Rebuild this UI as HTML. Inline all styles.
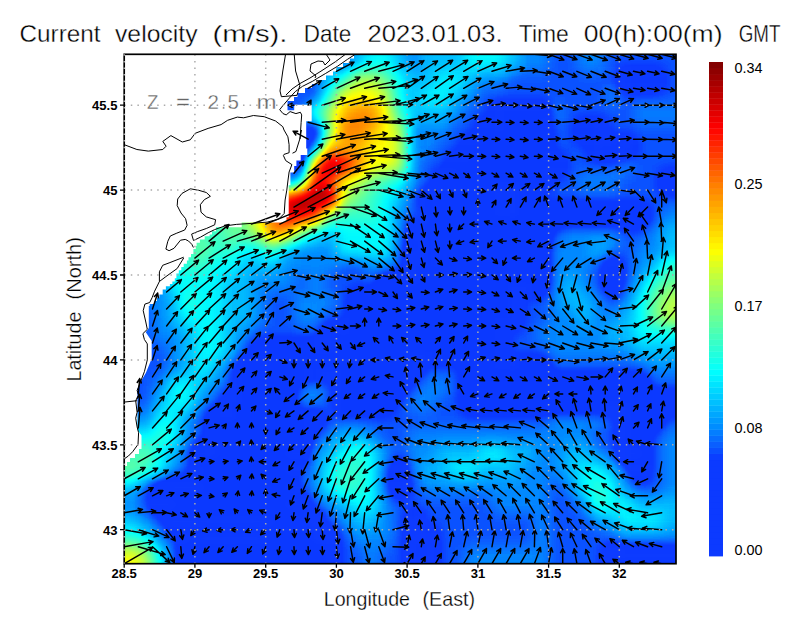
<!DOCTYPE html>
<html><head><meta charset="utf-8"><style>
html,body{margin:0;padding:0;background:#fff;}
body{width:800px;height:618px;overflow:hidden;}
svg{display:block;font-family:"Liberation Sans",sans-serif;}
</style></head><body>
<svg width="800" height="618" viewBox="0 0 800 618">
<defs>
<clipPath id="pc"><rect x="124.2" y="54.3" width="551.8" height="509.4"/></clipPath>
<filter id="fz" x="0" y="0" width="800" height="618" filterUnits="userSpaceOnUse" color-interpolation-filters="sRGB">
<feGaussianBlur stdDeviation="3.5"/>
<feComponentTransfer>
<feFuncR type="table" tableValues="0.047 0.047 0.047 0.047 0.047 0.047 0.047 0.047 0.047 0.047 0.047 0.047 0.047 0.047 0.045 0.041 0.033 0.016 0.000 0.000 0.000 0.000 0.000 0.000 0.000 0.000 0.033 0.087 0.142 0.196 0.251 0.308 0.365 0.422 0.479 0.540 0.602 0.665 0.728 0.794 0.863 0.931 1.000 1.000 1.000 1.000 1.000 1.000 1.000 1.000 1.000 1.000 1.000 1.000 1.000 1.000 1.000 1.000 1.000 1.000 0.945 0.889 0.834 0.778 0.722 0.664 0.606 0.548 0.490"/>
<feFuncG type="table" tableValues="0.227 0.227 0.227 0.227 0.227 0.227 0.227 0.227 0.227 0.227 0.227 0.227 0.227 0.227 0.272 0.347 0.422 0.495 0.569 0.627 0.686 0.745 0.803 0.861 0.919 0.977 1.000 1.000 1.000 1.000 1.000 1.000 1.000 1.000 1.000 1.000 1.000 1.000 1.000 1.000 1.000 1.000 1.000 0.945 0.889 0.834 0.778 0.723 0.668 0.612 0.557 0.502 0.439 0.376 0.314 0.251 0.188 0.125 0.063 0.000 0.000 0.000 0.000 0.000 0.000 0.000 0.000 0.000 0.000"/>
<feFuncB type="table" tableValues="1.000 1.000 1.000 1.000 1.000 1.000 1.000 1.000 1.000 1.000 1.000 1.000 1.000 1.000 1.000 1.000 1.000 1.000 1.000 1.000 1.000 1.000 1.000 1.000 1.000 1.000 0.968 0.914 0.860 0.807 0.753 0.696 0.639 0.582 0.525 0.464 0.402 0.339 0.276 0.209 0.139 0.070 0.000 0.000 0.000 0.000 0.000 0.000 0.000 0.000 0.000 0.000 0.000 0.000 0.000 0.000 0.000 0.000 0.000 0.000 0.000 0.000 0.000 0.000 0.000 0.000 0.000 0.000 0.000"/>
</feComponentTransfer>
</filter>
</defs>
<rect width="800" height="618" fill="#fff"/>
<g fill="#000" stroke="#fff" stroke-width="0.35"><text x="19.50" y="42.00" font-size="24" textLength="81.00" lengthAdjust="spacingAndGlyphs">Current</text><text x="115.00" y="42.00" font-size="24" textLength="82.50" lengthAdjust="spacingAndGlyphs">velocity</text><text x="212.50" y="42.00" font-size="24" textLength="75.00" lengthAdjust="spacingAndGlyphs">(m/s).</text><text x="303.75" y="42.00" font-size="24" textLength="47.50" lengthAdjust="spacingAndGlyphs">Date</text><text x="367.50" y="42.00" font-size="24" textLength="135.00" lengthAdjust="spacingAndGlyphs">2023.01.03.</text><text x="518.75" y="42.00" font-size="24" textLength="50.00" lengthAdjust="spacingAndGlyphs">Time</text><text x="583.75" y="42.00" font-size="24" textLength="138.75" lengthAdjust="spacingAndGlyphs">00(h):00(m)</text><text x="738.75" y="42.00" font-size="24" textLength="41.75" lengthAdjust="spacingAndGlyphs">GMT</text></g>
<g clip-path="url(#pc)">
<g filter="url(#fz)"><path fill="rgb(12,12,12)" d="M216.1 419.4h42.9v9.0h-42.9zM216.1 427.9h42.9v9.0h-42.9zM216.1 436.4h42.9v9.0h-42.9zM216.1 444.8h42.9v9.0h-42.9zM202.0 453.3h57.1v9.0h-57.1zM202.0 461.8h57.1v9.0h-57.1zM202.0 470.3h57.1v9.0h-57.1zM202.0 478.8h57.1v9.0h-57.1zM202.0 487.3h57.1v9.0h-57.1zM202.0 495.8h57.1v9.0h-57.1zM202.0 504.3h57.1v9.0h-57.1zM202.0 512.8h57.1v9.0h-57.1z"/><path fill="rgb(15,15,15)" d="M230.3 410.9h28.8v9.0h-28.8zM258.6 419.4h7.6v9.0h-7.6zM258.6 427.9h7.6v9.0h-7.6zM258.6 436.4h7.6v9.0h-7.6zM209.1 444.8h7.6v9.0h-7.6zM258.6 444.8h7.6v9.0h-7.6zM258.6 453.3h7.6v9.0h-7.6zM258.6 461.8h7.6v9.0h-7.6zM258.6 470.3h7.6v9.0h-7.6zM258.6 478.8h7.6v9.0h-7.6zM194.9 487.3h7.6v9.0h-7.6zM258.6 487.3h7.6v9.0h-7.6zM194.9 495.8h7.6v9.0h-7.6zM258.6 495.8h7.6v9.0h-7.6zM194.9 504.3h7.6v9.0h-7.6zM258.6 504.3h7.6v9.0h-7.6zM194.9 512.8h7.6v9.0h-7.6zM258.6 512.8h7.6v9.0h-7.6zM202.0 521.2h57.1v9.0h-57.1z"/><path fill="rgb(17,17,17)" d="M223.2 410.9h7.6v9.0h-7.6zM258.6 410.9h7.6v9.0h-7.6zM194.9 478.8h7.6v9.0h-7.6zM194.9 521.2h7.6v9.0h-7.6zM258.6 521.2h7.6v9.0h-7.6z"/><path fill="rgb(20,20,20)" d="M230.3 402.4h28.8v9.0h-28.8zM265.7 419.4h7.6v9.0h-7.6zM265.7 427.9h7.6v9.0h-7.6zM209.1 436.4h7.6v9.0h-7.6zM265.7 436.4h7.6v9.0h-7.6zM202.0 444.8h7.6v9.0h-7.6zM265.7 444.8h7.6v9.0h-7.6zM265.7 453.3h7.6v9.0h-7.6zM265.7 461.8h7.6v9.0h-7.6zM265.7 470.3h7.6v9.0h-7.6zM265.7 478.8h7.6v9.0h-7.6zM187.9 487.3h7.6v9.0h-7.6zM265.7 487.3h7.6v9.0h-7.6zM187.9 495.8h7.6v9.0h-7.6zM265.7 495.8h7.6v9.0h-7.6zM187.9 504.3h7.6v9.0h-7.6zM265.7 504.3h7.6v9.0h-7.6zM187.9 512.8h7.6v9.0h-7.6zM265.7 512.8h7.6v9.0h-7.6zM202.0 529.7h57.1v9.0h-57.1z"/><path fill="rgb(21,21,21)" d="M258.6 402.4h7.6v9.0h-7.6zM216.1 410.9h7.6v9.0h-7.6zM265.7 410.9h7.6v9.0h-7.6zM194.9 470.3h7.6v9.0h-7.6zM187.9 521.2h7.6v9.0h-7.6zM265.7 521.2h7.6v9.0h-7.6zM194.9 529.7h7.6v9.0h-7.6zM258.6 529.7h7.6v9.0h-7.6z"/><path fill="rgb(22,22,22)" d="M499.1 113.7h42.9v9.0h-42.9zM499.1 122.2h42.9v9.0h-42.9zM484.9 130.7h57.1v9.0h-57.1zM484.9 139.2h57.1v9.0h-57.1zM470.8 147.7h71.2v9.0h-71.2zM470.8 156.2h71.2v9.0h-71.2zM456.6 164.7h85.4v9.0h-85.4zM456.6 173.2h85.4v9.0h-85.4zM442.5 181.7h57.1v9.0h-57.1zM442.5 190.1h57.1v9.0h-57.1zM442.5 198.6h57.1v9.0h-57.1zM442.5 207.1h57.1v9.0h-57.1zM442.5 215.6h99.5v9.0h-99.5zM442.5 224.1h99.5v9.0h-99.5zM442.5 232.6h99.5v9.0h-99.5zM442.5 241.1h99.5v9.0h-99.5zM442.5 249.6h99.5v9.0h-99.5zM442.5 258.1h99.5v9.0h-99.5zM414.2 266.6h127.8v9.0h-127.8zM414.2 275.0h127.8v9.0h-127.8zM385.9 283.5h127.8v9.0h-127.8zM385.9 292.0h127.8v9.0h-127.8zM357.6 300.5h156.1v9.0h-156.1zM357.6 309.0h156.1v9.0h-156.1zM357.6 317.5h142.0v9.0h-142.0zM357.6 326.0h142.0v9.0h-142.0zM329.3 334.5h170.3v9.0h-170.3zM329.3 343.0h170.3v9.0h-170.3zM258.6 351.5h156.1v9.0h-156.1zM470.8 351.5h28.8v9.0h-28.8zM258.6 359.9h156.1v9.0h-156.1zM470.8 359.9h28.8v9.0h-28.8zM244.4 368.4h42.9v9.0h-42.9zM343.5 368.4h57.1v9.0h-57.1zM470.8 368.4h71.2v9.0h-71.2zM244.4 376.9h42.9v9.0h-42.9zM343.5 376.9h57.1v9.0h-57.1zM470.8 376.9h71.2v9.0h-71.2zM244.4 385.4h42.9v9.0h-42.9zM343.5 385.4h42.9v9.0h-42.9zM470.8 385.4h170.3v9.0h-170.3zM244.4 393.9h42.9v9.0h-42.9zM343.5 393.9h42.9v9.0h-42.9zM470.8 393.9h170.3v9.0h-170.3zM265.7 402.4h21.7v9.0h-21.7zM626.4 402.4h28.8v9.0h-28.8zM272.7 410.9h14.6v9.0h-14.6zM626.4 410.9h28.8v9.0h-28.8zM272.7 419.4h28.8v9.0h-28.8zM626.4 419.4h14.6v9.0h-14.6zM272.7 427.9h28.8v9.0h-28.8zM626.4 427.9h14.6v9.0h-14.6zM272.7 436.4h28.8v9.0h-28.8zM626.4 436.4h14.6v9.0h-14.6zM272.7 444.8h28.8v9.0h-28.8zM626.4 444.8h14.6v9.0h-14.6zM272.7 453.3h14.6v9.0h-14.6zM272.7 461.8h14.6v9.0h-14.6zM272.7 470.3h14.6v9.0h-14.6zM272.7 478.8h14.6v9.0h-14.6zM159.6 487.3h28.8v9.0h-28.8zM272.7 487.3h14.6v9.0h-14.6zM159.6 495.8h28.8v9.0h-28.8zM272.7 495.8h14.6v9.0h-14.6zM173.7 504.3h14.6v9.0h-14.6zM272.7 504.3h28.8v9.0h-28.8zM173.7 512.8h14.6v9.0h-14.6zM272.7 512.8h28.8v9.0h-28.8zM272.7 521.2h42.9v9.0h-42.9zM187.9 529.7h7.6v9.0h-7.6zM265.7 529.7h50.0v9.0h-50.0zM187.9 538.2h142.0v9.0h-142.0zM414.2 538.2h14.6v9.0h-14.6zM187.9 546.7h142.0v9.0h-142.0zM414.2 546.7h14.6v9.0h-14.6zM187.9 555.2h142.0v9.0h-142.0zM414.2 555.2h14.6v9.0h-14.6zM612.2 555.2h106.6v9.0h-106.6zM187.9 563.7h142.0v9.0h-142.0zM414.2 563.7h14.6v9.0h-14.6zM612.2 563.7h106.6v9.0h-106.6zM187.9 572.2h142.0v9.0h-142.0zM414.2 572.2h14.6v9.0h-14.6zM612.2 572.2h106.6v9.0h-106.6zM187.9 580.7h142.0v9.0h-142.0zM414.2 580.7h14.6v9.0h-14.6zM612.2 580.7h106.6v9.0h-106.6zM187.9 589.2h142.0v9.0h-142.0zM414.2 589.2h14.6v9.0h-14.6zM612.2 589.2h106.6v9.0h-106.6zM187.9 597.7h142.0v9.0h-142.0zM414.2 597.7h14.6v9.0h-14.6zM612.2 597.7h106.6v9.0h-106.6zM187.9 606.1h142.0v9.0h-142.0zM414.2 606.1h14.6v9.0h-14.6zM612.2 606.1h106.6v9.0h-106.6z"/><path fill="rgb(23,23,23)" d="M209.1 419.4h7.6v9.0h-7.6zM209.1 427.9h7.6v9.0h-7.6zM194.9 453.3h7.6v9.0h-7.6zM194.9 461.8h7.6v9.0h-7.6z"/><path fill="rgb(25,25,25)" d="M492.0 122.2h7.6v9.0h-7.6zM591.0 130.7h7.6v9.0h-7.6zM477.9 139.2h7.6v9.0h-7.6zM598.1 139.2h7.6v9.0h-7.6zM463.7 156.2h7.6v9.0h-7.6zM541.5 156.2h7.6v9.0h-7.6zM541.5 164.7h7.6v9.0h-7.6zM449.6 173.2h7.6v9.0h-7.6zM499.1 181.7h7.6v9.0h-7.6zM435.4 190.1h7.6v9.0h-7.6zM435.4 198.6h7.6v9.0h-7.6zM499.1 207.1h7.6v9.0h-7.6zM541.5 215.6h7.6v9.0h-7.6zM414.2 258.1h7.6v9.0h-7.6zM435.4 258.1h7.6v9.0h-7.6zM407.1 275.0h7.6v9.0h-7.6zM513.2 283.5h7.6v9.0h-7.6zM378.8 292.0h7.6v9.0h-7.6zM499.1 317.5h7.6v9.0h-7.6zM350.5 326.0h7.6v9.0h-7.6zM322.2 343.0h7.6v9.0h-7.6zM414.2 351.5h7.6v9.0h-7.6zM463.7 351.5h7.6v9.0h-7.6zM251.5 359.9h7.6v9.0h-7.6zM499.1 359.9h7.6v9.0h-7.6zM286.9 368.4h7.6v9.0h-7.6zM336.4 368.4h7.6v9.0h-7.6zM400.0 368.4h7.6v9.0h-7.6zM541.5 376.9h7.6v9.0h-7.6zM385.9 385.4h7.6v9.0h-7.6zM237.4 393.9h7.6v9.0h-7.6zM640.5 393.9h7.6v9.0h-7.6zM619.3 402.4h7.6v9.0h-7.6zM654.7 402.4h7.6v9.0h-7.6zM286.9 410.9h7.6v9.0h-7.6zM301.0 419.4h7.6v9.0h-7.6zM640.5 419.4h7.6v9.0h-7.6zM286.9 453.3h7.6v9.0h-7.6zM633.5 453.3h7.6v9.0h-7.6zM286.9 495.8h7.6v9.0h-7.6zM166.6 504.3h7.6v9.0h-7.6zM301.0 512.8h7.6v9.0h-7.6zM180.8 521.2h7.6v9.0h-7.6zM315.2 529.7h7.6v9.0h-7.6zM414.2 529.7h7.6v9.0h-7.6z"/><path fill="rgb(26,26,26)" d="M223.2 402.4h7.6v9.0h-7.6zM187.9 478.8h7.6v9.0h-7.6z"/><path fill="rgb(28,28,28)" d="M294.0 147.7h7.6v9.0h-7.6z"/><path fill="rgb(29,29,29)" d="M492.0 113.7h7.6v9.0h-7.6zM484.9 122.2h7.6v9.0h-7.6zM477.9 130.7h7.6v9.0h-7.6zM583.9 130.7h7.6v9.0h-7.6zM598.1 130.7h7.6v9.0h-7.6zM470.8 139.2h7.6v9.0h-7.6zM591.0 139.2h7.6v9.0h-7.6zM605.2 139.2h7.6v9.0h-7.6zM463.7 147.7h7.6v9.0h-7.6zM541.5 147.7h7.6v9.0h-7.6zM456.6 156.2h7.6v9.0h-7.6zM548.6 156.2h7.6v9.0h-7.6zM449.6 164.7h7.6v9.0h-7.6zM548.6 164.7h7.6v9.0h-7.6zM442.5 173.2h7.6v9.0h-7.6zM541.5 173.2h7.6v9.0h-7.6zM435.4 181.7h7.6v9.0h-7.6zM506.1 181.7h7.6v9.0h-7.6zM428.3 190.1h7.6v9.0h-7.6zM499.1 190.1h7.6v9.0h-7.6zM428.3 198.6h7.6v9.0h-7.6zM499.1 198.6h7.6v9.0h-7.6zM435.4 207.1h7.6v9.0h-7.6zM506.1 207.1h7.6v9.0h-7.6zM548.6 215.6h7.6v9.0h-7.6zM541.5 224.1h7.6v9.0h-7.6zM414.2 249.6h7.6v9.0h-7.6zM435.4 249.6h7.6v9.0h-7.6zM421.3 258.1h14.6v9.0h-14.6zM407.1 266.6h7.6v9.0h-7.6zM400.0 275.0h7.6v9.0h-7.6zM378.8 283.5h7.6v9.0h-7.6zM520.3 283.5h7.6v9.0h-7.6zM371.8 292.0h7.6v9.0h-7.6zM513.2 292.0h7.6v9.0h-7.6zM350.5 317.5h7.6v9.0h-7.6zM506.1 317.5h7.6v9.0h-7.6zM343.5 326.0h7.6v9.0h-7.6zM499.1 326.0h7.6v9.0h-7.6zM322.2 334.5h7.6v9.0h-7.6zM315.2 343.0h7.6v9.0h-7.6zM251.5 351.5h7.6v9.0h-7.6zM421.3 351.5h7.6v9.0h-7.6zM456.6 351.5h7.6v9.0h-7.6zM499.1 351.5h7.6v9.0h-7.6zM244.4 359.9h7.6v9.0h-7.6zM414.2 359.9h7.6v9.0h-7.6zM463.7 359.9h7.6v9.0h-7.6zM506.1 359.9h7.6v9.0h-7.6zM294.0 368.4h7.6v9.0h-7.6zM329.3 368.4h7.6v9.0h-7.6zM407.1 368.4h7.6v9.0h-7.6zM541.5 368.4h7.6v9.0h-7.6zM286.9 376.9h7.6v9.0h-7.6zM336.4 376.9h7.6v9.0h-7.6zM400.0 376.9h7.6v9.0h-7.6zM548.6 376.9h7.6v9.0h-7.6zM237.4 385.4h7.6v9.0h-7.6zM393.0 385.4h7.6v9.0h-7.6zM640.5 385.4h7.6v9.0h-7.6zM230.3 393.9h7.6v9.0h-7.6zM385.9 393.9h7.6v9.0h-7.6zM647.6 393.9h7.6v9.0h-7.6zM612.2 402.4h7.6v9.0h-7.6zM661.7 402.4h7.6v9.0h-7.6zM619.3 410.9h7.6v9.0h-7.6zM654.7 410.9h7.6v9.0h-7.6zM308.1 419.4h7.6v9.0h-7.6zM647.6 419.4h7.6v9.0h-7.6zM301.0 427.9h7.6v9.0h-7.6zM640.5 427.9h7.6v9.0h-7.6zM294.0 453.3h7.6v9.0h-7.6zM626.4 453.3h7.6v9.0h-7.6zM286.9 461.8h7.6v9.0h-7.6zM633.5 461.8h7.6v9.0h-7.6zM286.9 487.3h7.6v9.0h-7.6zM294.0 495.8h7.6v9.0h-7.6zM159.6 504.3h7.6v9.0h-7.6zM301.0 504.3h7.6v9.0h-7.6zM166.6 512.8h7.6v9.0h-7.6zM308.1 512.8h7.6v9.0h-7.6zM173.7 521.2h7.6v9.0h-7.6zM315.2 521.2h7.6v9.0h-7.6zM414.2 521.2h7.6v9.0h-7.6zM180.8 529.7h7.6v9.0h-7.6zM322.2 529.7h7.6v9.0h-7.6zM421.3 529.7h7.6v9.0h-7.6z"/><path fill="rgb(30,30,30)" d="M294.0 156.2h7.6v9.0h-7.6z"/><path fill="rgb(31,31,31)" d="M626.4 71.3h28.8v9.0h-28.8zM626.4 79.8h28.8v9.0h-28.8zM499.1 105.2h42.9v9.0h-42.9zM541.5 122.2h7.6v9.0h-7.6zM583.9 122.2h14.6v9.0h-14.6zM541.5 130.7h7.6v9.0h-7.6zM541.5 139.2h7.6v9.0h-7.6zM612.2 139.2h14.6v9.0h-14.6zM598.1 147.7h21.7v9.0h-21.7zM668.8 173.2h50.0v9.0h-50.0zM513.2 181.7h28.8v9.0h-28.8zM668.8 181.7h50.0v9.0h-50.0zM513.2 207.1h127.8v9.0h-127.8zM435.4 215.6h7.6v9.0h-7.6zM555.7 215.6h7.6v9.0h-7.6zM619.3 215.6h21.7v9.0h-21.7zM435.4 224.1h7.6v9.0h-7.6zM414.2 232.6h7.6v9.0h-7.6zM435.4 232.6h7.6v9.0h-7.6zM541.5 232.6h7.6v9.0h-7.6zM407.1 241.1h14.6v9.0h-14.6zM435.4 241.1h7.6v9.0h-7.6zM407.1 249.6h7.6v9.0h-7.6zM407.1 258.1h7.6v9.0h-7.6zM605.2 266.6h14.6v9.0h-14.6zM393.0 275.0h7.6v9.0h-7.6zM605.2 275.0h14.6v9.0h-14.6zM527.4 283.5h14.6v9.0h-14.6zM357.6 292.0h14.6v9.0h-14.6zM350.5 300.5h7.6v9.0h-7.6zM513.2 300.5h7.6v9.0h-7.6zM350.5 309.0h7.6v9.0h-7.6zM513.2 309.0h7.6v9.0h-7.6zM329.3 326.0h14.6v9.0h-14.6zM499.1 334.5h7.6v9.0h-7.6zM258.6 343.0h57.1v9.0h-57.1zM499.1 343.0h7.6v9.0h-7.6zM428.3 351.5h28.8v9.0h-28.8zM513.2 359.9h28.8v9.0h-28.8zM237.4 368.4h7.6v9.0h-7.6zM301.0 368.4h7.6v9.0h-7.6zM322.2 368.4h7.6v9.0h-7.6zM463.7 368.4h7.6v9.0h-7.6zM237.4 376.9h7.6v9.0h-7.6zM463.7 376.9h7.6v9.0h-7.6zM555.7 376.9h85.4v9.0h-85.4zM286.9 385.4h7.6v9.0h-7.6zM336.4 385.4h7.6v9.0h-7.6zM463.7 385.4h7.6v9.0h-7.6zM336.4 393.9h7.6v9.0h-7.6zM463.7 393.9h7.6v9.0h-7.6zM654.7 393.9h64.2v9.0h-64.2zM286.9 402.4h7.6v9.0h-7.6zM343.5 402.4h42.9v9.0h-42.9zM470.8 402.4h78.3v9.0h-78.3zM605.2 402.4h7.6v9.0h-7.6zM668.8 402.4h50.0v9.0h-50.0zM209.1 410.9h7.6v9.0h-7.6zM294.0 410.9h7.6v9.0h-7.6zM619.3 419.4h7.6v9.0h-7.6zM619.3 427.9h7.6v9.0h-7.6zM301.0 436.4h7.6v9.0h-7.6zM619.3 436.4h7.6v9.0h-7.6zM640.5 436.4h7.6v9.0h-7.6zM194.9 444.8h7.6v9.0h-7.6zM619.3 444.8h7.6v9.0h-7.6zM640.5 444.8h7.6v9.0h-7.6zM640.5 453.3h7.6v9.0h-7.6zM640.5 461.8h7.6v9.0h-7.6zM286.9 470.3h7.6v9.0h-7.6zM393.0 470.3h7.6v9.0h-7.6zM180.8 478.8h7.6v9.0h-7.6zM286.9 478.8h7.6v9.0h-7.6zM393.0 478.8h14.6v9.0h-14.6zM152.5 487.3h7.6v9.0h-7.6zM152.5 495.8h7.6v9.0h-7.6zM407.1 521.2h7.6v9.0h-7.6zM407.1 529.7h7.6v9.0h-7.6zM180.8 538.2h7.6v9.0h-7.6zM329.3 538.2h7.6v9.0h-7.6zM407.1 538.2h7.6v9.0h-7.6zM428.3 538.2h7.6v9.0h-7.6zM180.8 546.7h7.6v9.0h-7.6zM329.3 546.7h7.6v9.0h-7.6zM407.1 546.7h7.6v9.0h-7.6zM428.3 546.7h7.6v9.0h-7.6zM612.2 546.7h7.6v9.0h-7.6zM180.8 555.2h7.6v9.0h-7.6zM329.3 555.2h7.6v9.0h-7.6zM407.1 555.2h7.6v9.0h-7.6zM428.3 555.2h7.6v9.0h-7.6zM605.2 555.2h7.6v9.0h-7.6zM180.8 563.7h7.6v9.0h-7.6zM329.3 563.7h7.6v9.0h-7.6zM407.1 563.7h7.6v9.0h-7.6zM428.3 563.7h7.6v9.0h-7.6zM605.2 563.7h7.6v9.0h-7.6zM180.8 572.2h7.6v9.0h-7.6zM329.3 572.2h7.6v9.0h-7.6zM407.1 572.2h7.6v9.0h-7.6zM428.3 572.2h7.6v9.0h-7.6zM605.2 572.2h7.6v9.0h-7.6zM180.8 580.7h7.6v9.0h-7.6zM329.3 580.7h7.6v9.0h-7.6zM407.1 580.7h7.6v9.0h-7.6zM428.3 580.7h7.6v9.0h-7.6zM605.2 580.7h7.6v9.0h-7.6zM180.8 589.2h7.6v9.0h-7.6zM329.3 589.2h7.6v9.0h-7.6zM407.1 589.2h7.6v9.0h-7.6zM428.3 589.2h7.6v9.0h-7.6zM605.2 589.2h7.6v9.0h-7.6zM180.8 597.7h7.6v9.0h-7.6zM329.3 597.7h7.6v9.0h-7.6zM407.1 597.7h7.6v9.0h-7.6zM428.3 597.7h7.6v9.0h-7.6zM605.2 597.7h7.6v9.0h-7.6zM180.8 606.1h7.6v9.0h-7.6zM329.3 606.1h7.6v9.0h-7.6zM407.1 606.1h7.6v9.0h-7.6zM428.3 606.1h7.6v9.0h-7.6zM605.2 606.1h7.6v9.0h-7.6z"/><path fill="rgb(33,33,33)" d="M541.5 113.7h7.6v9.0h-7.6zM294.0 139.2h7.6v9.0h-7.6zM619.3 147.7h7.6v9.0h-7.6zM562.7 215.6h57.1v9.0h-57.1zM407.1 232.6h7.6v9.0h-7.6zM541.5 241.1h7.6v9.0h-7.6zM541.5 249.6h7.6v9.0h-7.6zM541.5 258.1h7.6v9.0h-7.6zM541.5 266.6h7.6v9.0h-7.6zM385.9 275.0h7.6v9.0h-7.6zM541.5 275.0h7.6v9.0h-7.6zM308.1 368.4h14.6v9.0h-14.6zM286.9 393.9h7.6v9.0h-7.6zM548.6 402.4h57.1v9.0h-57.1zM301.0 410.9h14.6v9.0h-14.6zM301.0 444.8h7.6v9.0h-7.6zM400.0 470.3h7.6v9.0h-7.6zM173.7 478.8h7.6v9.0h-7.6zM619.3 546.7h99.5v9.0h-99.5z"/><path fill="rgb(35,35,35)" d="M166.6 478.8h7.6v9.0h-7.6z"/><path fill="rgb(36,36,36)" d="M202.0 436.4h7.6v9.0h-7.6z"/><path fill="rgb(37,37,37)" d="M619.3 71.3h7.6v9.0h-7.6zM654.7 71.3h7.6v9.0h-7.6zM619.3 79.8h7.6v9.0h-7.6zM654.7 79.8h7.6v9.0h-7.6zM492.0 105.2h7.6v9.0h-7.6zM477.9 122.2h7.6v9.0h-7.6zM576.9 122.2h7.6v9.0h-7.6zM598.1 122.2h7.6v9.0h-7.6zM308.1 130.7h7.6v9.0h-7.6zM576.9 130.7h7.6v9.0h-7.6zM286.9 139.2h7.6v9.0h-7.6zM301.0 139.2h7.6v9.0h-7.6zM463.7 139.2h7.6v9.0h-7.6zM626.4 139.2h7.6v9.0h-7.6zM591.0 147.7h7.6v9.0h-7.6zM449.6 156.2h7.6v9.0h-7.6zM555.7 156.2h7.6v9.0h-7.6zM555.7 164.7h7.6v9.0h-7.6zM435.4 173.2h7.6v9.0h-7.6zM661.7 173.2h7.6v9.0h-7.6zM541.5 181.7h7.6v9.0h-7.6zM661.7 181.7h7.6v9.0h-7.6zM421.3 190.1h7.6v9.0h-7.6zM421.3 198.6h7.6v9.0h-7.6zM640.5 207.1h7.6v9.0h-7.6zM640.5 215.6h7.6v9.0h-7.6zM414.2 224.1h7.6v9.0h-7.6zM605.2 283.5h14.6v9.0h-14.6zM350.5 292.0h7.6v9.0h-7.6zM513.2 317.5h7.6v9.0h-7.6zM322.2 326.0h7.6v9.0h-7.6zM251.5 343.0h7.6v9.0h-7.6zM541.5 359.9h7.6v9.0h-7.6zM414.2 368.4h7.6v9.0h-7.6zM640.5 376.9h7.6v9.0h-7.6zM400.0 385.4h7.6v9.0h-7.6zM223.2 393.9h7.6v9.0h-7.6zM336.4 402.4h7.6v9.0h-7.6zM385.9 402.4h7.6v9.0h-7.6zM463.7 402.4h7.6v9.0h-7.6zM315.2 419.4h7.6v9.0h-7.6zM654.7 419.4h7.6v9.0h-7.6zM393.0 461.8h7.6v9.0h-7.6zM633.5 470.3h14.6v9.0h-14.6zM393.0 487.3h14.6v9.0h-14.6zM301.0 495.8h7.6v9.0h-7.6zM152.5 504.3h7.6v9.0h-7.6zM315.2 512.8h7.6v9.0h-7.6zM407.1 512.8h14.6v9.0h-14.6zM166.6 521.2h7.6v9.0h-7.6zM329.3 529.7h7.6v9.0h-7.6zM428.3 529.7h7.6v9.0h-7.6zM605.2 546.7h7.6v9.0h-7.6z"/><path fill="rgb(38,38,38)" d="M286.9 147.7h7.6v9.0h-7.6zM237.4 359.9h7.6v9.0h-7.6zM216.1 402.4h7.6v9.0h-7.6zM619.3 453.3h7.6v9.0h-7.6zM187.9 470.3h7.6v9.0h-7.6z"/><path fill="rgb(39,39,39)" d="M541.5 105.2h7.6v9.0h-7.6zM626.4 147.7h7.6v9.0h-7.6zM407.1 224.1h7.6v9.0h-7.6zM612.2 258.1h7.6v9.0h-7.6zM378.8 275.0h7.6v9.0h-7.6zM541.5 283.5h7.6v9.0h-7.6zM315.2 410.9h7.6v9.0h-7.6zM301.0 453.3h7.6v9.0h-7.6zM400.0 461.8h7.6v9.0h-7.6zM159.6 478.8h7.6v9.0h-7.6z"/><path fill="rgb(40,40,40)" d="M605.2 258.1h7.6v9.0h-7.6z"/><path fill="rgb(41,41,41)" d="M484.9 113.7h7.6v9.0h-7.6zM279.8 130.7h14.6v9.0h-14.6zM470.8 130.7h7.6v9.0h-7.6zM605.2 130.7h7.6v9.0h-7.6zM583.9 139.2h7.6v9.0h-7.6zM301.0 147.7h7.6v9.0h-7.6zM456.6 147.7h7.6v9.0h-7.6zM548.6 147.7h7.6v9.0h-7.6zM442.5 164.7h7.6v9.0h-7.6zM548.6 173.2h7.6v9.0h-7.6zM428.3 181.7h7.6v9.0h-7.6zM506.1 190.1h7.6v9.0h-7.6zM506.1 198.6h7.6v9.0h-7.6zM428.3 207.1h7.6v9.0h-7.6zM548.6 224.1h7.6v9.0h-7.6zM421.3 249.6h14.6v9.0h-14.6zM400.0 266.6h7.6v9.0h-7.6zM371.8 283.5h7.6v9.0h-7.6zM520.3 292.0h7.6v9.0h-7.6zM343.5 317.5h7.6v9.0h-7.6zM506.1 326.0h7.6v9.0h-7.6zM315.2 334.5h7.6v9.0h-7.6zM244.4 351.5h7.6v9.0h-7.6zM506.1 351.5h7.6v9.0h-7.6zM421.3 359.9h7.6v9.0h-7.6zM456.6 359.9h7.6v9.0h-7.6zM548.6 368.4h7.6v9.0h-7.6zM294.0 376.9h7.6v9.0h-7.6zM329.3 376.9h7.6v9.0h-7.6zM407.1 376.9h7.6v9.0h-7.6zM230.3 385.4h7.6v9.0h-7.6zM647.6 385.4h7.6v9.0h-7.6zM393.0 393.9h7.6v9.0h-7.6zM612.2 410.9h7.6v9.0h-7.6zM661.7 410.9h7.6v9.0h-7.6zM308.1 427.9h7.6v9.0h-7.6zM647.6 427.9h7.6v9.0h-7.6zM294.0 461.8h7.6v9.0h-7.6zM626.4 461.8h7.6v9.0h-7.6zM294.0 487.3h7.6v9.0h-7.6zM308.1 504.3h7.6v9.0h-7.6zM159.6 512.8h7.6v9.0h-7.6zM322.2 521.2h7.6v9.0h-7.6zM421.3 521.2h7.6v9.0h-7.6zM173.7 529.7h7.6v9.0h-7.6z"/><path fill="rgb(42,42,42)" d="M279.8 139.2h7.6v9.0h-7.6z"/><path fill="rgb(43,43,43)" d="M301.0 130.7h7.6v9.0h-7.6z"/><path fill="rgb(44,44,44)" d="M279.8 122.2h7.6v9.0h-7.6zM286.9 156.2h7.6v9.0h-7.6zM294.0 164.7h7.6v9.0h-7.6zM202.0 419.4h7.6v9.0h-7.6zM202.0 427.9h7.6v9.0h-7.6zM187.9 453.3h7.6v9.0h-7.6zM187.9 461.8h7.6v9.0h-7.6z"/><path fill="rgb(45,45,45)" d="M294.0 130.7h7.6v9.0h-7.6z"/><path fill="rgb(46,46,46)" d="M286.9 122.2h7.6v9.0h-7.6zM279.8 147.7h7.6v9.0h-7.6z"/><path fill="rgb(47,47,47)" d="M626.4 62.8h28.8v9.0h-28.8zM626.4 88.3h28.8v9.0h-28.8zM499.1 96.8h42.9v9.0h-42.9zM583.9 113.7h14.6v9.0h-14.6zM308.1 122.2h7.6v9.0h-7.6zM272.7 130.7h7.6v9.0h-7.6zM548.6 130.7h7.6v9.0h-7.6zM612.2 130.7h14.6v9.0h-14.6zM548.6 139.2h7.6v9.0h-7.6zM598.1 156.2h14.6v9.0h-14.6zM668.8 164.7h50.0v9.0h-50.0zM513.2 190.1h28.8v9.0h-28.8zM668.8 190.1h50.0v9.0h-50.0zM513.2 198.6h127.8v9.0h-127.8zM428.3 215.6h7.6v9.0h-7.6zM428.3 224.1h7.6v9.0h-7.6zM626.4 224.1h14.6v9.0h-14.6zM421.3 232.6h14.6v9.0h-14.6zM421.3 241.1h14.6v9.0h-14.6zM400.0 249.6h7.6v9.0h-7.6zM400.0 258.1h7.6v9.0h-7.6zM598.1 266.6h7.6v9.0h-7.6zM619.3 266.6h7.6v9.0h-7.6zM598.1 275.0h7.6v9.0h-7.6zM619.3 275.0h7.6v9.0h-7.6zM357.6 283.5h14.6v9.0h-14.6zM527.4 292.0h14.6v9.0h-14.6zM343.5 300.5h7.6v9.0h-7.6zM520.3 300.5h7.6v9.0h-7.6zM343.5 309.0h7.6v9.0h-7.6zM520.3 309.0h7.6v9.0h-7.6zM329.3 317.5h14.6v9.0h-14.6zM258.6 334.5h57.1v9.0h-57.1zM506.1 334.5h7.6v9.0h-7.6zM506.1 343.0h7.6v9.0h-7.6zM513.2 351.5h28.8v9.0h-28.8zM428.3 359.9h28.8v9.0h-28.8zM230.3 368.4h7.6v9.0h-7.6zM456.6 368.4h7.6v9.0h-7.6zM555.7 368.4h85.4v9.0h-85.4zM230.3 376.9h7.6v9.0h-7.6zM456.6 376.9h7.6v9.0h-7.6zM329.3 385.4h7.6v9.0h-7.6zM456.6 385.4h7.6v9.0h-7.6zM654.7 385.4h64.2v9.0h-64.2zM329.3 393.9h7.6v9.0h-7.6zM456.6 393.9h7.6v9.0h-7.6zM294.0 402.4h7.6v9.0h-7.6zM343.5 410.9h42.9v9.0h-42.9zM470.8 410.9h71.2v9.0h-71.2zM668.8 410.9h50.0v9.0h-50.0zM612.2 419.4h7.6v9.0h-7.6zM612.2 427.9h7.6v9.0h-7.6zM612.2 436.4h7.6v9.0h-7.6zM647.6 436.4h7.6v9.0h-7.6zM612.2 444.8h7.6v9.0h-7.6zM647.6 444.8h7.6v9.0h-7.6zM647.6 453.3h7.6v9.0h-7.6zM647.6 461.8h7.6v9.0h-7.6zM294.0 470.3h7.6v9.0h-7.6zM385.9 470.3h7.6v9.0h-7.6zM152.5 478.8h7.6v9.0h-7.6zM294.0 478.8h7.6v9.0h-7.6zM385.9 478.8h7.6v9.0h-7.6zM145.4 487.3h7.6v9.0h-7.6zM145.4 495.8h7.6v9.0h-7.6zM400.0 521.2h7.6v9.0h-7.6zM400.0 529.7h7.6v9.0h-7.6zM173.7 538.2h7.6v9.0h-7.6zM336.4 538.2h7.6v9.0h-7.6zM400.0 538.2h7.6v9.0h-7.6zM435.4 538.2h7.6v9.0h-7.6zM173.7 546.7h7.6v9.0h-7.6zM336.4 546.7h7.6v9.0h-7.6zM400.0 546.7h7.6v9.0h-7.6zM435.4 546.7h7.6v9.0h-7.6zM173.7 555.2h7.6v9.0h-7.6zM336.4 555.2h7.6v9.0h-7.6zM400.0 555.2h7.6v9.0h-7.6zM435.4 555.2h7.6v9.0h-7.6zM598.1 555.2h7.6v9.0h-7.6zM173.7 563.7h7.6v9.0h-7.6zM336.4 563.7h7.6v9.0h-7.6zM400.0 563.7h7.6v9.0h-7.6zM435.4 563.7h7.6v9.0h-7.6zM598.1 563.7h7.6v9.0h-7.6zM173.7 572.2h7.6v9.0h-7.6zM336.4 572.2h7.6v9.0h-7.6zM400.0 572.2h7.6v9.0h-7.6zM435.4 572.2h7.6v9.0h-7.6zM598.1 572.2h7.6v9.0h-7.6zM173.7 580.7h7.6v9.0h-7.6zM336.4 580.7h7.6v9.0h-7.6zM400.0 580.7h7.6v9.0h-7.6zM435.4 580.7h7.6v9.0h-7.6zM598.1 580.7h7.6v9.0h-7.6zM173.7 589.2h7.6v9.0h-7.6zM336.4 589.2h7.6v9.0h-7.6zM400.0 589.2h7.6v9.0h-7.6zM435.4 589.2h7.6v9.0h-7.6zM598.1 589.2h7.6v9.0h-7.6zM173.7 597.7h7.6v9.0h-7.6zM336.4 597.7h7.6v9.0h-7.6zM400.0 597.7h7.6v9.0h-7.6zM435.4 597.7h7.6v9.0h-7.6zM598.1 597.7h7.6v9.0h-7.6zM173.7 606.1h7.6v9.0h-7.6zM336.4 606.1h7.6v9.0h-7.6zM400.0 606.1h7.6v9.0h-7.6zM435.4 606.1h7.6v9.0h-7.6zM598.1 606.1h7.6v9.0h-7.6z"/><path fill="rgb(48,48,48)" d="M272.7 122.2h7.6v9.0h-7.6z"/><path fill="rgb(49,49,49)" d="M619.3 62.8h7.6v9.0h-7.6zM654.7 62.8h7.6v9.0h-7.6zM612.2 71.3h7.6v9.0h-7.6zM661.7 71.3h7.6v9.0h-7.6zM661.7 79.8h7.6v9.0h-7.6zM654.7 88.3h7.6v9.0h-7.6zM492.0 96.8h7.6v9.0h-7.6zM541.5 96.8h7.6v9.0h-7.6zM484.9 105.2h7.6v9.0h-7.6zM477.9 113.7h7.6v9.0h-7.6zM576.9 113.7h7.6v9.0h-7.6zM598.1 113.7h7.6v9.0h-7.6zM470.8 122.2h7.6v9.0h-7.6zM548.6 122.2h7.6v9.0h-7.6zM569.8 122.2h7.6v9.0h-7.6zM605.2 122.2h7.6v9.0h-7.6zM463.7 130.7h7.6v9.0h-7.6zM569.8 130.7h7.6v9.0h-7.6zM626.4 130.7h7.6v9.0h-7.6zM308.1 139.2h7.6v9.0h-7.6zM456.6 139.2h7.6v9.0h-7.6zM576.9 139.2h7.6v9.0h-7.6zM633.5 139.2h7.6v9.0h-7.6zM449.6 147.7h7.6v9.0h-7.6zM555.7 147.7h7.6v9.0h-7.6zM583.9 147.7h7.6v9.0h-7.6zM633.5 147.7h7.6v9.0h-7.6zM442.5 156.2h7.6v9.0h-7.6zM562.7 156.2h7.6v9.0h-7.6zM591.0 156.2h7.6v9.0h-7.6zM612.2 156.2h7.6v9.0h-7.6zM435.4 164.7h7.6v9.0h-7.6zM562.7 164.7h7.6v9.0h-7.6zM661.7 164.7h7.6v9.0h-7.6zM428.3 173.2h7.6v9.0h-7.6zM555.7 173.2h7.6v9.0h-7.6zM654.7 173.2h7.6v9.0h-7.6zM548.6 181.7h7.6v9.0h-7.6zM654.7 181.7h7.6v9.0h-7.6zM541.5 190.1h7.6v9.0h-7.6zM661.7 190.1h7.6v9.0h-7.6zM414.2 198.6h7.6v9.0h-7.6zM640.5 198.6h7.6v9.0h-7.6zM421.3 207.1h7.6v9.0h-7.6zM647.6 207.1h7.6v9.0h-7.6zM414.2 215.6h7.6v9.0h-7.6zM421.3 224.1h7.6v9.0h-7.6zM555.7 224.1h7.6v9.0h-7.6zM619.3 224.1h7.6v9.0h-7.6zM548.6 232.6h7.6v9.0h-7.6zM400.0 241.1h7.6v9.0h-7.6zM619.3 258.1h7.6v9.0h-7.6zM393.0 266.6h7.6v9.0h-7.6zM350.5 283.5h7.6v9.0h-7.6zM343.5 292.0h7.6v9.0h-7.6zM520.3 317.5h7.6v9.0h-7.6zM513.2 326.0h7.6v9.0h-7.6zM301.0 376.9h7.6v9.0h-7.6zM322.2 376.9h7.6v9.0h-7.6zM294.0 385.4h7.6v9.0h-7.6zM209.1 402.4h7.6v9.0h-7.6zM329.3 402.4h7.6v9.0h-7.6zM393.0 402.4h7.6v9.0h-7.6zM456.6 402.4h7.6v9.0h-7.6zM202.0 410.9h7.6v9.0h-7.6zM322.2 410.9h7.6v9.0h-7.6zM336.4 410.9h7.6v9.0h-7.6zM385.9 410.9h7.6v9.0h-7.6zM463.7 410.9h7.6v9.0h-7.6zM541.5 410.9h7.6v9.0h-7.6zM605.2 410.9h7.6v9.0h-7.6zM194.9 436.4h7.6v9.0h-7.6zM308.1 436.4h7.6v9.0h-7.6zM187.9 444.8h7.6v9.0h-7.6zM180.8 470.3h7.6v9.0h-7.6zM647.6 470.3h7.6v9.0h-7.6zM407.1 478.8h7.6v9.0h-7.6zM640.5 478.8h7.6v9.0h-7.6zM407.1 487.3h7.6v9.0h-7.6zM400.0 495.8h7.6v9.0h-7.6zM407.1 504.3h14.6v9.0h-14.6zM400.0 512.8h7.6v9.0h-7.6zM421.3 512.8h7.6v9.0h-7.6zM428.3 521.2h7.6v9.0h-7.6zM435.4 529.7h7.6v9.0h-7.6zM605.2 538.2h14.6v9.0h-14.6zM598.1 546.7h7.6v9.0h-7.6z"/><path fill="rgb(50,50,50)" d="M272.7 139.2h7.6v9.0h-7.6z"/><path fill="rgb(51,51,51)" d="M612.2 79.8h7.6v9.0h-7.6zM619.3 88.3h7.6v9.0h-7.6zM279.8 113.7h7.6v9.0h-7.6zM265.7 122.2h7.6v9.0h-7.6zM265.7 130.7h7.6v9.0h-7.6zM286.9 164.7h7.6v9.0h-7.6zM421.3 181.7h7.6v9.0h-7.6zM414.2 190.1h7.6v9.0h-7.6zM647.6 215.6h7.6v9.0h-7.6zM640.5 224.1h7.6v9.0h-7.6zM598.1 283.5h7.6v9.0h-7.6zM619.3 283.5h7.6v9.0h-7.6zM605.2 292.0h14.6v9.0h-14.6zM322.2 317.5h7.6v9.0h-7.6zM315.2 326.0h7.6v9.0h-7.6zM251.5 334.5h7.6v9.0h-7.6zM244.4 343.0h7.6v9.0h-7.6zM541.5 351.5h7.6v9.0h-7.6zM548.6 359.9h7.6v9.0h-7.6zM421.3 368.4h7.6v9.0h-7.6zM640.5 368.4h7.6v9.0h-7.6zM414.2 376.9h7.6v9.0h-7.6zM647.6 376.9h7.6v9.0h-7.6zM223.2 385.4h7.6v9.0h-7.6zM407.1 385.4h7.6v9.0h-7.6zM216.1 393.9h7.6v9.0h-7.6zM400.0 393.9h7.6v9.0h-7.6zM322.2 419.4h7.6v9.0h-7.6zM661.7 419.4h7.6v9.0h-7.6zM315.2 427.9h7.6v9.0h-7.6zM654.7 427.9h7.6v9.0h-7.6zM393.0 453.3h7.6v9.0h-7.6zM385.9 461.8h7.6v9.0h-7.6zM626.4 470.3h7.6v9.0h-7.6zM633.5 478.8h7.6v9.0h-7.6zM301.0 487.3h7.6v9.0h-7.6zM385.9 487.3h7.6v9.0h-7.6zM308.1 495.8h7.6v9.0h-7.6zM393.0 495.8h7.6v9.0h-7.6zM145.4 504.3h7.6v9.0h-7.6zM315.2 504.3h7.6v9.0h-7.6zM152.5 512.8h7.6v9.0h-7.6zM322.2 512.8h7.6v9.0h-7.6zM159.6 521.2h7.6v9.0h-7.6zM329.3 521.2h7.6v9.0h-7.6zM166.6 529.7h7.6v9.0h-7.6zM336.4 529.7h7.6v9.0h-7.6z"/><path fill="rgb(52,52,52)" d="M286.9 113.7h7.6v9.0h-7.6zM294.0 122.2h7.6v9.0h-7.6zM272.7 147.7h7.6v9.0h-7.6zM279.8 156.2h7.6v9.0h-7.6zM407.1 215.6h7.6v9.0h-7.6zM371.8 275.0h7.6v9.0h-7.6zM541.5 292.0h7.6v9.0h-7.6zM400.0 453.3h7.6v9.0h-7.6zM301.0 461.8h7.6v9.0h-7.6z"/><path fill="rgb(53,53,53)" d="M612.2 62.8h7.6v9.0h-7.6zM661.7 62.8h7.6v9.0h-7.6zM661.7 88.3h7.6v9.0h-7.6zM484.9 96.8h7.6v9.0h-7.6zM272.7 113.7h7.6v9.0h-7.6zM470.8 113.7h7.6v9.0h-7.6zM548.6 113.7h7.6v9.0h-7.6zM569.8 113.7h7.6v9.0h-7.6zM605.2 113.7h7.6v9.0h-7.6zM301.0 122.2h7.6v9.0h-7.6zM456.6 130.7h7.6v9.0h-7.6zM633.5 130.7h7.6v9.0h-7.6zM569.8 139.2h7.6v9.0h-7.6zM442.5 147.7h7.6v9.0h-7.6zM562.7 147.7h7.6v9.0h-7.6zM583.9 156.2h7.6v9.0h-7.6zM619.3 156.2h7.6v9.0h-7.6zM428.3 164.7h7.6v9.0h-7.6zM654.7 164.7h7.6v9.0h-7.6zM562.7 173.2h7.6v9.0h-7.6zM548.6 190.1h7.6v9.0h-7.6zM654.7 190.1h7.6v9.0h-7.6zM647.6 198.6h7.6v9.0h-7.6zM414.2 207.1h7.6v9.0h-7.6zM421.3 215.6h7.6v9.0h-7.6zM562.7 224.1h7.6v9.0h-7.6zM612.2 224.1h7.6v9.0h-7.6zM400.0 232.6h7.6v9.0h-7.6zM548.6 241.1h7.6v9.0h-7.6zM385.9 266.6h7.6v9.0h-7.6zM343.5 283.5h7.6v9.0h-7.6zM520.3 326.0h7.6v9.0h-7.6zM237.4 351.5h7.6v9.0h-7.6zM230.3 359.9h7.6v9.0h-7.6zM308.1 376.9h14.6v9.0h-14.6zM294.0 393.9h7.6v9.0h-7.6zM329.3 410.9h7.6v9.0h-7.6zM393.0 410.9h7.6v9.0h-7.6zM456.6 410.9h7.6v9.0h-7.6zM548.6 410.9h7.6v9.0h-7.6zM598.1 410.9h7.6v9.0h-7.6zM308.1 444.8h7.6v9.0h-7.6zM612.2 453.3h7.6v9.0h-7.6zM619.3 461.8h7.6v9.0h-7.6zM173.7 470.3h7.6v9.0h-7.6zM407.1 470.3h7.6v9.0h-7.6zM647.6 478.8h7.6v9.0h-7.6zM407.1 495.8h7.6v9.0h-7.6zM400.0 504.3h7.6v9.0h-7.6zM421.3 504.3h7.6v9.0h-7.6zM435.4 521.2h7.6v9.0h-7.6zM598.1 538.2h7.6v9.0h-7.6zM619.3 538.2h7.6v9.0h-7.6z"/><path fill="rgb(54,54,54)" d="M258.6 113.7h14.6v9.0h-14.6zM258.6 122.2h7.6v9.0h-7.6zM258.6 130.7h7.6v9.0h-7.6zM258.6 139.2h14.6v9.0h-14.6zM272.7 156.2h7.6v9.0h-7.6zM598.1 258.1h7.6v9.0h-7.6z"/><path fill="rgb(55,55,55)" d="M173.7 3.4h127.8v9.0h-127.8zM555.7 3.4h14.6v9.0h-14.6zM612.2 3.4h106.6v9.0h-106.6zM173.7 11.8h127.8v9.0h-127.8zM555.7 11.8h14.6v9.0h-14.6zM612.2 11.8h106.6v9.0h-106.6zM173.7 20.3h127.8v9.0h-127.8zM555.7 20.3h14.6v9.0h-14.6zM612.2 20.3h106.6v9.0h-106.6zM173.7 28.8h127.8v9.0h-127.8zM555.7 28.8h14.6v9.0h-14.6zM612.2 28.8h106.6v9.0h-106.6zM173.7 37.3h127.8v9.0h-127.8zM555.7 37.3h14.6v9.0h-14.6zM612.2 37.3h106.6v9.0h-106.6zM173.7 45.8h127.8v9.0h-127.8zM555.7 45.8h14.6v9.0h-14.6zM612.2 45.8h106.6v9.0h-106.6zM173.7 54.3h127.8v9.0h-127.8zM555.7 54.3h14.6v9.0h-14.6zM612.2 54.3h106.6v9.0h-106.6zM187.9 62.8h113.7v9.0h-113.7zM555.7 62.8h14.6v9.0h-14.6zM668.8 62.8h50.0v9.0h-50.0zM187.9 71.3h120.7v9.0h-120.7zM548.6 71.3h28.8v9.0h-28.8zM605.2 71.3h7.6v9.0h-7.6zM668.8 71.3h50.0v9.0h-50.0zM202.0 79.8h113.7v9.0h-113.7zM513.2 79.8h92.4v9.0h-92.4zM668.8 79.8h50.0v9.0h-50.0zM202.0 88.3h113.7v9.0h-113.7zM506.1 88.3h92.4v9.0h-92.4zM668.8 88.3h50.0v9.0h-50.0zM216.1 96.8h85.4v9.0h-85.4zM548.6 96.8h7.6v9.0h-7.6zM562.7 96.8h35.9v9.0h-35.9zM626.4 96.8h7.6v9.0h-7.6zM216.1 105.2h78.3v9.0h-78.3zM477.9 105.2h7.6v9.0h-7.6zM548.6 105.2h7.6v9.0h-7.6zM569.8 105.2h35.9v9.0h-35.9zM619.3 105.2h7.6v9.0h-7.6zM230.3 113.7h28.8v9.0h-28.8zM612.2 113.7h14.6v9.0h-14.6zM237.4 122.2h21.7v9.0h-21.7zM463.7 122.2h7.6v9.0h-7.6zM562.7 122.2h7.6v9.0h-7.6zM612.2 122.2h21.7v9.0h-21.7zM251.5 130.7h7.6v9.0h-7.6zM555.7 130.7h14.6v9.0h-14.6zM640.5 130.7h78.3v9.0h-78.3zM449.6 139.2h7.6v9.0h-7.6zM555.7 139.2h14.6v9.0h-14.6zM640.5 139.2h78.3v9.0h-78.3zM569.8 147.7h14.6v9.0h-14.6zM640.5 147.7h78.3v9.0h-78.3zM435.4 156.2h7.6v9.0h-7.6zM569.8 156.2h14.6v9.0h-14.6zM626.4 156.2h92.4v9.0h-92.4zM569.8 164.7h7.6v9.0h-7.6zM640.5 164.7h14.6v9.0h-14.6zM633.5 173.2h21.7v9.0h-21.7zM555.7 181.7h14.6v9.0h-14.6zM626.4 181.7h28.8v9.0h-28.8zM555.7 190.1h21.7v9.0h-21.7zM619.3 190.1h35.9v9.0h-35.9zM654.7 198.6h7.6v9.0h-7.6zM569.8 224.1h42.9v9.0h-42.9zM626.4 232.6h7.6v9.0h-7.6zM548.6 249.6h7.6v9.0h-7.6zM612.2 249.6h14.6v9.0h-14.6zM548.6 258.1h7.6v9.0h-7.6zM343.5 266.6h14.6v9.0h-14.6zM548.6 266.6h7.6v9.0h-7.6zM336.4 275.0h28.8v9.0h-28.8zM548.6 275.0h7.6v9.0h-7.6zM336.4 283.5h7.6v9.0h-7.6zM81.8 300.5h50.0v9.0h-50.0zM272.7 300.5h14.6v9.0h-14.6zM527.4 300.5h14.6v9.0h-14.6zM81.8 309.0h57.1v9.0h-57.1zM272.7 309.0h14.6v9.0h-14.6zM336.4 309.0h7.6v9.0h-7.6zM527.4 309.0h14.6v9.0h-14.6zM81.8 317.5h64.2v9.0h-64.2zM272.7 317.5h14.6v9.0h-14.6zM527.4 317.5h7.6v9.0h-7.6zM81.8 326.0h64.2v9.0h-64.2zM265.7 326.0h28.8v9.0h-28.8zM81.8 334.5h64.2v9.0h-64.2zM513.2 334.5h14.6v9.0h-14.6zM81.8 343.0h71.2v9.0h-71.2zM513.2 343.0h21.7v9.0h-21.7zM81.8 351.5h78.3v9.0h-78.3zM81.8 359.9h78.3v9.0h-78.3zM81.8 368.4h71.2v9.0h-71.2zM449.6 368.4h7.6v9.0h-7.6zM81.8 376.9h64.2v9.0h-64.2zM131.3 385.4h14.6v9.0h-14.6zM138.3 393.9h7.6v9.0h-7.6zM449.6 393.9h7.6v9.0h-7.6zM301.0 402.4h28.8v9.0h-28.8zM442.5 402.4h14.6v9.0h-14.6zM400.0 410.9h7.6v9.0h-7.6zM435.4 410.9h21.7v9.0h-21.7zM555.7 410.9h42.9v9.0h-42.9zM378.8 419.4h28.8v9.0h-28.8zM385.9 427.9h14.6v9.0h-14.6zM605.2 427.9h7.6v9.0h-7.6zM393.0 436.4h7.6v9.0h-7.6zM605.2 436.4h7.6v9.0h-7.6zM414.2 495.8h7.6v9.0h-7.6zM555.7 495.8h7.6v9.0h-7.6zM428.3 504.3h57.1v9.0h-57.1zM555.7 504.3h14.6v9.0h-14.6zM428.3 512.8h64.2v9.0h-64.2zM555.7 512.8h21.7v9.0h-21.7zM442.5 521.2h85.4v9.0h-85.4zM555.7 521.2h28.8v9.0h-28.8zM442.5 529.7h85.4v9.0h-85.4zM555.7 529.7h35.9v9.0h-35.9zM442.5 538.2h21.7v9.0h-21.7zM555.7 538.2h42.9v9.0h-42.9zM626.4 538.2h92.4v9.0h-92.4zM343.5 546.7h7.6v9.0h-7.6zM393.0 546.7h7.6v9.0h-7.6zM442.5 546.7h14.6v9.0h-14.6zM555.7 546.7h42.9v9.0h-42.9zM343.5 555.2h14.6v9.0h-14.6zM385.9 555.2h14.6v9.0h-14.6zM442.5 555.2h14.6v9.0h-14.6zM555.7 555.2h42.9v9.0h-42.9zM343.5 563.7h14.6v9.0h-14.6zM385.9 563.7h14.6v9.0h-14.6zM442.5 563.7h14.6v9.0h-14.6zM555.7 563.7h42.9v9.0h-42.9zM343.5 572.2h14.6v9.0h-14.6zM385.9 572.2h14.6v9.0h-14.6zM442.5 572.2h14.6v9.0h-14.6zM555.7 572.2h42.9v9.0h-42.9zM343.5 580.7h14.6v9.0h-14.6zM385.9 580.7h14.6v9.0h-14.6zM442.5 580.7h14.6v9.0h-14.6zM555.7 580.7h42.9v9.0h-42.9zM343.5 589.2h14.6v9.0h-14.6zM385.9 589.2h14.6v9.0h-14.6zM442.5 589.2h14.6v9.0h-14.6zM555.7 589.2h42.9v9.0h-42.9zM343.5 597.7h14.6v9.0h-14.6zM385.9 597.7h14.6v9.0h-14.6zM442.5 597.7h14.6v9.0h-14.6zM555.7 597.7h42.9v9.0h-42.9zM343.5 606.1h14.6v9.0h-14.6zM385.9 606.1h14.6v9.0h-14.6zM442.5 606.1h14.6v9.0h-14.6zM555.7 606.1h42.9v9.0h-42.9z"/><path fill="rgb(56,56,56)" d="M294.0 113.7h7.6v9.0h-7.6zM230.3 122.2h7.6v9.0h-7.6zM244.4 130.7h7.6v9.0h-7.6zM251.5 139.2h7.6v9.0h-7.6zM265.7 147.7h7.6v9.0h-7.6zM131.3 300.5h7.6v9.0h-7.6zM138.3 309.0h7.6v9.0h-7.6zM81.8 385.4h50.0v9.0h-50.0z"/><path fill="rgb(57,57,57)" d="M301.0 62.8h7.6v9.0h-7.6zM548.6 62.8h7.6v9.0h-7.6zM569.8 62.8h7.6v9.0h-7.6zM605.2 62.8h7.6v9.0h-7.6zM308.1 71.3h7.6v9.0h-7.6zM541.5 71.3h7.6v9.0h-7.6zM576.9 71.3h7.6v9.0h-7.6zM598.1 71.3h7.6v9.0h-7.6zM506.1 79.8h7.6v9.0h-7.6zM605.2 79.8h7.6v9.0h-7.6zM499.1 88.3h7.6v9.0h-7.6zM598.1 88.3h7.6v9.0h-7.6zM477.9 96.8h7.6v9.0h-7.6zM555.7 96.8h7.6v9.0h-7.6zM598.1 96.8h7.6v9.0h-7.6zM619.3 96.8h7.6v9.0h-7.6zM633.5 96.8h7.6v9.0h-7.6zM294.0 105.2h7.6v9.0h-7.6zM470.8 105.2h7.6v9.0h-7.6zM562.7 105.2h7.6v9.0h-7.6zM605.2 105.2h14.6v9.0h-14.6zM626.4 105.2h7.6v9.0h-7.6zM463.7 113.7h7.6v9.0h-7.6zM562.7 113.7h7.6v9.0h-7.6zM626.4 113.7h7.6v9.0h-7.6zM456.6 122.2h7.6v9.0h-7.6zM555.7 122.2h7.6v9.0h-7.6zM633.5 122.2h7.6v9.0h-7.6zM449.6 130.7h7.6v9.0h-7.6zM442.5 139.2h7.6v9.0h-7.6zM435.4 147.7h7.6v9.0h-7.6zM301.0 156.2h7.6v9.0h-7.6zM428.3 156.2h7.6v9.0h-7.6zM576.9 164.7h7.6v9.0h-7.6zM633.5 164.7h7.6v9.0h-7.6zM569.8 173.2h7.6v9.0h-7.6zM626.4 173.2h7.6v9.0h-7.6zM569.8 181.7h7.6v9.0h-7.6zM619.3 181.7h7.6v9.0h-7.6zM576.9 190.1h7.6v9.0h-7.6zM612.2 190.1h7.6v9.0h-7.6zM661.7 198.6h7.6v9.0h-7.6zM654.7 207.1h7.6v9.0h-7.6zM400.0 224.1h7.6v9.0h-7.6zM633.5 232.6h7.6v9.0h-7.6zM626.4 241.1h7.6v9.0h-7.6zM336.4 266.6h7.6v9.0h-7.6zM357.6 266.6h7.6v9.0h-7.6zM378.8 266.6h7.6v9.0h-7.6zM329.3 275.0h7.6v9.0h-7.6zM364.7 275.0h7.6v9.0h-7.6zM329.3 283.5h7.6v9.0h-7.6zM548.6 283.5h7.6v9.0h-7.6zM81.8 292.0h50.0v9.0h-50.0zM336.4 292.0h7.6v9.0h-7.6zM336.4 300.5h7.6v9.0h-7.6zM329.3 309.0h7.6v9.0h-7.6zM265.7 317.5h7.6v9.0h-7.6zM286.9 317.5h7.6v9.0h-7.6zM534.4 317.5h7.6v9.0h-7.6zM258.6 326.0h7.6v9.0h-7.6zM294.0 326.0h7.6v9.0h-7.6zM527.4 326.0h7.6v9.0h-7.6zM145.4 334.5h7.6v9.0h-7.6zM527.4 334.5h7.6v9.0h-7.6zM152.5 343.0h7.6v9.0h-7.6zM534.4 343.0h7.6v9.0h-7.6zM152.5 368.4h7.6v9.0h-7.6zM442.5 368.4h7.6v9.0h-7.6zM145.4 376.9h7.6v9.0h-7.6zM449.6 376.9h7.6v9.0h-7.6zM449.6 385.4h7.6v9.0h-7.6zM131.3 393.9h7.6v9.0h-7.6zM442.5 393.9h7.6v9.0h-7.6zM400.0 402.4h7.6v9.0h-7.6zM435.4 402.4h7.6v9.0h-7.6zM407.1 410.9h7.6v9.0h-7.6zM428.3 410.9h7.6v9.0h-7.6zM371.8 419.4h7.6v9.0h-7.6zM407.1 419.4h7.6v9.0h-7.6zM605.2 419.4h7.6v9.0h-7.6zM378.8 427.9h7.6v9.0h-7.6zM400.0 427.9h7.6v9.0h-7.6zM598.1 427.9h7.6v9.0h-7.6zM385.9 436.4h7.6v9.0h-7.6zM598.1 436.4h7.6v9.0h-7.6zM393.0 444.8h7.6v9.0h-7.6zM605.2 444.8h7.6v9.0h-7.6zM308.1 453.3h7.6v9.0h-7.6zM407.1 461.8h7.6v9.0h-7.6zM414.2 487.3h7.6v9.0h-7.6zM555.7 487.3h7.6v9.0h-7.6zM421.3 495.8h7.6v9.0h-7.6zM562.7 495.8h7.6v9.0h-7.6zM484.9 504.3h7.6v9.0h-7.6zM569.8 504.3h7.6v9.0h-7.6zM492.0 512.8h7.6v9.0h-7.6zM576.9 512.8h7.6v9.0h-7.6zM583.9 521.2h7.6v9.0h-7.6zM591.0 529.7h7.6v9.0h-7.6zM343.5 538.2h7.6v9.0h-7.6zM393.0 538.2h7.6v9.0h-7.6zM463.7 538.2h7.6v9.0h-7.6zM350.5 546.7h7.6v9.0h-7.6zM385.9 546.7h7.6v9.0h-7.6zM456.6 546.7h7.6v9.0h-7.6z"/><path fill="rgb(58,58,58)" d="M301.0 3.4h7.6v9.0h-7.6zM548.6 3.4h7.6v9.0h-7.6zM569.8 3.4h7.6v9.0h-7.6zM605.2 3.4h7.6v9.0h-7.6zM301.0 11.8h7.6v9.0h-7.6zM548.6 11.8h7.6v9.0h-7.6zM569.8 11.8h7.6v9.0h-7.6zM605.2 11.8h7.6v9.0h-7.6zM301.0 20.3h7.6v9.0h-7.6zM548.6 20.3h7.6v9.0h-7.6zM569.8 20.3h7.6v9.0h-7.6zM605.2 20.3h7.6v9.0h-7.6zM301.0 28.8h7.6v9.0h-7.6zM548.6 28.8h7.6v9.0h-7.6zM569.8 28.8h7.6v9.0h-7.6zM605.2 28.8h7.6v9.0h-7.6zM301.0 37.3h7.6v9.0h-7.6zM548.6 37.3h7.6v9.0h-7.6zM569.8 37.3h7.6v9.0h-7.6zM605.2 37.3h7.6v9.0h-7.6zM301.0 45.8h7.6v9.0h-7.6zM548.6 45.8h7.6v9.0h-7.6zM569.8 45.8h7.6v9.0h-7.6zM605.2 45.8h7.6v9.0h-7.6zM301.0 54.3h7.6v9.0h-7.6zM548.6 54.3h7.6v9.0h-7.6zM569.8 54.3h7.6v9.0h-7.6zM605.2 54.3h7.6v9.0h-7.6zM180.8 62.8h7.6v9.0h-7.6zM520.3 71.3h21.7v9.0h-21.7zM583.9 71.3h14.6v9.0h-14.6zM194.9 79.8h7.6v9.0h-7.6zM484.9 88.3h14.6v9.0h-14.6zM209.1 96.8h7.6v9.0h-7.6zM640.5 96.8h78.3v9.0h-78.3zM223.2 113.7h7.6v9.0h-7.6zM640.5 122.2h78.3v9.0h-78.3zM244.4 139.2h7.6v9.0h-7.6zM258.6 147.7h7.6v9.0h-7.6zM265.7 156.2h7.6v9.0h-7.6zM279.8 164.7h7.6v9.0h-7.6zM421.3 164.7h7.6v9.0h-7.6zM583.9 164.7h28.8v9.0h-28.8zM421.3 173.2h7.6v9.0h-7.6zM583.9 190.1h28.8v9.0h-28.8zM668.8 198.6h50.0v9.0h-50.0zM407.1 207.1h7.6v9.0h-7.6zM619.3 232.6h7.6v9.0h-7.6zM619.3 241.1h7.6v9.0h-7.6zM626.4 249.6h7.6v9.0h-7.6zM626.4 258.1h7.6v9.0h-7.6zM591.0 266.6h7.6v9.0h-7.6zM626.4 266.6h7.6v9.0h-7.6zM591.0 275.0h7.6v9.0h-7.6zM131.3 292.0h7.6v9.0h-7.6zM272.7 292.0h14.6v9.0h-14.6zM265.7 300.5h7.6v9.0h-7.6zM286.9 300.5h7.6v9.0h-7.6zM541.5 300.5h7.6v9.0h-7.6zM265.7 309.0h7.6v9.0h-7.6zM286.9 309.0h7.6v9.0h-7.6zM541.5 309.0h7.6v9.0h-7.6zM145.4 317.5h7.6v9.0h-7.6zM145.4 326.0h7.6v9.0h-7.6zM301.0 326.0h14.6v9.0h-14.6zM159.6 351.5h7.6v9.0h-7.6zM159.6 359.9h7.6v9.0h-7.6zM555.7 359.9h78.3v9.0h-78.3zM428.3 368.4h14.6v9.0h-14.6zM223.2 376.9h7.6v9.0h-7.6zM654.7 376.9h64.2v9.0h-64.2zM145.4 385.4h7.6v9.0h-7.6zM322.2 385.4h7.6v9.0h-7.6zM81.8 393.9h50.0v9.0h-50.0zM322.2 393.9h7.6v9.0h-7.6zM202.0 402.4h7.6v9.0h-7.6zM414.2 410.9h14.6v9.0h-14.6zM194.9 419.4h7.6v9.0h-7.6zM329.3 419.4h7.6v9.0h-7.6zM364.7 419.4h7.6v9.0h-7.6zM414.2 419.4h127.8v9.0h-127.8zM668.8 419.4h50.0v9.0h-50.0zM194.9 427.9h7.6v9.0h-7.6zM187.9 436.4h7.6v9.0h-7.6zM400.0 436.4h7.6v9.0h-7.6zM654.7 436.4h7.6v9.0h-7.6zM400.0 444.8h7.6v9.0h-7.6zM654.7 444.8h7.6v9.0h-7.6zM654.7 453.3h7.6v9.0h-7.6zM180.8 461.8h7.6v9.0h-7.6zM654.7 461.8h7.6v9.0h-7.6zM301.0 470.3h7.6v9.0h-7.6zM654.7 470.3h7.6v9.0h-7.6zM301.0 478.8h7.6v9.0h-7.6zM654.7 478.8h7.6v9.0h-7.6zM548.6 487.3h7.6v9.0h-7.6zM138.3 495.8h7.6v9.0h-7.6zM428.3 495.8h57.1v9.0h-57.1zM548.6 495.8h7.6v9.0h-7.6zM393.0 504.3h7.6v9.0h-7.6zM548.6 504.3h7.6v9.0h-7.6zM393.0 512.8h7.6v9.0h-7.6zM499.1 512.8h28.8v9.0h-28.8zM548.6 512.8h7.6v9.0h-7.6zM393.0 521.2h7.6v9.0h-7.6zM527.4 521.2h7.6v9.0h-7.6zM548.6 521.2h7.6v9.0h-7.6zM393.0 529.7h7.6v9.0h-7.6zM527.4 529.7h7.6v9.0h-7.6zM548.6 529.7h7.6v9.0h-7.6zM598.1 529.7h7.6v9.0h-7.6zM470.8 538.2h57.1v9.0h-57.1zM548.6 538.2h7.6v9.0h-7.6zM548.6 546.7h7.6v9.0h-7.6zM357.6 555.2h7.6v9.0h-7.6zM378.8 555.2h7.6v9.0h-7.6zM456.6 555.2h7.6v9.0h-7.6zM548.6 555.2h7.6v9.0h-7.6zM357.6 563.7h7.6v9.0h-7.6zM378.8 563.7h7.6v9.0h-7.6zM456.6 563.7h7.6v9.0h-7.6zM548.6 563.7h7.6v9.0h-7.6zM357.6 572.2h7.6v9.0h-7.6zM378.8 572.2h7.6v9.0h-7.6zM456.6 572.2h7.6v9.0h-7.6zM548.6 572.2h7.6v9.0h-7.6zM357.6 580.7h7.6v9.0h-7.6zM378.8 580.7h7.6v9.0h-7.6zM456.6 580.7h7.6v9.0h-7.6zM548.6 580.7h7.6v9.0h-7.6zM357.6 589.2h7.6v9.0h-7.6zM378.8 589.2h7.6v9.0h-7.6zM456.6 589.2h7.6v9.0h-7.6zM548.6 589.2h7.6v9.0h-7.6zM357.6 597.7h7.6v9.0h-7.6zM378.8 597.7h7.6v9.0h-7.6zM456.6 597.7h7.6v9.0h-7.6zM548.6 597.7h7.6v9.0h-7.6zM357.6 606.1h7.6v9.0h-7.6zM378.8 606.1h7.6v9.0h-7.6zM456.6 606.1h7.6v9.0h-7.6zM548.6 606.1h7.6v9.0h-7.6z"/><path fill="rgb(59,59,59)" d="M612.2 88.3h7.6v9.0h-7.6zM301.0 96.8h7.6v9.0h-7.6zM237.4 130.7h7.6v9.0h-7.6zM315.2 130.7h7.6v9.0h-7.6zM612.2 164.7h7.6v9.0h-7.6zM619.3 173.2h7.6v9.0h-7.6zM414.2 181.7h7.6v9.0h-7.6zM647.6 224.1h7.6v9.0h-7.6zM393.0 258.1h7.6v9.0h-7.6zM294.0 283.5h7.6v9.0h-7.6zM286.9 292.0h7.6v9.0h-7.6zM598.1 292.0h7.6v9.0h-7.6zM619.3 292.0h7.6v9.0h-7.6zM138.3 300.5h7.6v9.0h-7.6zM145.4 309.0h7.6v9.0h-7.6zM315.2 317.5h7.6v9.0h-7.6zM244.4 334.5h7.6v9.0h-7.6zM548.6 351.5h7.6v9.0h-7.6zM647.6 368.4h7.6v9.0h-7.6zM421.3 376.9h7.6v9.0h-7.6zM216.1 385.4h7.6v9.0h-7.6zM407.1 393.9h7.6v9.0h-7.6zM138.3 402.4h7.6v9.0h-7.6zM322.2 427.9h7.6v9.0h-7.6zM661.7 427.9h7.6v9.0h-7.6zM385.9 453.3h7.6v9.0h-7.6zM626.4 478.8h7.6v9.0h-7.6zM308.1 487.3h7.6v9.0h-7.6zM385.9 495.8h7.6v9.0h-7.6zM322.2 504.3h7.6v9.0h-7.6zM145.4 512.8h7.6v9.0h-7.6zM336.4 521.2h7.6v9.0h-7.6zM159.6 529.7h7.6v9.0h-7.6zM166.6 538.2h7.6v9.0h-7.6z"/><path fill="rgb(60,60,60)" d="M336.4 3.4h7.6v9.0h-7.6zM336.4 11.8h7.6v9.0h-7.6zM336.4 20.3h7.6v9.0h-7.6zM336.4 28.8h7.6v9.0h-7.6zM336.4 37.3h7.6v9.0h-7.6zM336.4 45.8h7.6v9.0h-7.6zM336.4 54.3h7.6v9.0h-7.6zM513.2 71.3h7.6v9.0h-7.6zM477.9 88.3h7.6v9.0h-7.6zM463.7 105.2h7.6v9.0h-7.6zM449.6 122.2h7.6v9.0h-7.6zM435.4 139.2h7.6v9.0h-7.6zM421.3 156.2h7.6v9.0h-7.6zM286.9 173.2h7.6v9.0h-7.6zM407.1 198.6h7.6v9.0h-7.6zM654.7 215.6h7.6v9.0h-7.6zM555.7 232.6h7.6v9.0h-7.6zM640.5 232.6h7.6v9.0h-7.6zM605.2 249.6h7.6v9.0h-7.6zM294.0 275.0h14.6v9.0h-14.6zM322.2 275.0h7.6v9.0h-7.6zM626.4 275.0h7.6v9.0h-7.6zM301.0 283.5h7.6v9.0h-7.6zM322.2 283.5h7.6v9.0h-7.6zM591.0 283.5h7.6v9.0h-7.6zM265.7 292.0h7.6v9.0h-7.6zM605.2 300.5h14.6v9.0h-14.6zM322.2 309.0h7.6v9.0h-7.6zM541.5 317.5h7.6v9.0h-7.6zM251.5 326.0h7.6v9.0h-7.6zM159.6 343.0h7.6v9.0h-7.6zM541.5 343.0h7.6v9.0h-7.6zM633.5 359.9h7.6v9.0h-7.6zM223.2 368.4h7.6v9.0h-7.6zM301.0 385.4h7.6v9.0h-7.6zM414.2 385.4h7.6v9.0h-7.6zM145.4 393.9h7.6v9.0h-7.6zM209.1 393.9h7.6v9.0h-7.6zM435.4 393.9h7.6v9.0h-7.6zM336.4 419.4h7.6v9.0h-7.6zM357.6 419.4h7.6v9.0h-7.6zM541.5 419.4h7.6v9.0h-7.6zM591.0 427.9h7.6v9.0h-7.6zM315.2 436.4h7.6v9.0h-7.6zM591.0 436.4h7.6v9.0h-7.6zM180.8 453.3h7.6v9.0h-7.6zM166.6 470.3h7.6v9.0h-7.6zM414.2 478.8h7.6v9.0h-7.6zM548.6 478.8h14.6v9.0h-14.6zM138.3 487.3h7.6v9.0h-7.6zM484.9 495.8h7.6v9.0h-7.6zM138.3 504.3h7.6v9.0h-7.6zM329.3 512.8h7.6v9.0h-7.6zM527.4 512.8h7.6v9.0h-7.6zM343.5 529.7h7.6v9.0h-7.6zM605.2 529.7h7.6v9.0h-7.6zM527.4 538.2h7.6v9.0h-7.6zM357.6 546.7h7.6v9.0h-7.6zM378.8 546.7h7.6v9.0h-7.6z"/><path fill="rgb(61,61,61)" d="M343.5 3.4h7.6v9.0h-7.6zM343.5 11.8h7.6v9.0h-7.6zM343.5 20.3h7.6v9.0h-7.6zM343.5 28.8h7.6v9.0h-7.6zM343.5 37.3h7.6v9.0h-7.6zM343.5 45.8h7.6v9.0h-7.6zM343.5 54.3h7.6v9.0h-7.6zM308.1 62.8h7.6v9.0h-7.6zM541.5 62.8h7.6v9.0h-7.6zM576.9 62.8h7.6v9.0h-7.6zM598.1 62.8h7.6v9.0h-7.6zM499.1 79.8h7.6v9.0h-7.6zM605.2 88.3h7.6v9.0h-7.6zM470.8 96.8h7.6v9.0h-7.6zM605.2 96.8h14.6v9.0h-14.6zM555.7 105.2h7.6v9.0h-7.6zM633.5 105.2h7.6v9.0h-7.6zM456.6 113.7h7.6v9.0h-7.6zM555.7 113.7h7.6v9.0h-7.6zM633.5 113.7h7.6v9.0h-7.6zM442.5 130.7h7.6v9.0h-7.6zM428.3 147.7h7.6v9.0h-7.6zM626.4 164.7h7.6v9.0h-7.6zM576.9 173.2h7.6v9.0h-7.6zM576.9 181.7h7.6v9.0h-7.6zM612.2 181.7h7.6v9.0h-7.6zM661.7 207.1h7.6v9.0h-7.6zM400.0 215.6h7.6v9.0h-7.6zM633.5 241.1h7.6v9.0h-7.6zM329.3 266.6h7.6v9.0h-7.6zM364.7 266.6h14.6v9.0h-14.6zM81.8 283.5h50.0v9.0h-50.0zM329.3 292.0h7.6v9.0h-7.6zM548.6 292.0h7.6v9.0h-7.6zM329.3 300.5h7.6v9.0h-7.6zM258.6 317.5h7.6v9.0h-7.6zM294.0 317.5h7.6v9.0h-7.6zM534.4 326.0h7.6v9.0h-7.6zM152.5 334.5h7.6v9.0h-7.6zM534.4 334.5h7.6v9.0h-7.6zM159.6 368.4h7.6v9.0h-7.6zM152.5 376.9h7.6v9.0h-7.6zM442.5 376.9h7.6v9.0h-7.6zM442.5 385.4h7.6v9.0h-7.6zM131.3 402.4h7.6v9.0h-7.6zM407.1 402.4h7.6v9.0h-7.6zM428.3 402.4h7.6v9.0h-7.6zM194.9 410.9h7.6v9.0h-7.6zM343.5 419.4h14.6v9.0h-14.6zM598.1 419.4h7.6v9.0h-7.6zM371.8 427.9h7.6v9.0h-7.6zM407.1 427.9h7.6v9.0h-7.6zM378.8 436.4h7.6v9.0h-7.6zM385.9 444.8h7.6v9.0h-7.6zM598.1 444.8h7.6v9.0h-7.6zM407.1 453.3h7.6v9.0h-7.6zM308.1 461.8h7.6v9.0h-7.6zM145.4 478.8h7.6v9.0h-7.6zM421.3 487.3h7.6v9.0h-7.6zM562.7 487.3h7.6v9.0h-7.6zM640.5 487.3h14.6v9.0h-14.6zM315.2 495.8h7.6v9.0h-7.6zM569.8 495.8h7.6v9.0h-7.6zM492.0 504.3h7.6v9.0h-7.6zM576.9 504.3h7.6v9.0h-7.6zM152.5 521.2h7.6v9.0h-7.6zM591.0 521.2h7.6v9.0h-7.6zM350.5 538.2h7.6v9.0h-7.6zM385.9 538.2h7.6v9.0h-7.6zM463.7 546.7h7.6v9.0h-7.6z"/><path fill="rgb(62,62,62)" d="M619.3 164.7h7.6v9.0h-7.6zM612.2 173.2h7.6v9.0h-7.6zM591.0 258.1h7.6v9.0h-7.6zM131.3 283.5h7.6v9.0h-7.6zM286.9 283.5h7.6v9.0h-7.6zM138.3 292.0h7.6v9.0h-7.6zM294.0 292.0h7.6v9.0h-7.6zM145.4 300.5h7.6v9.0h-7.6zM81.8 402.4h50.0v9.0h-50.0zM583.9 512.8h7.6v9.0h-7.6z"/><path fill="rgb(63,63,63)" d="M541.5 3.4h7.6v9.0h-7.6zM576.9 3.4h7.6v9.0h-7.6zM598.1 3.4h7.6v9.0h-7.6zM541.5 11.8h7.6v9.0h-7.6zM576.9 11.8h7.6v9.0h-7.6zM598.1 11.8h7.6v9.0h-7.6zM541.5 20.3h7.6v9.0h-7.6zM576.9 20.3h7.6v9.0h-7.6zM598.1 20.3h7.6v9.0h-7.6zM541.5 28.8h7.6v9.0h-7.6zM576.9 28.8h7.6v9.0h-7.6zM598.1 28.8h7.6v9.0h-7.6zM541.5 37.3h7.6v9.0h-7.6zM576.9 37.3h7.6v9.0h-7.6zM598.1 37.3h7.6v9.0h-7.6zM541.5 45.8h7.6v9.0h-7.6zM576.9 45.8h7.6v9.0h-7.6zM598.1 45.8h7.6v9.0h-7.6zM541.5 54.3h7.6v9.0h-7.6zM576.9 54.3h7.6v9.0h-7.6zM598.1 54.3h7.6v9.0h-7.6zM173.7 62.8h7.6v9.0h-7.6zM527.4 62.8h14.6v9.0h-14.6zM583.9 62.8h14.6v9.0h-14.6zM180.8 71.3h7.6v9.0h-7.6zM315.2 71.3h7.6v9.0h-7.6zM187.9 79.8h7.6v9.0h-7.6zM315.2 79.8h7.6v9.0h-7.6zM484.9 79.8h14.6v9.0h-14.6zM194.9 88.3h7.6v9.0h-7.6zM640.5 105.2h78.3v9.0h-78.3zM640.5 113.7h78.3v9.0h-78.3zM251.5 147.7h7.6v9.0h-7.6zM414.2 164.7h7.6v9.0h-7.6zM414.2 173.2h7.6v9.0h-7.6zM583.9 173.2h28.8v9.0h-28.8zM583.9 181.7h28.8v9.0h-28.8zM668.8 207.1h50.0v9.0h-50.0zM612.2 232.6h7.6v9.0h-7.6zM612.2 241.1h7.6v9.0h-7.6zM393.0 249.6h7.6v9.0h-7.6zM633.5 249.6h7.6v9.0h-7.6zM633.5 258.1h7.6v9.0h-7.6zM583.9 266.6h7.6v9.0h-7.6zM81.8 275.0h50.0v9.0h-50.0zM583.9 275.0h7.6v9.0h-7.6zM272.7 283.5h14.6v9.0h-14.6zM258.6 300.5h7.6v9.0h-7.6zM294.0 300.5h7.6v9.0h-7.6zM548.6 300.5h7.6v9.0h-7.6zM258.6 309.0h7.6v9.0h-7.6zM294.0 309.0h7.6v9.0h-7.6zM548.6 309.0h7.6v9.0h-7.6zM152.5 317.5h7.6v9.0h-7.6zM301.0 317.5h14.6v9.0h-14.6zM152.5 326.0h7.6v9.0h-7.6zM237.4 343.0h7.6v9.0h-7.6zM166.6 351.5h7.6v9.0h-7.6zM555.7 351.5h71.2v9.0h-71.2zM166.6 359.9h7.6v9.0h-7.6zM640.5 359.9h7.6v9.0h-7.6zM654.7 368.4h64.2v9.0h-64.2zM428.3 376.9h14.6v9.0h-14.6zM315.2 385.4h7.6v9.0h-7.6zM315.2 393.9h7.6v9.0h-7.6zM414.2 402.4h14.6v9.0h-14.6zM187.9 419.4h7.6v9.0h-7.6zM187.9 427.9h7.6v9.0h-7.6zM414.2 427.9h127.8v9.0h-127.8zM668.8 427.9h50.0v9.0h-50.0zM407.1 436.4h7.6v9.0h-7.6zM661.7 436.4h7.6v9.0h-7.6zM407.1 444.8h7.6v9.0h-7.6zM661.7 444.8h7.6v9.0h-7.6zM661.7 453.3h7.6v9.0h-7.6zM661.7 461.8h7.6v9.0h-7.6zM308.1 470.3h7.6v9.0h-7.6zM661.7 470.3h7.6v9.0h-7.6zM308.1 478.8h7.6v9.0h-7.6zM661.7 478.8h7.6v9.0h-7.6zM428.3 487.3h57.1v9.0h-57.1zM541.5 487.3h7.6v9.0h-7.6zM654.7 487.3h7.6v9.0h-7.6zM541.5 495.8h7.6v9.0h-7.6zM385.9 504.3h7.6v9.0h-7.6zM499.1 504.3h28.8v9.0h-28.8zM541.5 504.3h7.6v9.0h-7.6zM385.9 512.8h7.6v9.0h-7.6zM541.5 512.8h7.6v9.0h-7.6zM385.9 521.2h7.6v9.0h-7.6zM534.4 521.2h14.6v9.0h-14.6zM385.9 529.7h7.6v9.0h-7.6zM534.4 529.7h14.6v9.0h-14.6zM541.5 538.2h7.6v9.0h-7.6zM166.6 546.7h7.6v9.0h-7.6zM470.8 546.7h57.1v9.0h-57.1zM541.5 546.7h7.6v9.0h-7.6zM364.7 555.2h14.6v9.0h-14.6zM463.7 555.2h7.6v9.0h-7.6zM541.5 555.2h7.6v9.0h-7.6zM364.7 563.7h14.6v9.0h-14.6zM463.7 563.7h7.6v9.0h-7.6zM541.5 563.7h7.6v9.0h-7.6zM364.7 572.2h14.6v9.0h-14.6zM463.7 572.2h7.6v9.0h-7.6zM541.5 572.2h7.6v9.0h-7.6zM364.7 580.7h14.6v9.0h-14.6zM463.7 580.7h7.6v9.0h-7.6zM541.5 580.7h7.6v9.0h-7.6zM364.7 589.2h14.6v9.0h-14.6zM463.7 589.2h7.6v9.0h-7.6zM541.5 589.2h7.6v9.0h-7.6zM364.7 597.7h14.6v9.0h-14.6zM463.7 597.7h7.6v9.0h-7.6zM541.5 597.7h7.6v9.0h-7.6zM364.7 606.1h14.6v9.0h-14.6zM463.7 606.1h7.6v9.0h-7.6zM541.5 606.1h7.6v9.0h-7.6z"/><path fill="rgb(64,64,64)" d="M308.1 3.4h7.6v9.0h-7.6zM308.1 11.8h7.6v9.0h-7.6zM308.1 20.3h7.6v9.0h-7.6zM308.1 28.8h7.6v9.0h-7.6zM308.1 37.3h7.6v9.0h-7.6zM308.1 45.8h7.6v9.0h-7.6zM308.1 54.3h7.6v9.0h-7.6zM506.1 71.3h7.6v9.0h-7.6zM202.0 96.8h7.6v9.0h-7.6zM209.1 105.2h7.6v9.0h-7.6zM216.1 113.7h7.6v9.0h-7.6zM435.4 130.7h7.6v9.0h-7.6zM428.3 139.2h7.6v9.0h-7.6zM421.3 147.7h7.6v9.0h-7.6zM414.2 156.2h7.6v9.0h-7.6zM407.1 190.1h7.6v9.0h-7.6zM562.7 232.6h7.6v9.0h-7.6zM647.6 232.6h7.6v9.0h-7.6zM555.7 241.1h7.6v9.0h-7.6zM640.5 241.1h7.6v9.0h-7.6zM343.5 258.1h14.6v9.0h-14.6zM294.0 266.6h14.6v9.0h-14.6zM322.2 266.6h7.6v9.0h-7.6zM131.3 275.0h7.6v9.0h-7.6zM286.9 275.0h7.6v9.0h-7.6zM308.1 275.0h14.6v9.0h-14.6zM138.3 283.5h7.6v9.0h-7.6zM265.7 283.5h7.6v9.0h-7.6zM308.1 283.5h14.6v9.0h-14.6zM626.4 283.5h7.6v9.0h-7.6zM145.4 292.0h7.6v9.0h-7.6zM258.6 292.0h7.6v9.0h-7.6zM301.0 292.0h7.6v9.0h-7.6zM322.2 292.0h7.6v9.0h-7.6zM322.2 300.5h7.6v9.0h-7.6zM598.1 300.5h7.6v9.0h-7.6zM152.5 309.0h7.6v9.0h-7.6zM315.2 309.0h7.6v9.0h-7.6zM605.2 309.0h7.6v9.0h-7.6zM548.6 317.5h7.6v9.0h-7.6zM541.5 326.0h7.6v9.0h-7.6zM159.6 334.5h7.6v9.0h-7.6zM541.5 334.5h7.6v9.0h-7.6zM166.6 343.0h7.6v9.0h-7.6zM548.6 343.0h7.6v9.0h-7.6zM308.1 385.4h7.6v9.0h-7.6zM421.3 385.4h7.6v9.0h-7.6zM435.4 385.4h7.6v9.0h-7.6zM301.0 393.9h7.6v9.0h-7.6zM414.2 393.9h7.6v9.0h-7.6zM428.3 393.9h7.6v9.0h-7.6zM145.4 402.4h7.6v9.0h-7.6zM138.3 410.9h7.6v9.0h-7.6zM548.6 419.4h7.6v9.0h-7.6zM591.0 419.4h7.6v9.0h-7.6zM541.5 427.9h7.6v9.0h-7.6zM583.9 427.9h7.6v9.0h-7.6zM180.8 444.8h7.6v9.0h-7.6zM605.2 453.3h7.6v9.0h-7.6zM378.8 470.3h7.6v9.0h-7.6zM548.6 470.3h7.6v9.0h-7.6zM619.3 470.3h7.6v9.0h-7.6zM378.8 478.8h7.6v9.0h-7.6zM541.5 478.8h7.6v9.0h-7.6zM484.9 487.3h7.6v9.0h-7.6zM633.5 487.3h7.6v9.0h-7.6zM492.0 495.8h7.6v9.0h-7.6zM527.4 504.3h7.6v9.0h-7.6zM534.4 512.8h7.6v9.0h-7.6zM612.2 529.7h7.6v9.0h-7.6zM357.6 538.2h7.6v9.0h-7.6zM378.8 538.2h7.6v9.0h-7.6zM534.4 538.2h7.6v9.0h-7.6zM364.7 546.7h14.6v9.0h-14.6zM527.4 546.7h7.6v9.0h-7.6zM166.6 555.2h7.6v9.0h-7.6zM166.6 563.7h7.6v9.0h-7.6zM166.6 572.2h7.6v9.0h-7.6zM166.6 580.7h7.6v9.0h-7.6zM166.6 589.2h7.6v9.0h-7.6zM166.6 597.7h7.6v9.0h-7.6zM166.6 606.1h7.6v9.0h-7.6z"/><path fill="rgb(65,65,65)" d="M308.1 96.8h7.6v9.0h-7.6zM301.0 113.7h7.6v9.0h-7.6zM223.2 122.2h7.6v9.0h-7.6zM315.2 122.2h7.6v9.0h-7.6zM428.3 130.7h7.6v9.0h-7.6zM414.2 147.7h7.6v9.0h-7.6zM258.6 156.2h7.6v9.0h-7.6zM272.7 164.7h7.6v9.0h-7.6zM279.8 173.2h7.6v9.0h-7.6zM562.7 241.1h7.6v9.0h-7.6zM647.6 241.1h7.6v9.0h-7.6zM336.4 258.1h7.6v9.0h-7.6zM583.9 258.1h7.6v9.0h-7.6zM81.8 266.6h57.1v9.0h-57.1zM286.9 266.6h7.6v9.0h-7.6zM308.1 266.6h14.6v9.0h-14.6zM138.3 275.0h7.6v9.0h-7.6zM145.4 283.5h7.6v9.0h-7.6zM258.6 283.5h7.6v9.0h-7.6zM152.5 292.0h7.6v9.0h-7.6zM308.1 292.0h14.6v9.0h-14.6zM152.5 300.5h7.6v9.0h-7.6zM315.2 300.5h7.6v9.0h-7.6zM598.1 309.0h7.6v9.0h-7.6zM548.6 326.0h7.6v9.0h-7.6zM166.6 334.5h7.6v9.0h-7.6zM548.6 334.5h7.6v9.0h-7.6zM428.3 385.4h7.6v9.0h-7.6zM308.1 393.9h7.6v9.0h-7.6zM421.3 393.9h7.6v9.0h-7.6zM583.9 419.4h7.6v9.0h-7.6zM548.6 427.9h7.6v9.0h-7.6zM541.5 470.3h7.6v9.0h-7.6zM492.0 487.3h7.6v9.0h-7.6zM534.4 504.3h7.6v9.0h-7.6zM364.7 538.2h14.6v9.0h-14.6zM534.4 546.7h7.6v9.0h-7.6z"/><path fill="rgb(66,66,66)" d="M527.4 3.4h14.6v9.0h-14.6zM583.9 3.4h14.6v9.0h-14.6zM527.4 11.8h14.6v9.0h-14.6zM583.9 11.8h14.6v9.0h-14.6zM527.4 20.3h14.6v9.0h-14.6zM583.9 20.3h14.6v9.0h-14.6zM527.4 28.8h14.6v9.0h-14.6zM583.9 28.8h14.6v9.0h-14.6zM527.4 37.3h14.6v9.0h-14.6zM583.9 37.3h14.6v9.0h-14.6zM527.4 45.8h14.6v9.0h-14.6zM583.9 45.8h14.6v9.0h-14.6zM527.4 54.3h14.6v9.0h-14.6zM583.9 54.3h14.6v9.0h-14.6zM520.3 62.8h7.6v9.0h-7.6zM477.9 79.8h7.6v9.0h-7.6zM315.2 88.3h7.6v9.0h-7.6zM470.8 88.3h7.6v9.0h-7.6zM463.7 96.8h7.6v9.0h-7.6zM456.6 105.2h7.6v9.0h-7.6zM449.6 113.7h7.6v9.0h-7.6zM442.5 122.2h7.6v9.0h-7.6zM230.3 130.7h7.6v9.0h-7.6zM414.2 130.7h14.6v9.0h-14.6zM414.2 139.2h14.6v9.0h-14.6zM400.0 207.1h7.6v9.0h-7.6zM661.7 215.6h7.6v9.0h-7.6zM654.7 224.1h7.6v9.0h-7.6zM569.8 232.6h14.6v9.0h-14.6zM569.8 241.1h14.6v9.0h-14.6zM81.8 249.6h50.0v9.0h-50.0zM301.0 249.6h28.8v9.0h-28.8zM555.7 249.6h28.8v9.0h-28.8zM81.8 258.1h50.0v9.0h-50.0zM301.0 258.1h35.9v9.0h-35.9zM555.7 258.1h28.8v9.0h-28.8zM138.3 266.6h7.6v9.0h-7.6zM633.5 266.6h7.6v9.0h-7.6zM152.5 283.5h7.6v9.0h-7.6zM583.9 283.5h7.6v9.0h-7.6zM591.0 292.0h7.6v9.0h-7.6zM301.0 300.5h14.6v9.0h-14.6zM619.3 300.5h7.6v9.0h-7.6zM301.0 309.0h14.6v9.0h-14.6zM612.2 309.0h7.6v9.0h-7.6zM251.5 317.5h7.6v9.0h-7.6zM555.7 317.5h14.6v9.0h-14.6zM244.4 326.0h7.6v9.0h-7.6zM555.7 326.0h14.6v9.0h-14.6zM555.7 334.5h42.9v9.0h-42.9zM555.7 343.0h42.9v9.0h-42.9zM230.3 351.5h7.6v9.0h-7.6zM626.4 351.5h7.6v9.0h-7.6zM223.2 359.9h7.6v9.0h-7.6zM216.1 376.9h7.6v9.0h-7.6zM152.5 385.4h7.6v9.0h-7.6zM209.1 385.4h7.6v9.0h-7.6zM202.0 393.9h7.6v9.0h-7.6zM555.7 419.4h28.8v9.0h-28.8zM329.3 427.9h7.6v9.0h-7.6zM364.7 427.9h7.6v9.0h-7.6zM555.7 427.9h28.8v9.0h-28.8zM322.2 436.4h7.6v9.0h-7.6zM414.2 436.4h14.6v9.0h-14.6zM541.5 436.4h14.6v9.0h-14.6zM583.9 436.4h7.6v9.0h-7.6zM668.8 436.4h50.0v9.0h-50.0zM315.2 444.8h7.6v9.0h-7.6zM414.2 444.8h14.6v9.0h-14.6zM541.5 444.8h14.6v9.0h-14.6zM591.0 444.8h7.6v9.0h-7.6zM668.8 444.8h50.0v9.0h-50.0zM541.5 453.3h14.6v9.0h-14.6zM668.8 453.3h50.0v9.0h-50.0zM173.7 461.8h7.6v9.0h-7.6zM541.5 461.8h14.6v9.0h-14.6zM612.2 461.8h7.6v9.0h-7.6zM668.8 461.8h50.0v9.0h-50.0zM414.2 470.3h7.6v9.0h-7.6zM527.4 470.3h14.6v9.0h-14.6zM555.7 470.3h7.6v9.0h-7.6zM668.8 470.3h50.0v9.0h-50.0zM421.3 478.8h7.6v9.0h-7.6zM527.4 478.8h14.6v9.0h-14.6zM562.7 478.8h7.6v9.0h-7.6zM668.8 478.8h50.0v9.0h-50.0zM499.1 487.3h42.9v9.0h-42.9zM131.3 495.8h7.6v9.0h-7.6zM499.1 495.8h42.9v9.0h-42.9zM131.3 504.3h7.6v9.0h-7.6zM329.3 504.3h7.6v9.0h-7.6zM138.3 512.8h7.6v9.0h-7.6zM336.4 512.8h7.6v9.0h-7.6zM343.5 521.2h7.6v9.0h-7.6zM598.1 521.2h7.6v9.0h-7.6zM350.5 529.7h7.6v9.0h-7.6zM470.8 555.2h71.2v9.0h-71.2zM470.8 563.7h71.2v9.0h-71.2zM470.8 572.2h71.2v9.0h-71.2zM470.8 580.7h71.2v9.0h-71.2zM470.8 589.2h71.2v9.0h-71.2zM470.8 597.7h71.2v9.0h-71.2zM470.8 606.1h71.2v9.0h-71.2z"/><path fill="rgb(67,67,67)" d="M315.2 62.8h7.6v9.0h-7.6zM301.0 105.2h7.6v9.0h-7.6zM583.9 232.6h7.6v9.0h-7.6zM605.2 232.6h7.6v9.0h-7.6zM393.0 241.1h7.6v9.0h-7.6zM640.5 249.6h7.6v9.0h-7.6zM131.3 258.1h7.6v9.0h-7.6zM294.0 258.1h7.6v9.0h-7.6zM357.6 258.1h7.6v9.0h-7.6zM555.7 266.6h7.6v9.0h-7.6zM576.9 266.6h7.6v9.0h-7.6zM145.4 275.0h7.6v9.0h-7.6zM279.8 275.0h7.6v9.0h-7.6zM555.7 309.0h7.6v9.0h-7.6zM598.1 317.5h7.6v9.0h-7.6zM159.6 326.0h7.6v9.0h-7.6zM569.8 326.0h7.6v9.0h-7.6zM591.0 326.0h7.6v9.0h-7.6zM237.4 334.5h7.6v9.0h-7.6zM598.1 343.0h7.6v9.0h-7.6zM647.6 359.9h7.6v9.0h-7.6zM131.3 410.9h7.6v9.0h-7.6zM428.3 436.4h7.6v9.0h-7.6zM534.4 436.4h7.6v9.0h-7.6zM555.7 436.4h7.6v9.0h-7.6zM414.2 453.3h7.6v9.0h-7.6zM378.8 461.8h7.6v9.0h-7.6zM534.4 461.8h7.6v9.0h-7.6zM520.3 478.8h7.6v9.0h-7.6zM378.8 487.3h7.6v9.0h-7.6zM661.7 487.3h7.6v9.0h-7.6zM378.8 529.7h7.6v9.0h-7.6z"/><path fill="rgb(68,68,68)" d="M237.4 139.2h7.6v9.0h-7.6zM591.0 232.6h14.6v9.0h-14.6zM583.9 241.1h7.6v9.0h-7.6zM605.2 241.1h7.6v9.0h-7.6zM294.0 249.6h7.6v9.0h-7.6zM583.9 249.6h7.6v9.0h-7.6zM598.1 249.6h7.6v9.0h-7.6zM647.6 249.6h7.6v9.0h-7.6zM286.9 258.1h7.6v9.0h-7.6zM385.9 258.1h7.6v9.0h-7.6zM640.5 258.1h7.6v9.0h-7.6zM279.8 266.6h7.6v9.0h-7.6zM562.7 266.6h14.6v9.0h-14.6zM272.7 275.0h7.6v9.0h-7.6zM555.7 275.0h7.6v9.0h-7.6zM576.9 275.0h7.6v9.0h-7.6zM555.7 300.5h7.6v9.0h-7.6zM562.7 309.0h7.6v9.0h-7.6zM159.6 317.5h7.6v9.0h-7.6zM569.8 317.5h7.6v9.0h-7.6zM591.0 317.5h7.6v9.0h-7.6zM605.2 317.5h7.6v9.0h-7.6zM166.6 326.0h7.6v9.0h-7.6zM576.9 326.0h14.6v9.0h-14.6zM598.1 326.0h7.6v9.0h-7.6zM598.1 334.5h7.6v9.0h-7.6zM605.2 343.0h7.6v9.0h-7.6zM81.8 410.9h50.0v9.0h-50.0zM435.4 436.4h7.6v9.0h-7.6zM527.4 436.4h7.6v9.0h-7.6zM562.7 436.4h7.6v9.0h-7.6zM428.3 444.8h7.6v9.0h-7.6zM534.4 444.8h7.6v9.0h-7.6zM555.7 444.8h7.6v9.0h-7.6zM421.3 453.3h7.6v9.0h-7.6zM534.4 453.3h7.6v9.0h-7.6zM414.2 461.8h7.6v9.0h-7.6zM527.4 461.8h7.6v9.0h-7.6zM520.3 470.3h7.6v9.0h-7.6zM513.2 478.8h7.6v9.0h-7.6zM378.8 521.2h7.6v9.0h-7.6zM371.8 529.7h7.6v9.0h-7.6zM159.6 538.2h7.6v9.0h-7.6z"/><path fill="rgb(69,69,69)" d="M315.2 3.4h7.6v9.0h-7.6zM329.3 3.4h7.6v9.0h-7.6zM407.1 3.4h14.6v9.0h-14.6zM520.3 3.4h7.6v9.0h-7.6zM315.2 11.8h7.6v9.0h-7.6zM329.3 11.8h7.6v9.0h-7.6zM407.1 11.8h14.6v9.0h-14.6zM520.3 11.8h7.6v9.0h-7.6zM315.2 20.3h7.6v9.0h-7.6zM329.3 20.3h7.6v9.0h-7.6zM407.1 20.3h14.6v9.0h-14.6zM520.3 20.3h7.6v9.0h-7.6zM315.2 28.8h7.6v9.0h-7.6zM329.3 28.8h7.6v9.0h-7.6zM407.1 28.8h14.6v9.0h-14.6zM520.3 28.8h7.6v9.0h-7.6zM315.2 37.3h7.6v9.0h-7.6zM329.3 37.3h7.6v9.0h-7.6zM407.1 37.3h14.6v9.0h-14.6zM520.3 37.3h7.6v9.0h-7.6zM315.2 45.8h7.6v9.0h-7.6zM329.3 45.8h7.6v9.0h-7.6zM407.1 45.8h14.6v9.0h-14.6zM520.3 45.8h7.6v9.0h-7.6zM315.2 54.3h7.6v9.0h-7.6zM329.3 54.3h7.6v9.0h-7.6zM407.1 54.3h14.6v9.0h-14.6zM520.3 54.3h7.6v9.0h-7.6zM414.2 122.2h28.8v9.0h-28.8zM668.8 215.6h50.0v9.0h-50.0zM654.7 232.6h7.6v9.0h-7.6zM654.7 241.1h7.6v9.0h-7.6zM131.3 249.6h7.6v9.0h-7.6zM138.3 258.1h7.6v9.0h-7.6zM145.4 266.6h7.6v9.0h-7.6zM152.5 275.0h7.6v9.0h-7.6zM258.6 275.0h14.6v9.0h-14.6zM251.5 283.5h7.6v9.0h-7.6zM555.7 283.5h7.6v9.0h-7.6zM251.5 292.0h7.6v9.0h-7.6zM555.7 292.0h7.6v9.0h-7.6zM159.6 300.5h7.6v9.0h-7.6zM251.5 300.5h7.6v9.0h-7.6zM591.0 300.5h7.6v9.0h-7.6zM159.6 309.0h7.6v9.0h-7.6zM251.5 309.0h7.6v9.0h-7.6zM591.0 309.0h7.6v9.0h-7.6zM173.7 334.5h7.6v9.0h-7.6zM173.7 343.0h7.6v9.0h-7.6zM612.2 343.0h14.6v9.0h-14.6zM173.7 351.5h7.6v9.0h-7.6zM173.7 359.9h7.6v9.0h-7.6zM654.7 359.9h64.2v9.0h-64.2zM166.6 368.4h7.6v9.0h-7.6zM159.6 376.9h7.6v9.0h-7.6zM194.9 402.4h7.6v9.0h-7.6zM187.9 410.9h7.6v9.0h-7.6zM371.8 436.4h7.6v9.0h-7.6zM442.5 436.4h28.8v9.0h-28.8zM513.2 436.4h14.6v9.0h-14.6zM569.8 436.4h14.6v9.0h-14.6zM378.8 444.8h7.6v9.0h-7.6zM555.7 453.3h7.6v9.0h-7.6zM555.7 461.8h7.6v9.0h-7.6zM428.3 478.8h14.6v9.0h-14.6zM484.9 478.8h28.8v9.0h-28.8zM315.2 487.3h7.6v9.0h-7.6zM569.8 487.3h7.6v9.0h-7.6zM668.8 487.3h50.0v9.0h-50.0zM81.8 495.8h50.0v9.0h-50.0zM322.2 495.8h7.6v9.0h-7.6zM576.9 495.8h7.6v9.0h-7.6zM81.8 504.3h50.0v9.0h-50.0zM145.4 521.2h7.6v9.0h-7.6zM152.5 529.7h7.6v9.0h-7.6zM357.6 529.7h14.6v9.0h-14.6zM668.8 529.7h50.0v9.0h-50.0z"/><path fill="rgb(70,70,70)" d="M166.6 3.4h7.6v9.0h-7.6zM166.6 11.8h7.6v9.0h-7.6zM166.6 20.3h7.6v9.0h-7.6zM166.6 28.8h7.6v9.0h-7.6zM166.6 37.3h7.6v9.0h-7.6zM166.6 45.8h7.6v9.0h-7.6zM166.6 54.3h7.6v9.0h-7.6zM336.4 62.8h7.6v9.0h-7.6zM513.2 62.8h7.6v9.0h-7.6zM499.1 71.3h7.6v9.0h-7.6zM244.4 147.7h7.6v9.0h-7.6zM407.1 181.7h7.6v9.0h-7.6zM400.0 198.6h7.6v9.0h-7.6zM81.8 241.1h50.0v9.0h-50.0zM322.2 241.1h7.6v9.0h-7.6zM329.3 249.6h7.6v9.0h-7.6zM633.5 275.0h7.6v9.0h-7.6zM159.6 292.0h7.6v9.0h-7.6zM626.4 292.0h7.6v9.0h-7.6zM633.5 351.5h7.6v9.0h-7.6zM216.1 368.4h7.6v9.0h-7.6zM152.5 393.9h7.6v9.0h-7.6zM145.4 410.9h7.6v9.0h-7.6zM336.4 427.9h7.6v9.0h-7.6zM357.6 427.9h7.6v9.0h-7.6zM180.8 436.4h7.6v9.0h-7.6zM470.8 436.4h7.6v9.0h-7.6zM506.1 436.4h7.6v9.0h-7.6zM173.7 453.3h7.6v9.0h-7.6zM315.2 453.3h7.6v9.0h-7.6zM598.1 453.3h7.6v9.0h-7.6zM442.5 478.8h7.6v9.0h-7.6zM477.9 478.8h7.6v9.0h-7.6zM619.3 478.8h7.6v9.0h-7.6zM131.3 487.3h7.6v9.0h-7.6zM626.4 487.3h7.6v9.0h-7.6zM378.8 512.8h7.6v9.0h-7.6zM605.2 521.2h7.6v9.0h-7.6zM619.3 529.7h7.6v9.0h-7.6zM661.7 529.7h7.6v9.0h-7.6z"/><path fill="rgb(71,71,71)" d="M294.0 173.2h7.6v9.0h-7.6zM393.0 232.6h7.6v9.0h-7.6zM591.0 249.6h7.6v9.0h-7.6zM364.7 258.1h7.6v9.0h-7.6zM378.8 453.3h7.6v9.0h-7.6zM159.6 470.3h7.6v9.0h-7.6zM378.8 495.8h7.6v9.0h-7.6z"/><path fill="rgb(72,72,72)" d="M322.2 3.4h7.6v9.0h-7.6zM322.2 11.8h7.6v9.0h-7.6zM322.2 20.3h7.6v9.0h-7.6zM322.2 28.8h7.6v9.0h-7.6zM322.2 37.3h7.6v9.0h-7.6zM322.2 45.8h7.6v9.0h-7.6zM322.2 54.3h7.6v9.0h-7.6zM322.2 62.8h7.6v9.0h-7.6zM414.2 62.8h7.6v9.0h-7.6zM470.8 79.8h7.6v9.0h-7.6zM456.6 96.8h7.6v9.0h-7.6zM442.5 113.7h7.6v9.0h-7.6zM661.7 224.1h7.6v9.0h-7.6zM315.2 241.1h7.6v9.0h-7.6zM251.5 275.0h7.6v9.0h-7.6zM159.6 283.5h7.6v9.0h-7.6zM576.9 283.5h7.6v9.0h-7.6zM583.9 292.0h7.6v9.0h-7.6zM569.8 309.0h7.6v9.0h-7.6zM619.3 309.0h7.6v9.0h-7.6zM244.4 317.5h7.6v9.0h-7.6zM612.2 317.5h7.6v9.0h-7.6zM237.4 326.0h7.6v9.0h-7.6zM202.0 385.4h7.6v9.0h-7.6zM477.9 436.4h7.6v9.0h-7.6zM499.1 436.4h7.6v9.0h-7.6zM322.2 444.8h7.6v9.0h-7.6zM583.9 444.8h7.6v9.0h-7.6zM428.3 453.3h7.6v9.0h-7.6zM315.2 461.8h7.6v9.0h-7.6zM520.3 461.8h7.6v9.0h-7.6zM421.3 470.3h7.6v9.0h-7.6zM562.7 470.3h7.6v9.0h-7.6zM449.6 478.8h7.6v9.0h-7.6zM470.8 478.8h7.6v9.0h-7.6zM336.4 504.3h7.6v9.0h-7.6zM378.8 504.3h7.6v9.0h-7.6zM583.9 504.3h7.6v9.0h-7.6zM131.3 512.8h7.6v9.0h-7.6zM591.0 512.8h7.6v9.0h-7.6zM350.5 521.2h7.6v9.0h-7.6zM654.7 529.7h7.6v9.0h-7.6z"/><path fill="rgb(73,73,73)" d="M350.5 3.4h7.6v9.0h-7.6zM350.5 11.8h7.6v9.0h-7.6zM350.5 20.3h7.6v9.0h-7.6zM350.5 28.8h7.6v9.0h-7.6zM350.5 37.3h7.6v9.0h-7.6zM350.5 45.8h7.6v9.0h-7.6zM350.5 54.3h7.6v9.0h-7.6zM407.1 62.8h7.6v9.0h-7.6zM322.2 71.3h7.6v9.0h-7.6zM484.9 71.3h14.6v9.0h-14.6zM463.7 88.3h7.6v9.0h-7.6zM449.6 105.2h7.6v9.0h-7.6zM393.0 215.6h7.6v9.0h-7.6zM393.0 224.1h7.6v9.0h-7.6zM131.3 241.1h7.6v9.0h-7.6zM591.0 241.1h14.6v9.0h-14.6zM286.9 249.6h7.6v9.0h-7.6zM654.7 249.6h7.6v9.0h-7.6zM279.8 258.1h7.6v9.0h-7.6zM371.8 258.1h14.6v9.0h-14.6zM647.6 258.1h7.6v9.0h-7.6zM272.7 266.6h7.6v9.0h-7.6zM640.5 266.6h7.6v9.0h-7.6zM562.7 275.0h14.6v9.0h-14.6zM562.7 300.5h7.6v9.0h-7.6zM166.6 317.5h7.6v9.0h-7.6zM576.9 317.5h14.6v9.0h-14.6zM173.7 326.0h7.6v9.0h-7.6zM605.2 326.0h7.6v9.0h-7.6zM605.2 334.5h7.6v9.0h-7.6zM230.3 343.0h7.6v9.0h-7.6zM626.4 343.0h7.6v9.0h-7.6zM640.5 351.5h7.6v9.0h-7.6zM209.1 376.9h7.6v9.0h-7.6zM180.8 419.4h7.6v9.0h-7.6zM180.8 427.9h7.6v9.0h-7.6zM343.5 427.9h14.6v9.0h-14.6zM329.3 436.4h7.6v9.0h-7.6zM484.9 436.4h14.6v9.0h-14.6zM435.4 444.8h7.6v9.0h-7.6zM527.4 444.8h7.6v9.0h-7.6zM562.7 444.8h7.6v9.0h-7.6zM527.4 453.3h7.6v9.0h-7.6zM421.3 461.8h7.6v9.0h-7.6zM315.2 470.3h7.6v9.0h-7.6zM513.2 470.3h7.6v9.0h-7.6zM315.2 478.8h7.6v9.0h-7.6zM456.6 478.8h14.6v9.0h-14.6zM640.5 495.8h21.7v9.0h-21.7zM343.5 512.8h7.6v9.0h-7.6zM371.8 521.2h7.6v9.0h-7.6zM626.4 529.7h28.8v9.0h-28.8z"/><path fill="rgb(74,74,74)" d="M329.3 62.8h7.6v9.0h-7.6zM265.7 164.7h7.6v9.0h-7.6zM145.4 258.1h7.6v9.0h-7.6zM138.3 419.4h7.6v9.0h-7.6zM138.3 478.8h7.6v9.0h-7.6z"/><path fill="rgb(75,75,75)" d="M343.5 62.8h7.6v9.0h-7.6zM477.9 71.3h7.6v9.0h-7.6zM393.0 207.1h7.6v9.0h-7.6zM308.1 241.1h7.6v9.0h-7.6zM329.3 241.1h7.6v9.0h-7.6zM138.3 249.6h7.6v9.0h-7.6zM626.4 300.5h7.6v9.0h-7.6zM230.3 334.5h7.6v9.0h-7.6zM647.6 351.5h7.6v9.0h-7.6zM173.7 368.4h7.6v9.0h-7.6zM159.6 385.4h7.6v9.0h-7.6zM194.9 393.9h7.6v9.0h-7.6zM591.0 453.3h7.6v9.0h-7.6zM166.6 461.8h7.6v9.0h-7.6zM569.8 478.8h7.6v9.0h-7.6zM661.7 495.8h7.6v9.0h-7.6z"/><path fill="rgb(76,76,76)" d="M400.0 3.4h7.6v9.0h-7.6zM421.3 3.4h7.6v9.0h-7.6zM513.2 3.4h7.6v9.0h-7.6zM400.0 11.8h7.6v9.0h-7.6zM421.3 11.8h7.6v9.0h-7.6zM513.2 11.8h7.6v9.0h-7.6zM400.0 20.3h7.6v9.0h-7.6zM421.3 20.3h7.6v9.0h-7.6zM513.2 20.3h7.6v9.0h-7.6zM400.0 28.8h7.6v9.0h-7.6zM421.3 28.8h7.6v9.0h-7.6zM513.2 28.8h7.6v9.0h-7.6zM400.0 37.3h7.6v9.0h-7.6zM421.3 37.3h7.6v9.0h-7.6zM513.2 37.3h7.6v9.0h-7.6zM400.0 45.8h7.6v9.0h-7.6zM421.3 45.8h7.6v9.0h-7.6zM513.2 45.8h7.6v9.0h-7.6zM400.0 54.3h7.6v9.0h-7.6zM421.3 54.3h7.6v9.0h-7.6zM513.2 54.3h7.6v9.0h-7.6zM421.3 62.8h7.6v9.0h-7.6zM506.1 62.8h7.6v9.0h-7.6zM414.2 71.3h7.6v9.0h-7.6zM414.2 113.7h28.8v9.0h-28.8zM407.1 173.2h7.6v9.0h-7.6zM400.0 190.1h7.6v9.0h-7.6zM668.8 224.1h50.0v9.0h-50.0zM661.7 232.6h7.6v9.0h-7.6zM661.7 241.1h7.6v9.0h-7.6zM152.5 266.6h7.6v9.0h-7.6zM251.5 266.6h21.7v9.0h-21.7zM159.6 275.0h7.6v9.0h-7.6zM244.4 275.0h7.6v9.0h-7.6zM244.4 283.5h7.6v9.0h-7.6zM562.7 283.5h14.6v9.0h-14.6zM633.5 283.5h7.6v9.0h-7.6zM244.4 292.0h7.6v9.0h-7.6zM562.7 292.0h7.6v9.0h-7.6zM576.9 292.0h7.6v9.0h-7.6zM166.6 300.5h7.6v9.0h-7.6zM244.4 300.5h7.6v9.0h-7.6zM569.8 300.5h7.6v9.0h-7.6zM583.9 300.5h7.6v9.0h-7.6zM166.6 309.0h7.6v9.0h-7.6zM244.4 309.0h7.6v9.0h-7.6zM576.9 309.0h14.6v9.0h-14.6zM237.4 317.5h7.6v9.0h-7.6zM619.3 317.5h7.6v9.0h-7.6zM230.3 326.0h7.6v9.0h-7.6zM612.2 326.0h7.6v9.0h-7.6zM180.8 334.5h7.6v9.0h-7.6zM612.2 334.5h14.6v9.0h-14.6zM180.8 343.0h7.6v9.0h-7.6zM180.8 351.5h7.6v9.0h-7.6zM654.7 351.5h64.2v9.0h-64.2zM180.8 359.9h7.6v9.0h-7.6zM152.5 402.4h7.6v9.0h-7.6zM364.7 436.4h7.6v9.0h-7.6zM173.7 444.8h7.6v9.0h-7.6zM442.5 444.8h28.8v9.0h-28.8zM513.2 444.8h14.6v9.0h-14.6zM569.8 444.8h14.6v9.0h-14.6zM435.4 453.3h7.6v9.0h-7.6zM520.3 453.3h7.6v9.0h-7.6zM562.7 453.3h7.6v9.0h-7.6zM428.3 461.8h7.6v9.0h-7.6zM513.2 461.8h7.6v9.0h-7.6zM562.7 461.8h7.6v9.0h-7.6zM605.2 461.8h7.6v9.0h-7.6zM428.3 470.3h14.6v9.0h-14.6zM484.9 470.3h28.8v9.0h-28.8zM612.2 470.3h7.6v9.0h-7.6zM81.8 487.3h50.0v9.0h-50.0zM329.3 495.8h7.6v9.0h-7.6zM633.5 495.8h7.6v9.0h-7.6zM668.8 495.8h50.0v9.0h-50.0zM81.8 512.8h50.0v9.0h-50.0zM138.3 521.2h7.6v9.0h-7.6zM357.6 521.2h14.6v9.0h-14.6zM612.2 521.2h7.6v9.0h-7.6zM668.8 521.2h50.0v9.0h-50.0z"/><path fill="rgb(77,77,77)" d="M251.5 156.2h7.6v9.0h-7.6zM81.8 232.6h50.0v9.0h-50.0zM223.2 351.5h7.6v9.0h-7.6zM216.1 359.9h7.6v9.0h-7.6zM131.3 419.4h7.6v9.0h-7.6z"/><path fill="rgb(78,78,78)" d="M421.3 71.3h7.6v9.0h-7.6zM322.2 79.8h7.6v9.0h-7.6zM322.2 232.6h7.6v9.0h-7.6zM244.4 266.6h7.6v9.0h-7.6zM166.6 292.0h7.6v9.0h-7.6zM569.8 292.0h7.6v9.0h-7.6zM576.9 300.5h7.6v9.0h-7.6zM230.3 317.5h7.6v9.0h-7.6zM619.3 326.0h7.6v9.0h-7.6zM180.8 410.9h7.6v9.0h-7.6zM81.8 419.4h50.0v9.0h-50.0zM470.8 444.8h7.6v9.0h-7.6zM506.1 444.8h7.6v9.0h-7.6zM322.2 453.3h7.6v9.0h-7.6zM513.2 453.3h7.6v9.0h-7.6zM435.4 461.8h7.6v9.0h-7.6zM442.5 470.3h7.6v9.0h-7.6zM477.9 470.3h7.6v9.0h-7.6zM619.3 487.3h7.6v9.0h-7.6zM371.8 512.8h7.6v9.0h-7.6zM598.1 512.8h7.6v9.0h-7.6zM661.7 521.2h7.6v9.0h-7.6z"/><path fill="rgb(79,79,79)" d="M428.3 3.4h28.8v9.0h-28.8zM428.3 11.8h28.8v9.0h-28.8zM428.3 20.3h28.8v9.0h-28.8zM428.3 28.8h28.8v9.0h-28.8zM428.3 37.3h28.8v9.0h-28.8zM428.3 45.8h28.8v9.0h-28.8zM428.3 54.3h28.8v9.0h-28.8zM400.0 62.8h7.6v9.0h-7.6zM407.1 71.3h7.6v9.0h-7.6zM463.7 79.8h7.6v9.0h-7.6zM456.6 88.3h7.6v9.0h-7.6zM449.6 96.8h7.6v9.0h-7.6zM442.5 105.2h7.6v9.0h-7.6zM308.1 147.7h7.6v9.0h-7.6zM668.8 232.6h50.0v9.0h-50.0zM301.0 241.1h7.6v9.0h-7.6zM668.8 241.1h50.0v9.0h-50.0zM385.9 249.6h7.6v9.0h-7.6zM230.3 283.5h14.6v9.0h-14.6zM230.3 292.0h14.6v9.0h-14.6zM230.3 300.5h14.6v9.0h-14.6zM230.3 309.0h14.6v9.0h-14.6zM173.7 317.5h7.6v9.0h-7.6zM180.8 326.0h7.6v9.0h-7.6zM626.4 334.5h7.6v9.0h-7.6zM633.5 343.0h7.6v9.0h-7.6zM209.1 368.4h7.6v9.0h-7.6zM202.0 376.9h7.6v9.0h-7.6zM145.4 419.4h7.6v9.0h-7.6zM336.4 436.4h7.6v9.0h-7.6zM329.3 444.8h7.6v9.0h-7.6zM343.5 504.3h7.6v9.0h-7.6zM668.8 504.3h50.0v9.0h-50.0zM350.5 512.8h7.6v9.0h-7.6zM668.8 512.8h50.0v9.0h-50.0zM159.6 546.7h7.6v9.0h-7.6z"/><path fill="rgb(80,80,80)" d="M428.3 62.8h7.6v9.0h-7.6zM173.7 71.3h7.6v9.0h-7.6zM470.8 71.3h7.6v9.0h-7.6zM180.8 79.8h7.6v9.0h-7.6zM414.2 79.8h7.6v9.0h-7.6zM315.2 96.8h7.6v9.0h-7.6zM414.2 105.2h7.6v9.0h-7.6zM308.1 113.7h7.6v9.0h-7.6zM301.0 164.7h7.6v9.0h-7.6zM393.0 198.6h7.6v9.0h-7.6zM131.3 232.6h7.6v9.0h-7.6zM329.3 232.6h7.6v9.0h-7.6zM336.4 249.6h7.6v9.0h-7.6zM237.4 275.0h7.6v9.0h-7.6zM626.4 309.0h7.6v9.0h-7.6zM180.8 368.4h7.6v9.0h-7.6zM194.9 385.4h7.6v9.0h-7.6zM159.6 393.9h7.6v9.0h-7.6zM166.6 453.3h7.6v9.0h-7.6zM442.5 453.3h7.6v9.0h-7.6zM569.8 453.3h7.6v9.0h-7.6zM583.9 453.3h7.6v9.0h-7.6zM506.1 461.8h7.6v9.0h-7.6zM569.8 470.3h7.6v9.0h-7.6zM661.7 504.3h7.6v9.0h-7.6z"/><path fill="rgb(81,81,81)" d="M187.9 88.3h7.6v9.0h-7.6zM194.9 96.8h7.6v9.0h-7.6zM202.0 105.2h7.6v9.0h-7.6zM209.1 113.7h7.6v9.0h-7.6zM138.3 241.1h7.6v9.0h-7.6zM145.4 249.6h7.6v9.0h-7.6zM166.6 376.9h7.6v9.0h-7.6zM187.9 402.4h7.6v9.0h-7.6zM371.8 444.8h7.6v9.0h-7.6zM152.5 470.3h7.6v9.0h-7.6zM322.2 487.3h7.6v9.0h-7.6zM576.9 487.3h7.6v9.0h-7.6zM605.2 512.8h7.6v9.0h-7.6zM145.4 529.7h7.6v9.0h-7.6zM152.5 538.2h7.6v9.0h-7.6z"/><path fill="rgb(82,82,82)" d="M357.6 3.4h7.6v9.0h-7.6zM393.0 3.4h7.6v9.0h-7.6zM456.6 3.4h7.6v9.0h-7.6zM506.1 3.4h7.6v9.0h-7.6zM357.6 11.8h7.6v9.0h-7.6zM393.0 11.8h7.6v9.0h-7.6zM456.6 11.8h7.6v9.0h-7.6zM506.1 11.8h7.6v9.0h-7.6zM357.6 20.3h7.6v9.0h-7.6zM393.0 20.3h7.6v9.0h-7.6zM456.6 20.3h7.6v9.0h-7.6zM506.1 20.3h7.6v9.0h-7.6zM357.6 28.8h7.6v9.0h-7.6zM393.0 28.8h7.6v9.0h-7.6zM456.6 28.8h7.6v9.0h-7.6zM506.1 28.8h7.6v9.0h-7.6zM357.6 37.3h7.6v9.0h-7.6zM393.0 37.3h7.6v9.0h-7.6zM456.6 37.3h7.6v9.0h-7.6zM506.1 37.3h7.6v9.0h-7.6zM357.6 45.8h7.6v9.0h-7.6zM393.0 45.8h7.6v9.0h-7.6zM456.6 45.8h7.6v9.0h-7.6zM506.1 45.8h7.6v9.0h-7.6zM357.6 54.3h7.6v9.0h-7.6zM393.0 54.3h7.6v9.0h-7.6zM456.6 54.3h7.6v9.0h-7.6zM506.1 54.3h7.6v9.0h-7.6zM435.4 62.8h21.7v9.0h-21.7zM329.3 71.3h7.6v9.0h-7.6zM428.3 71.3h7.6v9.0h-7.6zM407.1 79.8h7.6v9.0h-7.6zM421.3 79.8h7.6v9.0h-7.6zM407.1 88.3h14.6v9.0h-14.6zM414.2 96.8h7.6v9.0h-7.6zM421.3 105.2h21.7v9.0h-21.7zM216.1 122.2h7.6v9.0h-7.6zM315.2 139.2h7.6v9.0h-7.6zM407.1 164.7h7.6v9.0h-7.6zM279.8 249.6h7.6v9.0h-7.6zM661.7 249.6h7.6v9.0h-7.6zM244.4 258.1h14.6v9.0h-14.6zM272.7 258.1h7.6v9.0h-7.6zM654.7 258.1h7.6v9.0h-7.6zM237.4 266.6h7.6v9.0h-7.6zM647.6 266.6h7.6v9.0h-7.6zM230.3 275.0h7.6v9.0h-7.6zM640.5 275.0h7.6v9.0h-7.6zM223.2 283.5h7.6v9.0h-7.6zM223.2 292.0h7.6v9.0h-7.6zM223.2 300.5h7.6v9.0h-7.6zM223.2 309.0h7.6v9.0h-7.6zM223.2 317.5h7.6v9.0h-7.6zM626.4 317.5h7.6v9.0h-7.6zM223.2 326.0h7.6v9.0h-7.6zM626.4 326.0h7.6v9.0h-7.6zM187.9 334.5h7.6v9.0h-7.6zM223.2 334.5h7.6v9.0h-7.6zM187.9 343.0h7.6v9.0h-7.6zM223.2 343.0h7.6v9.0h-7.6zM640.5 343.0h78.3v9.0h-78.3zM187.9 351.5h7.6v9.0h-7.6zM187.9 359.9h7.6v9.0h-7.6zM449.6 453.3h21.7v9.0h-21.7zM506.1 453.3h7.6v9.0h-7.6zM576.9 453.3h7.6v9.0h-7.6zM442.5 461.8h7.6v9.0h-7.6zM484.9 461.8h21.7v9.0h-21.7zM569.8 461.8h7.6v9.0h-7.6zM583.9 495.8h7.6v9.0h-7.6zM640.5 504.3h21.7v9.0h-21.7zM357.6 512.8h14.6v9.0h-14.6zM661.7 512.8h7.6v9.0h-7.6z"/><path fill="rgb(83,83,83)" d="M166.6 62.8h7.6v9.0h-7.6zM499.1 62.8h7.6v9.0h-7.6zM407.1 96.8h7.6v9.0h-7.6zM223.2 130.7h7.6v9.0h-7.6zM400.0 181.7h7.6v9.0h-7.6zM152.5 258.1h7.6v9.0h-7.6zM258.6 258.1h7.6v9.0h-7.6zM159.6 266.6h7.6v9.0h-7.6zM633.5 292.0h7.6v9.0h-7.6zM173.7 309.0h7.6v9.0h-7.6zM152.5 410.9h7.6v9.0h-7.6zM173.7 436.4h7.6v9.0h-7.6zM343.5 436.4h7.6v9.0h-7.6zM357.6 436.4h7.6v9.0h-7.6zM598.1 461.8h7.6v9.0h-7.6zM612.2 478.8h7.6v9.0h-7.6zM336.4 495.8h7.6v9.0h-7.6zM626.4 495.8h7.6v9.0h-7.6zM131.3 521.2h7.6v9.0h-7.6zM619.3 521.2h7.6v9.0h-7.6z"/><path fill="rgb(84,84,84)" d="M456.6 62.8h7.6v9.0h-7.6zM463.7 71.3h7.6v9.0h-7.6zM258.6 164.7h7.6v9.0h-7.6zM81.8 224.1h50.0v9.0h-50.0zM315.2 232.6h7.6v9.0h-7.6zM343.5 249.6h14.6v9.0h-14.6zM166.6 283.5h7.6v9.0h-7.6zM187.9 368.4h7.6v9.0h-7.6zM194.9 376.9h7.6v9.0h-7.6zM477.9 444.8h7.6v9.0h-7.6zM499.1 444.8h7.6v9.0h-7.6zM470.8 453.3h7.6v9.0h-7.6zM322.2 461.8h7.6v9.0h-7.6zM477.9 461.8h7.6v9.0h-7.6zM371.8 470.3h7.6v9.0h-7.6zM449.6 470.3h7.6v9.0h-7.6zM470.8 470.3h7.6v9.0h-7.6zM371.8 478.8h7.6v9.0h-7.6zM371.8 504.3h7.6v9.0h-7.6zM654.7 521.2h7.6v9.0h-7.6zM159.6 555.2h7.6v9.0h-7.6zM159.6 563.7h7.6v9.0h-7.6zM159.6 572.2h7.6v9.0h-7.6zM159.6 580.7h7.6v9.0h-7.6zM159.6 589.2h7.6v9.0h-7.6zM159.6 597.7h7.6v9.0h-7.6zM159.6 606.1h7.6v9.0h-7.6z"/><path fill="rgb(85,85,85)" d="M428.3 79.8h7.6v9.0h-7.6zM449.6 88.3h7.6v9.0h-7.6zM407.1 105.2h7.6v9.0h-7.6zM407.1 122.2h7.6v9.0h-7.6zM407.1 130.7h7.6v9.0h-7.6zM230.3 139.2h7.6v9.0h-7.6zM407.1 139.2h7.6v9.0h-7.6zM407.1 147.7h7.6v9.0h-7.6zM407.1 156.2h7.6v9.0h-7.6zM385.9 241.1h7.6v9.0h-7.6zM357.6 249.6h7.6v9.0h-7.6zM265.7 258.1h7.6v9.0h-7.6zM223.2 275.0h7.6v9.0h-7.6zM173.7 300.5h7.6v9.0h-7.6zM187.9 326.0h7.6v9.0h-7.6zM209.1 359.9h7.6v9.0h-7.6zM159.6 402.4h7.6v9.0h-7.6zM350.5 436.4h7.6v9.0h-7.6zM371.8 461.8h7.6v9.0h-7.6zM131.3 478.8h7.6v9.0h-7.6zM371.8 487.3h7.6v9.0h-7.6zM633.5 504.3h7.6v9.0h-7.6zM612.2 512.8h7.6v9.0h-7.6z"/><path fill="rgb(86,86,86)" d="M400.0 71.3h7.6v9.0h-7.6zM456.6 79.8h7.6v9.0h-7.6zM442.5 96.8h7.6v9.0h-7.6zM308.1 105.2h7.6v9.0h-7.6zM407.1 113.7h7.6v9.0h-7.6zM393.0 190.1h7.6v9.0h-7.6zM385.9 232.6h7.6v9.0h-7.6zM294.0 241.1h7.6v9.0h-7.6zM364.7 249.6h7.6v9.0h-7.6zM668.8 249.6h50.0v9.0h-50.0zM237.4 258.1h7.6v9.0h-7.6zM180.8 317.5h7.6v9.0h-7.6zM633.5 334.5h7.6v9.0h-7.6zM216.1 351.5h7.6v9.0h-7.6zM202.0 368.4h7.6v9.0h-7.6zM166.6 444.8h7.6v9.0h-7.6zM336.4 444.8h7.6v9.0h-7.6zM329.3 453.3h7.6v9.0h-7.6zM371.8 453.3h7.6v9.0h-7.6zM605.2 470.3h7.6v9.0h-7.6zM371.8 495.8h7.6v9.0h-7.6zM350.5 504.3h7.6v9.0h-7.6zM81.8 521.2h50.0v9.0h-50.0z"/><path fill="rgb(87,87,87)" d="M393.0 62.8h7.6v9.0h-7.6zM484.9 62.8h14.6v9.0h-14.6zM435.4 71.3h7.6v9.0h-7.6zM421.3 88.3h7.6v9.0h-7.6zM421.3 96.8h7.6v9.0h-7.6zM237.4 147.7h7.6v9.0h-7.6zM272.7 173.2h7.6v9.0h-7.6zM385.9 215.6h7.6v9.0h-7.6zM131.3 224.1h7.6v9.0h-7.6zM385.9 224.1h7.6v9.0h-7.6zM138.3 232.6h7.6v9.0h-7.6zM145.4 241.1h7.6v9.0h-7.6zM371.8 249.6h14.6v9.0h-14.6zM230.3 266.6h7.6v9.0h-7.6zM173.7 419.4h7.6v9.0h-7.6zM173.7 427.9h7.6v9.0h-7.6zM484.9 444.8h14.6v9.0h-14.6zM499.1 453.3h7.6v9.0h-7.6zM449.6 461.8h7.6v9.0h-7.6zM576.9 461.8h7.6v9.0h-7.6zM322.2 470.3h7.6v9.0h-7.6zM456.6 470.3h14.6v9.0h-14.6zM322.2 478.8h7.6v9.0h-7.6zM654.7 512.8h7.6v9.0h-7.6zM626.4 521.2h28.8v9.0h-28.8z"/><path fill="rgb(88,88,88)" d="M350.5 62.8h7.6v9.0h-7.6zM463.7 62.8h7.6v9.0h-7.6zM477.9 62.8h7.6v9.0h-7.6zM456.6 71.3h7.6v9.0h-7.6zM385.9 207.1h7.6v9.0h-7.6zM336.4 241.1h7.6v9.0h-7.6zM152.5 249.6h7.6v9.0h-7.6zM166.6 275.0h7.6v9.0h-7.6zM173.7 292.0h7.6v9.0h-7.6zM633.5 300.5h7.6v9.0h-7.6zM194.9 368.4h7.6v9.0h-7.6zM173.7 376.9h7.6v9.0h-7.6zM187.9 376.9h7.6v9.0h-7.6zM166.6 385.4h7.6v9.0h-7.6zM187.9 393.9h7.6v9.0h-7.6zM138.3 427.9h7.6v9.0h-7.6zM477.9 453.3h7.6v9.0h-7.6zM159.6 461.8h7.6v9.0h-7.6zM470.8 461.8h7.6v9.0h-7.6zM591.0 461.8h7.6v9.0h-7.6zM576.9 478.8h7.6v9.0h-7.6z"/><path fill="rgb(89,89,89)" d="M470.8 62.8h7.6v9.0h-7.6zM385.9 198.6h7.6v9.0h-7.6zM336.4 232.6h7.6v9.0h-7.6zM159.6 258.1h7.6v9.0h-7.6zM633.5 309.0h7.6v9.0h-7.6zM180.8 376.9h7.6v9.0h-7.6zM187.9 385.4h7.6v9.0h-7.6zM166.6 393.9h7.6v9.0h-7.6zM180.8 402.4h7.6v9.0h-7.6zM173.7 410.9h7.6v9.0h-7.6zM159.6 453.3h7.6v9.0h-7.6zM583.9 461.8h7.6v9.0h-7.6zM576.9 470.3h7.6v9.0h-7.6zM612.2 487.3h7.6v9.0h-7.6zM343.5 495.8h7.6v9.0h-7.6zM619.3 495.8h7.6v9.0h-7.6zM591.0 504.3h7.6v9.0h-7.6z"/><path fill="rgb(90,90,90)" d="M364.7 3.4h7.6v9.0h-7.6zM385.9 3.4h7.6v9.0h-7.6zM463.7 3.4h7.6v9.0h-7.6zM499.1 3.4h7.6v9.0h-7.6zM364.7 11.8h7.6v9.0h-7.6zM385.9 11.8h7.6v9.0h-7.6zM463.7 11.8h7.6v9.0h-7.6zM499.1 11.8h7.6v9.0h-7.6zM364.7 20.3h7.6v9.0h-7.6zM385.9 20.3h7.6v9.0h-7.6zM463.7 20.3h7.6v9.0h-7.6zM499.1 20.3h7.6v9.0h-7.6zM364.7 28.8h7.6v9.0h-7.6zM385.9 28.8h7.6v9.0h-7.6zM463.7 28.8h7.6v9.0h-7.6zM499.1 28.8h7.6v9.0h-7.6zM364.7 37.3h7.6v9.0h-7.6zM385.9 37.3h7.6v9.0h-7.6zM463.7 37.3h7.6v9.0h-7.6zM499.1 37.3h7.6v9.0h-7.6zM364.7 45.8h7.6v9.0h-7.6zM385.9 45.8h7.6v9.0h-7.6zM463.7 45.8h7.6v9.0h-7.6zM499.1 45.8h7.6v9.0h-7.6zM364.7 54.3h7.6v9.0h-7.6zM385.9 54.3h7.6v9.0h-7.6zM463.7 54.3h7.6v9.0h-7.6zM499.1 54.3h7.6v9.0h-7.6zM442.5 71.3h14.6v9.0h-14.6zM400.0 79.8h7.6v9.0h-7.6zM322.2 88.3h7.6v9.0h-7.6zM400.0 88.3h7.6v9.0h-7.6zM428.3 96.8h14.6v9.0h-14.6zM81.8 215.6h50.0v9.0h-50.0zM244.4 249.6h14.6v9.0h-14.6zM166.6 266.6h7.6v9.0h-7.6zM216.1 283.5h7.6v9.0h-7.6zM640.5 283.5h7.6v9.0h-7.6zM216.1 292.0h7.6v9.0h-7.6zM216.1 300.5h7.6v9.0h-7.6zM216.1 309.0h7.6v9.0h-7.6zM216.1 317.5h7.6v9.0h-7.6zM633.5 317.5h7.6v9.0h-7.6zM216.1 326.0h7.6v9.0h-7.6zM633.5 326.0h7.6v9.0h-7.6zM194.9 334.5h7.6v9.0h-7.6zM216.1 334.5h7.6v9.0h-7.6zM640.5 334.5h78.3v9.0h-78.3zM194.9 343.0h7.6v9.0h-7.6zM216.1 343.0h7.6v9.0h-7.6zM194.9 351.5h7.6v9.0h-7.6zM194.9 359.9h7.6v9.0h-7.6zM131.3 427.9h7.6v9.0h-7.6zM364.7 444.8h7.6v9.0h-7.6zM484.9 453.3h14.6v9.0h-14.6zM456.6 461.8h14.6v9.0h-14.6zM145.4 470.3h7.6v9.0h-7.6zM81.8 478.8h50.0v9.0h-50.0zM329.3 487.3h7.6v9.0h-7.6zM357.6 504.3h14.6v9.0h-14.6zM640.5 512.8h14.6v9.0h-14.6zM138.3 529.7h7.6v9.0h-7.6z"/><path fill="rgb(91,91,91)" d="M336.4 71.3h7.6v9.0h-7.6zM435.4 79.8h7.6v9.0h-7.6zM449.6 79.8h7.6v9.0h-7.6zM428.3 88.3h7.6v9.0h-7.6zM442.5 88.3h7.6v9.0h-7.6zM223.2 266.6h7.6v9.0h-7.6zM216.1 275.0h7.6v9.0h-7.6zM187.9 317.5h7.6v9.0h-7.6zM194.9 326.0h7.6v9.0h-7.6zM209.1 351.5h7.6v9.0h-7.6zM202.0 359.9h7.6v9.0h-7.6zM166.6 402.4h7.6v9.0h-7.6zM159.6 410.9h7.6v9.0h-7.6zM152.5 419.4h7.6v9.0h-7.6zM81.8 427.9h50.0v9.0h-50.0zM145.4 427.9h7.6v9.0h-7.6zM612.2 504.3h7.6v9.0h-7.6zM626.4 504.3h7.6v9.0h-7.6zM619.3 512.8h7.6v9.0h-7.6zM633.5 512.8h7.6v9.0h-7.6z"/><path fill="rgb(92,92,92)" d="M244.4 156.2h7.6v9.0h-7.6zM329.3 224.1h7.6v9.0h-7.6zM308.1 232.6h7.6v9.0h-7.6zM173.7 283.5h7.6v9.0h-7.6zM173.7 402.4h7.6v9.0h-7.6zM583.9 487.3h7.6v9.0h-7.6zM612.2 495.8h7.6v9.0h-7.6zM605.2 504.3h7.6v9.0h-7.6z"/><path fill="rgb(93,93,93)" d="M442.5 79.8h7.6v9.0h-7.6zM435.4 88.3h7.6v9.0h-7.6zM400.0 96.8h7.6v9.0h-7.6zM131.3 215.6h7.6v9.0h-7.6zM138.3 224.1h7.6v9.0h-7.6zM145.4 232.6h7.6v9.0h-7.6zM152.5 241.1h7.6v9.0h-7.6zM258.6 249.6h7.6v9.0h-7.6zM216.1 266.6h7.6v9.0h-7.6zM654.7 266.6h7.6v9.0h-7.6zM180.8 309.0h7.6v9.0h-7.6zM194.9 317.5h7.6v9.0h-7.6zM202.0 351.5h7.6v9.0h-7.6zM166.6 410.9h7.6v9.0h-7.6zM343.5 444.8h7.6v9.0h-7.6zM619.3 504.3h7.6v9.0h-7.6zM626.4 512.8h7.6v9.0h-7.6z"/><path fill="rgb(94,94,94)" d="M371.8 3.4h14.6v9.0h-14.6zM470.8 3.4h28.8v9.0h-28.8zM371.8 11.8h14.6v9.0h-14.6zM470.8 11.8h28.8v9.0h-28.8zM371.8 20.3h14.6v9.0h-14.6zM470.8 20.3h28.8v9.0h-28.8zM371.8 28.8h14.6v9.0h-14.6zM470.8 28.8h28.8v9.0h-28.8zM371.8 37.3h14.6v9.0h-14.6zM470.8 37.3h28.8v9.0h-28.8zM371.8 45.8h14.6v9.0h-14.6zM470.8 45.8h28.8v9.0h-28.8zM371.8 54.3h14.6v9.0h-14.6zM470.8 54.3h28.8v9.0h-28.8zM393.0 181.7h7.6v9.0h-7.6zM385.9 190.1h7.6v9.0h-7.6zM343.5 232.6h42.9v9.0h-42.9zM343.5 241.1h42.9v9.0h-42.9zM159.6 249.6h7.6v9.0h-7.6zM237.4 249.6h7.6v9.0h-7.6zM166.6 258.1h7.6v9.0h-7.6zM230.3 258.1h7.6v9.0h-7.6zM202.0 283.5h14.6v9.0h-14.6zM202.0 292.0h14.6v9.0h-14.6zM202.0 300.5h14.6v9.0h-14.6zM202.0 309.0h14.6v9.0h-14.6zM202.0 317.5h14.6v9.0h-14.6zM202.0 326.0h14.6v9.0h-14.6zM202.0 334.5h14.6v9.0h-14.6zM202.0 343.0h14.6v9.0h-14.6zM173.7 385.4h14.6v9.0h-14.6zM173.7 393.9h14.6v9.0h-14.6zM166.6 436.4h7.6v9.0h-7.6zM159.6 444.8h7.6v9.0h-7.6zM336.4 453.3h7.6v9.0h-7.6zM329.3 461.8h7.6v9.0h-7.6zM598.1 470.3h7.6v9.0h-7.6zM605.2 478.8h7.6v9.0h-7.6z"/><path fill="rgb(95,95,95)" d="M329.3 79.8h7.6v9.0h-7.6zM378.8 224.1h7.6v9.0h-7.6zM272.7 249.6h7.6v9.0h-7.6zM661.7 258.1h7.6v9.0h-7.6zM173.7 275.0h7.6v9.0h-7.6zM209.1 275.0h7.6v9.0h-7.6zM647.6 275.0h7.6v9.0h-7.6zM194.9 283.5h7.6v9.0h-7.6zM194.9 309.0h7.6v9.0h-7.6zM166.6 419.4h7.6v9.0h-7.6zM583.9 470.3h7.6v9.0h-7.6zM350.5 495.8h7.6v9.0h-7.6zM364.7 495.8h7.6v9.0h-7.6z"/><path fill="rgb(96,96,96)" d="M400.0 173.2h7.6v9.0h-7.6zM81.8 207.1h50.0v9.0h-50.0zM336.4 224.1h7.6v9.0h-7.6zM180.8 283.5h7.6v9.0h-7.6zM640.5 326.0h7.6v9.0h-7.6zM598.1 504.3h7.6v9.0h-7.6z"/><path fill="rgb(97,97,97)" d="M357.6 62.8h7.6v9.0h-7.6zM385.9 62.8h7.6v9.0h-7.6zM393.0 71.3h7.6v9.0h-7.6zM378.8 198.6h7.6v9.0h-7.6zM378.8 207.1h7.6v9.0h-7.6zM138.3 215.6h7.6v9.0h-7.6zM378.8 215.6h7.6v9.0h-7.6zM343.5 224.1h35.9v9.0h-35.9zM286.9 241.1h7.6v9.0h-7.6zM216.1 258.1h14.6v9.0h-14.6zM173.7 266.6h7.6v9.0h-7.6zM209.1 266.6h7.6v9.0h-7.6zM180.8 275.0h28.8v9.0h-28.8zM187.9 283.5h7.6v9.0h-7.6zM194.9 292.0h7.6v9.0h-7.6zM640.5 292.0h7.6v9.0h-7.6zM194.9 300.5h7.6v9.0h-7.6zM187.9 309.0h7.6v9.0h-7.6zM159.6 419.4h7.6v9.0h-7.6zM166.6 427.9h7.6v9.0h-7.6zM364.7 453.3h7.6v9.0h-7.6zM364.7 461.8h7.6v9.0h-7.6zM329.3 470.3h7.6v9.0h-7.6zM364.7 470.3h7.6v9.0h-7.6zM591.0 470.3h7.6v9.0h-7.6zM329.3 478.8h7.6v9.0h-7.6zM364.7 478.8h7.6v9.0h-7.6zM583.9 478.8h7.6v9.0h-7.6zM364.7 487.3h7.6v9.0h-7.6zM605.2 487.3h7.6v9.0h-7.6zM357.6 495.8h7.6v9.0h-7.6zM605.2 495.8h7.6v9.0h-7.6z"/><path fill="rgb(98,98,98)" d="M400.0 105.2h7.6v9.0h-7.6zM131.3 207.1h7.6v9.0h-7.6zM145.4 224.1h7.6v9.0h-7.6zM322.2 224.1h7.6v9.0h-7.6zM152.5 232.6h7.6v9.0h-7.6zM159.6 241.1h7.6v9.0h-7.6zM265.7 249.6h7.6v9.0h-7.6zM180.8 300.5h7.6v9.0h-7.6zM350.5 444.8h14.6v9.0h-14.6zM152.5 461.8h7.6v9.0h-7.6zM336.4 487.3h7.6v9.0h-7.6zM131.3 529.7h7.6v9.0h-7.6zM145.4 538.2h7.6v9.0h-7.6zM152.5 546.7h7.6v9.0h-7.6z"/><path fill="rgb(99,99,99)" d="M81.8 198.6h50.0v9.0h-50.0zM166.6 249.6h7.6v9.0h-7.6zM173.7 258.1h7.6v9.0h-7.6zM180.8 292.0h7.6v9.0h-7.6zM640.5 317.5h7.6v9.0h-7.6zM647.6 326.0h7.6v9.0h-7.6z"/><path fill="rgb(100,100,100)" d="M159.6 3.4h7.6v9.0h-7.6zM159.6 11.8h7.6v9.0h-7.6zM159.6 20.3h7.6v9.0h-7.6zM159.6 28.8h7.6v9.0h-7.6zM159.6 37.3h7.6v9.0h-7.6zM159.6 45.8h7.6v9.0h-7.6zM159.6 54.3h7.6v9.0h-7.6zM315.2 113.7h7.6v9.0h-7.6zM251.5 164.7h7.6v9.0h-7.6zM152.5 427.9h7.6v9.0h-7.6zM152.5 453.3h7.6v9.0h-7.6zM343.5 453.3h7.6v9.0h-7.6zM138.3 470.3h7.6v9.0h-7.6zM591.0 495.8h7.6v9.0h-7.6z"/><path fill="rgb(101,101,101)" d="M385.9 181.7h7.6v9.0h-7.6zM378.8 190.1h7.6v9.0h-7.6zM131.3 198.6h7.6v9.0h-7.6zM138.3 207.1h7.6v9.0h-7.6zM145.4 215.6h7.6v9.0h-7.6zM230.3 249.6h7.6v9.0h-7.6zM209.1 258.1h7.6v9.0h-7.6zM668.8 258.1h50.0v9.0h-50.0zM640.5 300.5h7.6v9.0h-7.6zM640.5 309.0h7.6v9.0h-7.6zM81.8 436.4h64.2v9.0h-64.2zM159.6 436.4h7.6v9.0h-7.6zM336.4 461.8h7.6v9.0h-7.6zM598.1 478.8h7.6v9.0h-7.6zM81.8 529.7h50.0v9.0h-50.0z"/><path fill="rgb(102,102,102)" d="M378.8 62.8h7.6v9.0h-7.6zM393.0 79.8h7.6v9.0h-7.6zM371.8 215.6h7.6v9.0h-7.6zM152.5 224.1h7.6v9.0h-7.6zM159.6 232.6h7.6v9.0h-7.6zM244.4 241.1h7.6v9.0h-7.6zM180.8 266.6h7.6v9.0h-7.6zM202.0 266.6h7.6v9.0h-7.6zM187.9 292.0h7.6v9.0h-7.6zM187.9 300.5h7.6v9.0h-7.6zM654.7 326.0h7.6v9.0h-7.6zM159.6 427.9h7.6v9.0h-7.6zM145.4 436.4h7.6v9.0h-7.6zM152.5 444.8h7.6v9.0h-7.6zM591.0 478.8h7.6v9.0h-7.6zM343.5 487.3h7.6v9.0h-7.6zM357.6 487.3h7.6v9.0h-7.6z"/><path fill="rgb(103,103,103)" d="M364.7 62.8h7.6v9.0h-7.6zM343.5 71.3h7.6v9.0h-7.6zM265.7 173.2h7.6v9.0h-7.6zM81.8 190.1h50.0v9.0h-50.0zM166.6 241.1h7.6v9.0h-7.6zM173.7 249.6h7.6v9.0h-7.6zM591.0 487.3h7.6v9.0h-7.6z"/><path fill="rgb(104,104,104)" d="M301.0 232.6h7.6v9.0h-7.6zM237.4 241.1h7.6v9.0h-7.6zM152.5 436.4h7.6v9.0h-7.6zM350.5 487.3h7.6v9.0h-7.6z"/><path fill="rgb(105,105,105)" d="M371.8 62.8h7.6v9.0h-7.6zM393.0 88.3h7.6v9.0h-7.6zM322.2 96.8h7.6v9.0h-7.6zM315.2 105.2h7.6v9.0h-7.6zM279.8 181.7h7.6v9.0h-7.6zM131.3 190.1h7.6v9.0h-7.6zM138.3 198.6h7.6v9.0h-7.6zM371.8 198.6h7.6v9.0h-7.6zM145.4 207.1h7.6v9.0h-7.6zM371.8 207.1h7.6v9.0h-7.6zM152.5 215.6h7.6v9.0h-7.6zM343.5 215.6h28.8v9.0h-28.8zM159.6 224.1h7.6v9.0h-7.6zM251.5 241.1h7.6v9.0h-7.6zM216.1 249.6h14.6v9.0h-14.6zM187.9 266.6h14.6v9.0h-14.6zM647.6 283.5h7.6v9.0h-7.6zM661.7 326.0h7.6v9.0h-7.6zM357.6 453.3h7.6v9.0h-7.6zM357.6 461.8h7.6v9.0h-7.6zM336.4 470.3h7.6v9.0h-7.6zM357.6 470.3h7.6v9.0h-7.6zM336.4 478.8h7.6v9.0h-7.6zM357.6 478.8h7.6v9.0h-7.6zM598.1 487.3h7.6v9.0h-7.6zM598.1 495.8h7.6v9.0h-7.6z"/><path fill="rgb(106,106,106)" d="M286.9 181.7h7.6v9.0h-7.6zM166.6 232.6h7.6v9.0h-7.6zM173.7 241.1h7.6v9.0h-7.6zM180.8 258.1h7.6v9.0h-7.6zM661.7 266.6h7.6v9.0h-7.6zM654.7 275.0h7.6v9.0h-7.6zM668.8 326.0h50.0v9.0h-50.0zM81.8 444.8h50.0v9.0h-50.0zM350.5 453.3h7.6v9.0h-7.6zM343.5 461.8h7.6v9.0h-7.6zM152.5 555.2h7.6v9.0h-7.6zM152.5 563.7h7.6v9.0h-7.6zM152.5 572.2h7.6v9.0h-7.6zM152.5 580.7h7.6v9.0h-7.6zM152.5 589.2h7.6v9.0h-7.6zM152.5 597.7h7.6v9.0h-7.6zM152.5 606.1h7.6v9.0h-7.6z"/><path fill="rgb(107,107,107)" d="M400.0 113.7h7.6v9.0h-7.6zM322.2 122.2h7.6v9.0h-7.6zM81.8 181.7h50.0v9.0h-50.0zM336.4 215.6h7.6v9.0h-7.6zM180.8 249.6h7.6v9.0h-7.6z"/><path fill="rgb(108,108,108)" d="M131.3 181.7h7.6v9.0h-7.6zM138.3 190.1h7.6v9.0h-7.6zM145.4 198.6h7.6v9.0h-7.6zM152.5 207.1h7.6v9.0h-7.6zM159.6 215.6h7.6v9.0h-7.6zM166.6 224.1h7.6v9.0h-7.6zM145.4 461.8h7.6v9.0h-7.6zM350.5 461.8h7.6v9.0h-7.6zM131.3 470.3h7.6v9.0h-7.6z"/><path fill="rgb(109,109,109)" d="M81.8 79.8h50.0v9.0h-50.0zM173.7 79.8h7.6v9.0h-7.6zM81.8 88.3h50.0v9.0h-50.0zM180.8 88.3h7.6v9.0h-7.6zM81.8 96.8h64.2v9.0h-64.2zM187.9 96.8h7.6v9.0h-7.6zM81.8 105.2h64.2v9.0h-64.2zM194.9 105.2h7.6v9.0h-7.6zM81.8 113.7h78.3v9.0h-78.3zM202.0 113.7h7.6v9.0h-7.6zM81.8 122.2h78.3v9.0h-78.3zM81.8 130.7h85.4v9.0h-85.4zM81.8 139.2h85.4v9.0h-85.4zM81.8 147.7h85.4v9.0h-85.4zM81.8 156.2h92.4v9.0h-92.4zM81.8 164.7h92.4v9.0h-92.4zM81.8 173.2h64.2v9.0h-64.2zM152.5 173.2h28.8v9.0h-28.8zM138.3 181.7h7.6v9.0h-7.6zM166.6 181.7h14.6v9.0h-14.6zM378.8 181.7h7.6v9.0h-7.6zM145.4 190.1h7.6v9.0h-7.6zM180.8 190.1h7.6v9.0h-7.6zM371.8 190.1h7.6v9.0h-7.6zM152.5 198.6h7.6v9.0h-7.6zM173.7 232.6h7.6v9.0h-7.6zM180.8 241.1h7.6v9.0h-7.6zM209.1 249.6h7.6v9.0h-7.6zM202.0 258.1h7.6v9.0h-7.6zM131.3 444.8h7.6v9.0h-7.6zM343.5 470.3h14.6v9.0h-14.6zM343.5 478.8h14.6v9.0h-14.6z"/><path fill="rgb(110,110,110)" d="M166.6 71.3h7.6v9.0h-7.6zM385.9 71.3h7.6v9.0h-7.6zM393.0 96.8h7.6v9.0h-7.6zM209.1 122.2h7.6v9.0h-7.6zM166.6 130.7h7.6v9.0h-7.6zM216.1 130.7h7.6v9.0h-7.6zM166.6 139.2h7.6v9.0h-7.6zM166.6 147.7h14.6v9.0h-14.6zM173.7 156.2h14.6v9.0h-14.6zM173.7 164.7h14.6v9.0h-14.6zM145.4 173.2h7.6v9.0h-7.6zM180.8 173.2h7.6v9.0h-7.6zM393.0 173.2h7.6v9.0h-7.6zM145.4 181.7h21.7v9.0h-21.7zM180.8 181.7h7.6v9.0h-7.6zM152.5 190.1h28.8v9.0h-28.8zM187.9 190.1h7.6v9.0h-7.6zM159.6 198.6h7.6v9.0h-7.6zM180.8 198.6h14.6v9.0h-14.6zM159.6 207.1h7.6v9.0h-7.6zM194.9 207.1h7.6v9.0h-7.6zM364.7 207.1h7.6v9.0h-7.6zM166.6 215.6h7.6v9.0h-7.6zM194.9 215.6h7.6v9.0h-7.6zM209.1 232.6h7.6v9.0h-7.6zM216.1 241.1h7.6v9.0h-7.6zM230.3 241.1h7.6v9.0h-7.6zM279.8 241.1h7.6v9.0h-7.6zM187.9 258.1h7.6v9.0h-7.6zM138.3 538.2h7.6v9.0h-7.6z"/><path fill="rgb(111,111,111)" d="M131.3 88.3h7.6v9.0h-7.6zM145.4 105.2h7.6v9.0h-7.6zM159.6 122.2h7.6v9.0h-7.6zM322.2 130.7h7.6v9.0h-7.6zM180.8 147.7h7.6v9.0h-7.6zM187.9 164.7h7.6v9.0h-7.6zM187.9 173.2h7.6v9.0h-7.6zM301.0 173.2h7.6v9.0h-7.6zM187.9 181.7h7.6v9.0h-7.6zM166.6 198.6h14.6v9.0h-14.6zM194.9 198.6h7.6v9.0h-7.6zM166.6 207.1h7.6v9.0h-7.6zM180.8 207.1h14.6v9.0h-14.6zM202.0 207.1h7.6v9.0h-7.6zM202.0 215.6h7.6v9.0h-7.6zM329.3 215.6h7.6v9.0h-7.6zM173.7 224.1h7.6v9.0h-7.6zM202.0 224.1h14.6v9.0h-14.6zM647.6 317.5h7.6v9.0h-7.6z"/><path fill="rgb(112,112,112)" d="M336.4 79.8h7.6v9.0h-7.6zM329.3 88.3h7.6v9.0h-7.6zM173.7 139.2h7.6v9.0h-7.6zM223.2 139.2h7.6v9.0h-7.6zM194.9 164.7h7.6v9.0h-7.6zM194.9 173.2h7.6v9.0h-7.6zM194.9 181.7h7.6v9.0h-7.6zM194.9 190.1h7.6v9.0h-7.6zM202.0 198.6h7.6v9.0h-7.6zM364.7 198.6h7.6v9.0h-7.6zM173.7 207.1h7.6v9.0h-7.6zM357.6 207.1h7.6v9.0h-7.6zM173.7 215.6h21.7v9.0h-21.7zM194.9 224.1h7.6v9.0h-7.6zM216.1 232.6h7.6v9.0h-7.6zM209.1 241.1h7.6v9.0h-7.6zM223.2 241.1h7.6v9.0h-7.6zM258.6 241.1h7.6v9.0h-7.6zM187.9 249.6h7.6v9.0h-7.6zM194.9 258.1h7.6v9.0h-7.6zM668.8 266.6h50.0v9.0h-50.0zM647.6 292.0h7.6v9.0h-7.6zM145.4 444.8h7.6v9.0h-7.6zM81.8 453.3h50.0v9.0h-50.0zM81.8 470.3h50.0v9.0h-50.0z"/><path fill="rgb(113,113,113)" d="M187.9 156.2h7.6v9.0h-7.6zM258.6 173.2h7.6v9.0h-7.6zM202.0 181.7h7.6v9.0h-7.6zM202.0 190.1h7.6v9.0h-7.6zM209.1 215.6h7.6v9.0h-7.6zM180.8 232.6h7.6v9.0h-7.6zM187.9 241.1h7.6v9.0h-7.6zM145.4 453.3h7.6v9.0h-7.6z"/><path fill="rgb(114,114,114)" d="M131.3 79.8h7.6v9.0h-7.6zM138.3 88.3h7.6v9.0h-7.6zM145.4 96.8h7.6v9.0h-7.6zM152.5 105.2h7.6v9.0h-7.6zM230.3 147.7h7.6v9.0h-7.6zM400.0 164.7h7.6v9.0h-7.6zM209.1 190.1h7.6v9.0h-7.6zM209.1 198.6h7.6v9.0h-7.6zM209.1 207.1h7.6v9.0h-7.6zM350.5 207.1h7.6v9.0h-7.6zM180.8 224.1h14.6v9.0h-14.6zM216.1 224.1h7.6v9.0h-7.6zM315.2 224.1h7.6v9.0h-7.6zM202.0 232.6h7.6v9.0h-7.6zM138.3 444.8h7.6v9.0h-7.6zM131.3 453.3h7.6v9.0h-7.6zM138.3 461.8h7.6v9.0h-7.6z"/><path fill="rgb(115,115,115)" d="M159.6 113.7h7.6v9.0h-7.6zM166.6 122.2h7.6v9.0h-7.6zM173.7 130.7h7.6v9.0h-7.6zM202.0 173.2h7.6v9.0h-7.6zM209.1 181.7h7.6v9.0h-7.6zM187.9 232.6h14.6v9.0h-14.6zM661.7 275.0h7.6v9.0h-7.6z"/><path fill="rgb(116,116,116)" d="M180.8 139.2h7.6v9.0h-7.6zM187.9 147.7h7.6v9.0h-7.6zM371.8 181.7h7.6v9.0h-7.6zM364.7 190.1h7.6v9.0h-7.6zM216.1 198.6h7.6v9.0h-7.6zM343.5 207.1h7.6v9.0h-7.6zM216.1 215.6h7.6v9.0h-7.6zM202.0 249.6h7.6v9.0h-7.6zM654.7 283.5h7.6v9.0h-7.6zM647.6 300.5h7.6v9.0h-7.6zM647.6 309.0h7.6v9.0h-7.6z"/><path fill="rgb(117,117,117)" d="M159.6 62.8h7.6v9.0h-7.6zM393.0 105.2h7.6v9.0h-7.6zM194.9 156.2h7.6v9.0h-7.6zM385.9 173.2h7.6v9.0h-7.6zM357.6 198.6h7.6v9.0h-7.6zM216.1 207.1h7.6v9.0h-7.6zM223.2 232.6h7.6v9.0h-7.6zM237.4 232.6h7.6v9.0h-7.6zM194.9 249.6h7.6v9.0h-7.6zM131.3 538.2h7.6v9.0h-7.6z"/><path fill="rgb(118,118,118)" d="M81.8 71.3h50.0v9.0h-50.0zM400.0 122.2h7.6v9.0h-7.6zM237.4 156.2h7.6v9.0h-7.6zM202.0 164.7h7.6v9.0h-7.6zM216.1 190.1h7.6v9.0h-7.6zM194.9 241.1h14.6v9.0h-14.6zM138.3 453.3h7.6v9.0h-7.6zM131.3 461.8h7.6v9.0h-7.6z"/><path fill="rgb(119,119,119)" d="M350.5 71.3h7.6v9.0h-7.6zM223.2 198.6h7.6v9.0h-7.6zM223.2 207.1h7.6v9.0h-7.6zM223.2 215.6h7.6v9.0h-7.6zM230.3 232.6h7.6v9.0h-7.6zM145.4 546.7h7.6v9.0h-7.6z"/><path fill="rgb(120,120,120)" d="M378.8 71.3h7.6v9.0h-7.6zM385.9 79.8h7.6v9.0h-7.6zM209.1 173.2h7.6v9.0h-7.6zM272.7 181.7h7.6v9.0h-7.6zM223.2 224.1h7.6v9.0h-7.6zM244.4 232.6h7.6v9.0h-7.6zM294.0 232.6h7.6v9.0h-7.6zM668.8 275.0h50.0v9.0h-50.0zM654.7 317.5h7.6v9.0h-7.6zM81.8 461.8h50.0v9.0h-50.0z"/><path fill="rgb(121,121,121)" d="M81.8 538.2h50.0v9.0h-50.0z"/><path fill="rgb(122,122,122)" d="M315.2 147.7h7.6v9.0h-7.6zM244.4 164.7h7.6v9.0h-7.6zM216.1 181.7h7.6v9.0h-7.6zM230.3 215.6h7.6v9.0h-7.6z"/><path fill="rgb(123,123,123)" d="M400.0 130.7h7.6v9.0h-7.6zM400.0 139.2h7.6v9.0h-7.6zM400.0 147.7h7.6v9.0h-7.6zM400.0 156.2h7.6v9.0h-7.6zM230.3 207.1h7.6v9.0h-7.6zM230.3 224.1h7.6v9.0h-7.6zM272.7 241.1h7.6v9.0h-7.6z"/><path fill="rgb(124,124,124)" d="M138.3 79.8h7.6v9.0h-7.6zM322.2 105.2h7.6v9.0h-7.6zM378.8 173.2h7.6v9.0h-7.6zM294.0 181.7h7.6v9.0h-7.6zM364.7 181.7h7.6v9.0h-7.6zM223.2 190.1h7.6v9.0h-7.6zM357.6 190.1h7.6v9.0h-7.6zM350.5 198.6h7.6v9.0h-7.6zM265.7 241.1h7.6v9.0h-7.6zM661.7 283.5h7.6v9.0h-7.6zM654.7 292.0h7.6v9.0h-7.6z"/><path fill="rgb(125,125,125)" d="M145.4 88.3h7.6v9.0h-7.6zM152.5 96.8h7.6v9.0h-7.6zM159.6 105.2h7.6v9.0h-7.6zM166.6 113.7h7.6v9.0h-7.6zM322.2 113.7h7.6v9.0h-7.6zM173.7 122.2h7.6v9.0h-7.6zM237.4 224.1h7.6v9.0h-7.6z"/><path fill="rgb(126,126,126)" d="M131.3 71.3h7.6v9.0h-7.6zM180.8 130.7h7.6v9.0h-7.6zM187.9 139.2h7.6v9.0h-7.6zM308.1 156.2h7.6v9.0h-7.6zM237.4 215.6h7.6v9.0h-7.6z"/><path fill="rgb(127,127,127)" d="M371.8 71.3h7.6v9.0h-7.6zM343.5 79.8h7.6v9.0h-7.6zM385.9 88.3h7.6v9.0h-7.6zM393.0 113.7h7.6v9.0h-7.6zM194.9 147.7h7.6v9.0h-7.6zM230.3 198.6h7.6v9.0h-7.6zM336.4 207.1h7.6v9.0h-7.6zM251.5 232.6h7.6v9.0h-7.6zM661.7 317.5h7.6v9.0h-7.6z"/><path fill="rgb(128,128,128)" d="M357.6 71.3h7.6v9.0h-7.6zM329.3 96.8h7.6v9.0h-7.6zM202.0 156.2h7.6v9.0h-7.6zM668.8 283.5h50.0v9.0h-50.0zM654.7 300.5h7.6v9.0h-7.6zM654.7 309.0h7.6v9.0h-7.6z"/><path fill="rgb(129,129,129)" d="M364.7 71.3h7.6v9.0h-7.6zM209.1 164.7h7.6v9.0h-7.6zM371.8 173.2h7.6v9.0h-7.6zM322.2 215.6h7.6v9.0h-7.6zM308.1 224.1h7.6v9.0h-7.6z"/><path fill="rgb(130,130,130)" d="M668.8 317.5h50.0v9.0h-50.0zM145.4 555.2h7.6v9.0h-7.6zM145.4 563.7h7.6v9.0h-7.6zM145.4 572.2h7.6v9.0h-7.6zM145.4 580.7h7.6v9.0h-7.6zM145.4 589.2h7.6v9.0h-7.6zM145.4 597.7h7.6v9.0h-7.6zM145.4 606.1h7.6v9.0h-7.6z"/><path fill="rgb(131,131,131)" d="M216.1 173.2h7.6v9.0h-7.6zM343.5 198.6h7.6v9.0h-7.6zM237.4 207.1h7.6v9.0h-7.6zM244.4 224.1h7.6v9.0h-7.6z"/><path fill="rgb(132,132,132)" d="M251.5 173.2h7.6v9.0h-7.6z"/><path fill="rgb(133,133,133)" d="M378.8 79.8h7.6v9.0h-7.6zM223.2 181.7h7.6v9.0h-7.6zM265.7 181.7h7.6v9.0h-7.6zM357.6 181.7h7.6v9.0h-7.6zM350.5 190.1h7.6v9.0h-7.6zM661.7 292.0h7.6v9.0h-7.6z"/><path fill="rgb(134,134,134)" d="M152.5 3.4h7.6v9.0h-7.6zM152.5 11.8h7.6v9.0h-7.6zM152.5 20.3h7.6v9.0h-7.6zM152.5 28.8h7.6v9.0h-7.6zM152.5 37.3h7.6v9.0h-7.6zM152.5 45.8h7.6v9.0h-7.6zM152.5 54.3h7.6v9.0h-7.6zM336.4 88.3h7.6v9.0h-7.6zM385.9 96.8h7.6v9.0h-7.6zM393.0 164.7h7.6v9.0h-7.6zM138.3 546.7h7.6v9.0h-7.6z"/><path fill="rgb(136,136,136)" d="M81.8 62.8h50.0v9.0h-50.0zM322.2 139.2h7.6v9.0h-7.6zM230.3 190.1h7.6v9.0h-7.6zM244.4 215.6h7.6v9.0h-7.6z"/><path fill="rgb(137,137,137)" d="M166.6 79.8h7.6v9.0h-7.6zM180.8 96.8h7.6v9.0h-7.6zM194.9 113.7h7.6v9.0h-7.6z"/><path fill="rgb(138,138,138)" d="M209.1 130.7h7.6v9.0h-7.6zM364.7 173.2h7.6v9.0h-7.6zM668.8 292.0h50.0v9.0h-50.0zM661.7 300.5h7.6v9.0h-7.6zM661.7 309.0h7.6v9.0h-7.6z"/><path fill="rgb(139,139,139)" d="M237.4 198.6h7.6v9.0h-7.6z"/><path fill="rgb(140,140,140)" d="M350.5 79.8h7.6v9.0h-7.6zM393.0 122.2h7.6v9.0h-7.6zM223.2 147.7h7.6v9.0h-7.6zM258.6 232.6h7.6v9.0h-7.6z"/><path fill="rgb(141,141,141)" d="M286.9 232.6h7.6v9.0h-7.6z"/><path fill="rgb(142,142,142)" d="M138.3 71.3h7.6v9.0h-7.6zM145.4 79.8h7.6v9.0h-7.6zM371.8 79.8h7.6v9.0h-7.6zM152.5 88.3h7.6v9.0h-7.6zM378.8 88.3h7.6v9.0h-7.6zM159.6 96.8h7.6v9.0h-7.6zM166.6 105.2h7.6v9.0h-7.6zM385.9 105.2h7.6v9.0h-7.6zM173.7 113.7h7.6v9.0h-7.6zM180.8 122.2h7.6v9.0h-7.6zM385.9 164.7h7.6v9.0h-7.6zM350.5 181.7h7.6v9.0h-7.6zM343.5 190.1h7.6v9.0h-7.6zM251.5 224.1h7.6v9.0h-7.6zM675.9 300.5h7.6v9.0h-7.6zM690.0 300.5h7.6v9.0h-7.6zM704.2 300.5h7.6v9.0h-7.6zM668.8 309.0h50.0v9.0h-50.0zM131.3 546.7h7.6v9.0h-7.6z"/><path fill="rgb(143,143,143)" d="M329.3 105.2h7.6v9.0h-7.6zM329.3 122.2h7.6v9.0h-7.6zM187.9 130.7h7.6v9.0h-7.6zM194.9 139.2h7.6v9.0h-7.6zM258.6 181.7h7.6v9.0h-7.6zM301.0 224.1h7.6v9.0h-7.6zM668.8 300.5h7.6v9.0h-7.6zM683.0 300.5h7.6v9.0h-7.6zM697.1 300.5h7.6v9.0h-7.6zM711.3 300.5h7.6v9.0h-7.6z"/><path fill="rgb(144,144,144)" d="M202.0 147.7h7.6v9.0h-7.6zM237.4 164.7h7.6v9.0h-7.6zM244.4 207.1h7.6v9.0h-7.6z"/><path fill="rgb(145,145,145)" d="M152.5 62.8h7.6v9.0h-7.6zM209.1 156.2h7.6v9.0h-7.6zM329.3 207.1h7.6v9.0h-7.6zM81.8 546.7h50.0v9.0h-50.0z"/><path fill="rgb(146,146,146)" d="M81.8 3.4h50.0v9.0h-50.0zM81.8 11.8h50.0v9.0h-50.0zM81.8 20.3h50.0v9.0h-50.0zM81.8 28.8h50.0v9.0h-50.0zM81.8 37.3h50.0v9.0h-50.0zM81.8 45.8h50.0v9.0h-50.0zM81.8 54.3h50.0v9.0h-50.0zM357.6 79.8h14.6v9.0h-14.6zM393.0 130.7h7.6v9.0h-7.6zM393.0 139.2h7.6v9.0h-7.6zM393.0 147.7h7.6v9.0h-7.6zM393.0 156.2h7.6v9.0h-7.6zM216.1 164.7h7.6v9.0h-7.6zM378.8 164.7h7.6v9.0h-7.6zM138.3 555.2h7.6v9.0h-7.6zM138.3 563.7h7.6v9.0h-7.6zM138.3 572.2h7.6v9.0h-7.6zM138.3 580.7h7.6v9.0h-7.6zM138.3 589.2h7.6v9.0h-7.6zM138.3 597.7h7.6v9.0h-7.6zM138.3 606.1h7.6v9.0h-7.6z"/><path fill="rgb(147,147,147)" d="M131.3 62.8h7.6v9.0h-7.6zM343.5 88.3h7.6v9.0h-7.6zM385.9 113.7h7.6v9.0h-7.6z"/><path fill="rgb(148,148,148)" d="M329.3 113.7h7.6v9.0h-7.6zM371.8 164.7h7.6v9.0h-7.6zM223.2 173.2h7.6v9.0h-7.6z"/><path fill="rgb(149,149,149)" d="M173.7 88.3h7.6v9.0h-7.6zM187.9 105.2h7.6v9.0h-7.6zM202.0 122.2h7.6v9.0h-7.6zM357.6 173.2h7.6v9.0h-7.6zM230.3 181.7h7.6v9.0h-7.6z"/><path fill="rgb(150,150,150)" d="M371.8 88.3h7.6v9.0h-7.6zM329.3 130.7h7.6v9.0h-7.6zM216.1 139.2h7.6v9.0h-7.6zM343.5 181.7h7.6v9.0h-7.6zM251.5 215.6h7.6v9.0h-7.6z"/><path fill="rgb(151,151,151)" d="M159.6 71.3h7.6v9.0h-7.6zM336.4 96.8h7.6v9.0h-7.6zM378.8 96.8h7.6v9.0h-7.6z"/><path fill="rgb(152,152,152)" d="M350.5 88.3h7.6v9.0h-7.6zM385.9 122.2h7.6v9.0h-7.6zM230.3 156.2h7.6v9.0h-7.6zM237.4 190.1h7.6v9.0h-7.6z"/><path fill="rgb(154,154,154)" d="M357.6 88.3h14.6v9.0h-14.6zM385.9 130.7h7.6v9.0h-7.6zM385.9 139.2h7.6v9.0h-7.6zM385.9 147.7h7.6v9.0h-7.6zM385.9 156.2h7.6v9.0h-7.6zM131.3 555.2h7.6v9.0h-7.6zM131.3 563.7h7.6v9.0h-7.6zM131.3 572.2h7.6v9.0h-7.6zM131.3 580.7h7.6v9.0h-7.6zM131.3 589.2h7.6v9.0h-7.6zM131.3 597.7h7.6v9.0h-7.6zM131.3 606.1h7.6v9.0h-7.6z"/><path fill="rgb(155,155,155)" d="M159.6 88.3h7.6v9.0h-7.6zM173.7 105.2h7.6v9.0h-7.6zM187.9 122.2h7.6v9.0h-7.6zM244.4 198.6h7.6v9.0h-7.6zM336.4 198.6h7.6v9.0h-7.6z"/><path fill="rgb(156,156,156)" d="M145.4 71.3h7.6v9.0h-7.6zM202.0 139.2h7.6v9.0h-7.6zM251.5 181.7h7.6v9.0h-7.6z"/><path fill="rgb(157,157,157)" d="M131.3 3.4h7.6v9.0h-7.6zM131.3 11.8h7.6v9.0h-7.6zM131.3 20.3h7.6v9.0h-7.6zM131.3 28.8h7.6v9.0h-7.6zM131.3 37.3h7.6v9.0h-7.6zM131.3 45.8h7.6v9.0h-7.6zM131.3 54.3h7.6v9.0h-7.6zM371.8 147.7h14.6v9.0h-14.6zM371.8 156.2h7.6v9.0h-7.6zM364.7 164.7h7.6v9.0h-7.6zM301.0 181.7h7.6v9.0h-7.6zM279.8 232.6h7.6v9.0h-7.6zM81.8 555.2h50.0v9.0h-50.0zM88.8 563.7h7.6v9.0h-7.6zM103.0 563.7h7.6v9.0h-7.6zM117.1 563.7h7.6v9.0h-7.6zM81.8 572.2h50.0v9.0h-50.0zM88.8 580.7h7.6v9.0h-7.6zM103.0 580.7h7.6v9.0h-7.6zM117.1 580.7h7.6v9.0h-7.6zM81.8 589.2h50.0v9.0h-50.0zM88.8 597.7h7.6v9.0h-7.6zM103.0 597.7h7.6v9.0h-7.6zM117.1 597.7h7.6v9.0h-7.6zM81.8 606.1h50.0v9.0h-50.0z"/><path fill="rgb(158,158,158)" d="M216.1 156.2h7.6v9.0h-7.6zM378.8 156.2h7.6v9.0h-7.6zM244.4 173.2h7.6v9.0h-7.6zM258.6 224.1h7.6v9.0h-7.6zM81.8 563.7h7.6v9.0h-7.6zM95.9 563.7h7.6v9.0h-7.6zM110.1 563.7h7.6v9.0h-7.6zM124.2 563.7h7.6v9.0h-7.6zM81.8 580.7h7.6v9.0h-7.6zM95.9 580.7h7.6v9.0h-7.6zM110.1 580.7h7.6v9.0h-7.6zM124.2 580.7h7.6v9.0h-7.6zM81.8 597.7h7.6v9.0h-7.6zM95.9 597.7h7.6v9.0h-7.6zM110.1 597.7h7.6v9.0h-7.6zM124.2 597.7h7.6v9.0h-7.6z"/><path fill="rgb(159,159,159)" d="M378.8 139.2h7.6v9.0h-7.6zM294.0 224.1h7.6v9.0h-7.6z"/><path fill="rgb(160,160,160)" d="M308.1 164.7h7.6v9.0h-7.6zM230.3 173.2h7.6v9.0h-7.6zM350.5 173.2h7.6v9.0h-7.6z"/><path fill="rgb(161,161,161)" d="M371.8 96.8h7.6v9.0h-7.6zM378.8 105.2h7.6v9.0h-7.6zM378.8 130.7h7.6v9.0h-7.6zM371.8 139.2h7.6v9.0h-7.6zM251.5 207.1h7.6v9.0h-7.6zM265.7 232.6h7.6v9.0h-7.6z"/><path fill="rgb(162,162,162)" d="M336.4 105.2h7.6v9.0h-7.6zM315.2 215.6h7.6v9.0h-7.6z"/><path fill="rgb(163,163,163)" d="M343.5 96.8h7.6v9.0h-7.6zM378.8 122.2h7.6v9.0h-7.6zM364.7 147.7h7.6v9.0h-7.6zM265.7 190.1h7.6v9.0h-7.6z"/><path fill="rgb(164,164,164)" d="M159.6 79.8h7.6v9.0h-7.6zM166.6 88.3h7.6v9.0h-7.6zM173.7 96.8h7.6v9.0h-7.6zM180.8 105.2h7.6v9.0h-7.6zM187.9 113.7h7.6v9.0h-7.6zM194.9 122.2h7.6v9.0h-7.6z"/><path fill="rgb(165,165,165)" d="M350.5 96.8h7.6v9.0h-7.6zM378.8 113.7h7.6v9.0h-7.6zM202.0 130.7h7.6v9.0h-7.6zM209.1 139.2h7.6v9.0h-7.6zM364.7 156.2h7.6v9.0h-7.6zM244.4 190.1h7.6v9.0h-7.6zM272.7 190.1h7.6v9.0h-7.6z"/><path fill="rgb(166,166,166)" d="M152.5 79.8h7.6v9.0h-7.6zM166.6 96.8h7.6v9.0h-7.6zM357.6 96.8h14.6v9.0h-14.6zM180.8 113.7h7.6v9.0h-7.6zM194.9 130.7h7.6v9.0h-7.6zM216.1 147.7h7.6v9.0h-7.6zM223.2 156.2h7.6v9.0h-7.6zM258.6 215.6h7.6v9.0h-7.6zM272.7 232.6h7.6v9.0h-7.6z"/><path fill="rgb(167,167,167)" d="M138.3 62.8h14.6v9.0h-14.6zM152.5 71.3h7.6v9.0h-7.6zM329.3 139.2h7.6v9.0h-7.6zM364.7 139.2h7.6v9.0h-7.6zM209.1 147.7h7.6v9.0h-7.6z"/><path fill="rgb(168,168,168)" d="M371.8 130.7h7.6v9.0h-7.6zM223.2 164.7h14.6v9.0h-14.6zM237.4 173.2h7.6v9.0h-7.6z"/><path fill="rgb(169,169,169)" d="M336.4 113.7h7.6v9.0h-7.6zM336.4 181.7h7.6v9.0h-7.6zM336.4 190.1h7.6v9.0h-7.6z"/><path fill="rgb(170,170,170)" d="M322.2 147.7h7.6v9.0h-7.6zM343.5 173.2h7.6v9.0h-7.6zM322.2 207.1h7.6v9.0h-7.6z"/><path fill="rgb(171,171,171)" d="M237.4 181.7h7.6v9.0h-7.6z"/><path fill="rgb(172,172,172)" d="M145.4 3.4h7.6v9.0h-7.6zM145.4 11.8h7.6v9.0h-7.6zM145.4 20.3h7.6v9.0h-7.6zM145.4 28.8h7.6v9.0h-7.6zM145.4 37.3h7.6v9.0h-7.6zM145.4 45.8h7.6v9.0h-7.6zM145.4 54.3h7.6v9.0h-7.6zM357.6 164.7h7.6v9.0h-7.6zM258.6 190.1h7.6v9.0h-7.6z"/><path fill="rgb(173,173,173)" d="M336.4 122.2h7.6v9.0h-7.6zM244.4 181.7h7.6v9.0h-7.6zM251.5 190.1h7.6v9.0h-7.6z"/><path fill="rgb(174,174,174)" d="M343.5 105.2h7.6v9.0h-7.6zM371.8 122.2h7.6v9.0h-7.6zM357.6 147.7h7.6v9.0h-7.6zM251.5 198.6h7.6v9.0h-7.6zM258.6 207.1h7.6v9.0h-7.6z"/><path fill="rgb(175,175,175)" d="M336.4 130.7h7.6v9.0h-7.6z"/><path fill="rgb(176,176,176)" d="M371.8 105.2h7.6v9.0h-7.6zM364.7 130.7h7.6v9.0h-7.6zM336.4 139.2h7.6v9.0h-7.6zM357.6 139.2h7.6v9.0h-7.6z"/><path fill="rgb(177,177,177)" d="M315.2 156.2h7.6v9.0h-7.6zM279.8 190.1h7.6v9.0h-7.6z"/><path fill="rgb(179,179,179)" d="M286.9 224.1h7.6v9.0h-7.6z"/><path fill="rgb(180,180,180)" d="M138.3 3.4h7.6v9.0h-7.6zM138.3 11.8h7.6v9.0h-7.6zM138.3 20.3h7.6v9.0h-7.6zM138.3 28.8h7.6v9.0h-7.6zM138.3 37.3h7.6v9.0h-7.6zM138.3 45.8h7.6v9.0h-7.6zM138.3 54.3h7.6v9.0h-7.6zM350.5 105.2h7.6v9.0h-7.6zM371.8 113.7h7.6v9.0h-7.6zM343.5 139.2h14.6v9.0h-14.6zM357.6 156.2h7.6v9.0h-7.6zM265.7 198.6h7.6v9.0h-7.6zM265.7 224.1h7.6v9.0h-7.6z"/><path fill="rgb(182,182,182)" d="M350.5 147.7h7.6v9.0h-7.6zM308.1 173.2h7.6v9.0h-7.6z"/><path fill="rgb(183,183,183)" d="M357.6 105.2h14.6v9.0h-14.6zM343.5 113.7h7.6v9.0h-7.6zM364.7 122.2h7.6v9.0h-7.6zM258.6 198.6h7.6v9.0h-7.6zM265.7 207.1h7.6v9.0h-7.6zM265.7 215.6h7.6v9.0h-7.6z"/><path fill="rgb(184,184,184)" d="M357.6 130.7h7.6v9.0h-7.6zM308.1 215.6h7.6v9.0h-7.6z"/><path fill="rgb(185,185,185)" d="M336.4 173.2h7.6v9.0h-7.6z"/><path fill="rgb(187,187,187)" d="M343.5 147.7h7.6v9.0h-7.6zM350.5 164.7h7.6v9.0h-7.6z"/><path fill="rgb(188,188,188)" d="M350.5 113.7h7.6v9.0h-7.6zM364.7 113.7h7.6v9.0h-7.6zM343.5 122.2h7.6v9.0h-7.6zM357.6 122.2h7.6v9.0h-7.6zM343.5 130.7h14.6v9.0h-14.6z"/><path fill="rgb(189,189,189)" d="M279.8 224.1h7.6v9.0h-7.6z"/><path fill="rgb(190,190,190)" d="M357.6 113.7h7.6v9.0h-7.6zM350.5 122.2h7.6v9.0h-7.6zM336.4 147.7h7.6v9.0h-7.6zM286.9 190.1h7.6v9.0h-7.6z"/><path fill="rgb(191,191,191)" d="M272.7 198.6h7.6v9.0h-7.6zM272.7 224.1h7.6v9.0h-7.6z"/><path fill="rgb(193,193,193)" d="M329.3 147.7h7.6v9.0h-7.6z"/><path fill="rgb(194,194,194)" d="M350.5 156.2h7.6v9.0h-7.6z"/><path fill="rgb(195,195,195)" d="M301.0 215.6h7.6v9.0h-7.6z"/><path fill="rgb(196,196,196)" d="M329.3 198.6h7.6v9.0h-7.6z"/><path fill="rgb(197,197,197)" d="M272.7 207.1h7.6v9.0h-7.6zM272.7 215.6h7.6v9.0h-7.6z"/><path fill="rgb(201,201,201)" d="M329.3 181.7h7.6v9.0h-7.6zM315.2 207.1h7.6v9.0h-7.6z"/><path fill="rgb(202,202,202)" d="M343.5 164.7h7.6v9.0h-7.6z"/><path fill="rgb(203,203,203)" d="M294.0 190.1h7.6v9.0h-7.6z"/><path fill="rgb(204,204,204)" d="M294.0 215.6h7.6v9.0h-7.6z"/><path fill="rgb(206,206,206)" d="M329.3 173.2h7.6v9.0h-7.6z"/><path fill="rgb(207,207,207)" d="M343.5 156.2h7.6v9.0h-7.6zM308.1 181.7h7.6v9.0h-7.6z"/><path fill="rgb(208,208,208)" d="M279.8 215.6h7.6v9.0h-7.6z"/><path fill="rgb(209,209,209)" d="M315.2 164.7h7.6v9.0h-7.6z"/><path fill="rgb(211,211,211)" d="M286.9 215.6h7.6v9.0h-7.6z"/><path fill="rgb(212,212,212)" d="M322.2 156.2h7.6v9.0h-7.6z"/><path fill="rgb(214,214,214)" d="M329.3 190.1h7.6v9.0h-7.6z"/><path fill="rgb(215,215,215)" d="M279.8 198.6h7.6v9.0h-7.6z"/><path fill="rgb(216,216,216)" d="M336.4 164.7h7.6v9.0h-7.6z"/><path fill="rgb(217,217,217)" d="M315.2 173.2h14.6v9.0h-14.6zM301.0 190.1h7.6v9.0h-7.6zM279.8 207.1h7.6v9.0h-7.6z"/><path fill="rgb(218,218,218)" d="M336.4 156.2h7.6v9.0h-7.6z"/><path fill="rgb(220,220,220)" d="M322.2 181.7h7.6v9.0h-7.6zM308.1 207.1h7.6v9.0h-7.6z"/><path fill="rgb(222,222,222)" d="M322.2 198.6h7.6v9.0h-7.6z"/><path fill="rgb(226,226,226)" d="M329.3 156.2h7.6v9.0h-7.6z"/><path fill="rgb(228,228,228)" d="M322.2 164.7h7.6v9.0h-7.6zM315.2 181.7h7.6v9.0h-7.6zM286.9 207.1h7.6v9.0h-7.6zM301.0 207.1h7.6v9.0h-7.6z"/><path fill="rgb(230,230,230)" d="M329.3 164.7h7.6v9.0h-7.6zM286.9 198.6h7.6v9.0h-7.6zM294.0 207.1h7.6v9.0h-7.6z"/><path fill="rgb(232,232,232)" d="M315.2 198.6h7.6v9.0h-7.6z"/><path fill="rgb(234,234,234)" d="M308.1 190.1h7.6v9.0h-7.6z"/><path fill="rgb(238,238,238)" d="M322.2 190.1h7.6v9.0h-7.6zM294.0 198.6h7.6v9.0h-7.6zM308.1 198.6h7.6v9.0h-7.6z"/><path fill="rgb(241,241,241)" d="M315.2 190.1h7.6v9.0h-7.6zM301.0 198.6h7.6v9.0h-7.6z"/></g>
<polygon points="123.0,53.0 354.0,53.0 354.0,58.5 350.0,58.5 350.0,63.0 343.0,63.0 343.0,67.0 336.0,67.0 336.0,71.5 333.0,71.5 333.0,75.5 326.0,75.5 326.0,80.0 319.0,80.0 319.0,84.0 312.0,84.0 312.0,88.0 305.0,88.0 305.0,93.0 297.5,93.0 297.5,97.0 294.0,97.0 294.0,101.0 287.5,101.0 287.5,110.3 294.2,110.3 294.2,104.8 311.7,104.8 311.7,121.2 306.2,121.2 306.2,148.5 307.3,148.5 307.3,155.0 300.7,155.0 300.7,160.5 296.4,160.5 296.4,166.0 294.2,166.0 294.2,172.4 290.4,172.4 290.4,185.3 288.7,185.3 288.7,217.3 286.5,217.3 286.5,221.0 284.0,222.6 241.7,222.6 241.7,227.2 216.0,227.2 216.0,231.3 212.0,231.3 212.0,234.6 209.6,234.6 209.6,236.2 204.7,236.2 204.7,239.4 199.9,239.4 199.9,242.7 196.6,242.7 196.6,245.9 195.8,245.9 195.8,249.1 193.4,249.1 193.4,254.0 191.0,254.0 191.0,257.2 188.5,257.2 188.5,260.5 186.9,260.5 186.9,263.7 183.7,263.7 183.7,266.9 181.3,266.9 181.3,270.2 178.8,270.2 178.8,273.4 176.4,273.4 176.4,278.3 174.8,278.3 174.8,281.5 172.4,281.5 172.4,283.9 169.9,283.9 169.9,286.3 165.9,286.3 165.9,289.6 162.7,289.6 162.7,294.4 159.4,294.4 159.4,297.7 157.0,297.7 157.0,300.9 154.6,300.9 154.6,304.1 149.7,304.1 149.7,306.0 148.8,306.0 148.8,327.9 145.8,332.2 151.7,341.0 151.7,358.5 148.8,365.7 145.8,373.0 141.5,380.3 137.4,389.0 137.4,429.8 141.5,435.6 141.5,449.0 139.0,449.0 139.0,454.0 135.0,454.0 135.0,458.0 130.0,458.0 130.0,462.0 127.0,462.0 127.0,466.0 123.0,466.0" fill="#fff"/>
<g fill="none" stroke="#000" stroke-width="1"><polyline points="159.4,281.5 154.6,291.2 152.1,297.7 149.7,302.5 144.9,304.1 143.2,310.6 145.8,322.0 147.3,329.3 142.9,333.7 144.4,339.5 147.3,343.9 147.3,359.9 144.4,371.6 140.0,383.2 137.1,390.5 138.6,394.9 135.7,400.7 137.1,412.3 135.7,418.2 137.1,426.9 138.6,432.7 138.0,444.4 132.7,451.7 128.4,456.0 124.0,459.0"/><polyline points="124.0,402.1 137.1,400.7"/><polyline points="190.3,188.8 198.8,190.3 206.3,192.5 210.4,196.3 204.4,199.6 200.3,204.7 201.0,212.2 206.3,216.9 215.6,219.7 214.7,224.8 206.3,228.5 197.8,231.5 191.6,234.1 193.5,240.5 200.6,237.1 208.1,232.8 214.7,229.6 225.0,225.9 236.3,224.4 251.3,223.4 267.1,222.1 278.5,219.2 284.2,213.5 285.1,200.0 286.8,190.1 287.9,181.0 289.1,172.0 291.9,164.6 285.7,160.6 283.4,155.5 284.0,154.4 289.1,152.7 289.1,144.7 287.9,136.8 284.0,130.0 282.8,126.7 275.6,121.0 264.2,116.7 253.4,115.5 243.7,117.8 237.3,117.1 227.6,120.3 221.1,124.6 208.1,128.4 195.2,133.3 190.3,139.8 182.3,142.0 170.9,135.6 162.8,141.4 166.1,146.2 162.8,149.5 148.3,151.1 136.9,149.5 124.0,144.6"/><polyline points="190.3,188.8 182.0,193.4 177.7,199.0 177.2,205.6 181.0,213.0 185.6,218.7 187.1,225.3 184.7,230.0 176.2,233.4 170.3,236.0 167.8,241.3 165.9,249.1 169.1,250.7 174.0,248.3 180.5,240.2 185.3,239.4 188.5,241.0 191.8,244.3 193.4,247.5"/><polyline points="183.7,257.2 169.1,262.9 162.7,265.3 159.4,271.8 159.4,281.5 165.9,276.6 177.2,268.5 183.7,258.0"/><polyline points="354.8,54.6 347.7,59.2 337.4,66.3 325.7,73.4 317.9,78.0 312.7,81.2 302.4,86.4 295.3,91.6 289.4,98.0 281.7,107.1 279.7,109.7 283.0,113.6 286.2,114.9 290.1,111.6 295.9,113.6 300.4,112.3 301.7,114.9 301.1,122.7 300.4,134.0 300.0,139.0"/><polyline points="345.0,54.6 335.0,62.0 322.0,70.5 310.0,78.0 300.0,83.5 292.0,89.0 286.0,95.0"/><polyline points="285.6,54.0 282.8,71.0 280.0,91.0 281.4,96.7 297.0,95.3 299.9,85.3 295.6,71.0 294.2,54.0"/><polyline points="326.0,54.0 328.0,57.0 330.0,60.0 325.0,65.0 323.0,61.5 318.0,61.0 311.0,64.0 310.0,71.0 316.0,76.0 315.0,78.0"/><polyline points="301.5,130.0 299.8,139.0 295.9,151.5 292.5,153.2"/></g>
<path d="M364.7 54.3L383.5 44.5M378.9 44.6L383.5 44.5L380.8 48.3M378.8 54.3L399.3 44.8M394.7 44.6L399.3 44.8L396.4 48.4M393.0 54.3L411.8 44.5M407.2 44.6L411.8 44.5L409.1 48.3M407.1 54.3L423.2 45.0M418.6 45.2L423.2 45.0L420.7 48.9M421.3 54.3L437.4 45.0M432.8 45.2L437.4 45.0L434.9 48.9M435.4 54.3L452.6 44.4M448.0 44.6L452.6 44.4L450.1 48.3M449.6 54.3L466.7 44.4M462.1 44.6L466.7 44.4L464.2 48.3M463.7 54.3L482.1 43.7M477.5 43.9L482.1 43.7L479.5 47.6M477.9 54.3L498.3 44.8M493.7 44.6L498.3 44.8L495.4 48.4M492.0 54.3L513.2 46.6M508.6 46.0L513.2 46.6L510.0 50.0M506.1 54.3L526.6 48.8M522.1 47.9L526.6 48.8L523.2 51.9M520.3 54.3L538.6 51.1M534.2 49.7L538.6 51.1L534.9 53.8M534.4 54.3L551.8 55.8M547.8 53.4L551.8 55.8L547.5 57.5M548.6 54.3L563.9 59.9M560.7 56.5L563.9 59.9L559.3 60.4M562.7 54.3L577.0 59.5M573.8 56.1L577.0 59.5L572.4 60.0M576.9 54.3L592.2 59.9M589.0 56.5L592.2 59.9L587.6 60.4M591.0 54.3L607.4 60.2M604.2 56.9L607.4 60.2L602.8 60.8M605.2 54.3L620.5 59.9M617.3 56.5L620.5 59.9L615.9 60.4M619.3 54.3L633.7 58.9M630.5 55.6L633.7 58.9L629.2 59.6M633.5 54.3L648.1 58.2M644.7 55.1L648.1 58.2L643.6 59.2M647.6 54.3L662.2 58.2M658.8 55.1L662.2 58.2L657.7 59.2M661.7 54.3L676.4 58.2M673.0 55.1L676.4 58.2L671.9 59.2M336.4 71.3L354.0 62.1M349.4 62.1L354.0 62.1L351.4 65.8M350.5 71.3L371.4 61.6M366.8 61.4L371.4 61.6L368.5 65.2M364.7 71.3L389.2 62.3M384.6 61.8L389.2 62.3L386.1 65.7M378.8 71.3L403.9 64.6M399.4 63.6L403.9 64.6L400.5 67.6M393.0 71.3L414.2 61.9M409.6 61.7L414.2 61.9L411.3 65.5M407.1 71.3L423.9 60.6M419.3 61.0L423.9 60.6L421.6 64.5M421.3 71.3L437.5 61.0M432.9 61.4L437.5 61.0L435.1 64.9M435.4 71.3L452.7 60.3M448.1 60.7L452.7 60.3L450.4 64.2M449.6 71.3L467.7 60.3M463.1 60.6L467.7 60.3L465.3 64.2M463.7 71.3L482.1 60.7M477.5 60.9L482.1 60.7L479.5 64.5M477.9 71.3L496.7 63.0M492.1 62.7L496.7 63.0L493.8 66.5M492.0 71.3L511.1 65.3M506.6 64.5L511.1 65.3L507.8 68.5M506.1 71.3L524.6 68.0M520.2 66.7L524.6 68.0L521.0 70.8M520.3 71.3L537.2 70.5M533.0 68.6L537.2 70.5L533.2 72.8M534.4 71.3L550.5 73.8M546.8 71.1L550.5 73.8L546.1 75.2M548.6 71.3L563.3 76.7M560.2 73.3L563.3 76.7L558.8 77.2M562.7 71.3L576.8 76.8M573.8 73.3L576.8 76.8L572.3 77.2M576.9 71.3L591.4 77.3M588.4 73.8L591.4 77.3L586.8 77.7M591.0 71.3L606.2 77.2M603.1 73.7L606.2 77.2L601.6 77.6M605.2 71.3L619.9 76.7M616.8 73.3L619.9 76.7L615.4 77.2M619.3 71.3L632.2 75.0M628.9 71.9L632.2 75.0L627.7 75.9M633.5 71.3L644.9 73.8M641.3 70.9L644.9 73.8L640.4 75.0M647.6 71.3L659.0 73.8M655.5 70.9L659.0 73.8L654.6 75.0M661.7 71.3L674.9 74.2M671.3 71.3L674.9 74.2L670.4 75.3M308.1 88.3L321.2 80.7M316.6 80.9L321.2 80.7L318.7 84.5M322.2 88.3L338.7 78.8M334.1 79.0L338.7 78.8L336.2 82.6M336.4 88.3L359.9 77.3M355.3 77.1L359.9 77.3L357.1 80.9M350.5 88.3L379.3 77.8M374.7 77.2L379.3 77.8L376.1 81.2M364.7 88.3L395.8 81.4M391.4 80.2L395.8 81.4L392.3 84.3M378.8 88.3L409.3 85.6M405.0 83.9L409.3 85.6L405.4 88.0M393.0 88.3L417.4 79.4M412.8 78.8L417.4 79.4L414.2 82.7M407.1 88.3L424.5 76.1M419.9 76.7L424.5 76.1L422.3 80.2M421.3 88.3L438.1 76.5M433.5 77.1L438.1 76.5L435.9 80.6M435.4 88.3L453.3 75.7M448.8 76.4L453.3 75.7L451.2 79.8M449.6 88.3L468.0 76.5M463.4 77.0L468.0 76.5L465.7 80.5M463.7 88.3L480.9 78.3M476.4 78.5L480.9 78.3L478.4 82.2M477.9 88.3L494.0 81.6M489.4 81.2L494.0 81.6L491.0 85.1M492.0 88.3L507.7 84.0M503.2 83.1L507.7 84.0L504.3 87.1M506.1 88.3L521.8 86.9M517.5 85.2L521.8 86.9L517.9 89.3M520.3 88.3L535.4 89.6M531.5 87.1L535.4 89.6L531.1 91.3M534.4 88.3L549.2 91.5M545.7 88.6L549.2 91.5L544.8 92.7M548.6 88.3L562.8 93.4M559.7 90.1L562.8 93.4L558.2 94.0M562.7 88.3L576.7 94.1M573.7 90.6L576.7 94.1L572.1 94.4M576.9 88.3L590.6 94.7M587.8 91.0L590.6 94.7L586.0 94.8M591.0 88.3L605.0 94.1M602.0 90.6L605.0 94.1L600.4 94.4M605.2 88.3L619.9 93.6M616.8 90.3L619.9 93.6L615.4 94.2M619.3 88.3L632.9 91.9M629.5 88.8L632.9 91.9L628.4 92.9M633.5 88.3L645.0 90.3M641.3 87.5L645.0 90.3L640.6 91.6M647.6 88.3L659.1 90.3M655.4 87.5L659.1 90.3L654.7 91.6M661.7 88.3L675.0 90.6M671.3 87.8L675.0 90.6L670.6 91.9M294.0 105.2L288.1 105.2M292.2 107.3L288.1 105.2L292.2 103.2M308.1 105.2L311.0 100.2M307.1 102.7L311.0 100.2L310.8 104.8M322.2 105.2L345.4 97.9M340.9 97.2L345.4 97.9L342.1 101.2M336.4 105.2L366.5 96.7M362.0 95.8L366.5 96.7L363.2 99.9M350.5 105.2L384.6 96.7M380.1 95.7L384.6 96.7L381.1 99.8M364.7 105.2L400.1 100.6M395.7 99.1L400.1 100.6L396.3 103.2M378.8 105.2L412.6 104.6M408.5 102.6L412.6 104.6L408.6 106.8M393.0 105.2L420.1 98.4M415.6 97.4L420.1 98.4L416.6 101.4M407.1 105.2L426.5 95.1M421.9 95.2L426.5 95.1L423.8 98.9M421.3 105.2L439.0 95.0M434.4 95.2L439.0 95.0L436.5 98.8M435.4 105.2L453.3 93.9M448.7 94.3L453.3 93.9L450.9 97.8M449.6 105.2L466.8 95.3M462.2 95.5L466.8 95.3L464.3 99.1M463.7 105.2L479.2 97.2M474.6 97.2L479.2 97.2L476.5 100.9M477.9 105.2L492.8 100.5M488.3 99.7L492.8 100.5L489.5 103.7M492.0 105.2L505.3 103.5M501.0 101.9L505.3 103.5L501.5 106.1M506.1 105.2L517.8 105.0M513.7 103.0L517.8 105.0L513.8 107.2M520.3 105.2L531.9 106.3M528.0 103.8L531.9 106.3L527.7 108.0M534.4 105.2L546.0 106.8M542.2 104.2L546.0 106.8L541.7 108.3M548.6 105.2L562.2 108.9M558.7 105.8L562.2 108.9L557.7 109.8M562.7 105.2L577.9 109.3M574.5 106.2L577.9 109.3L573.4 110.3M576.9 105.2L591.8 107.9M588.1 105.1L591.8 107.9L587.4 109.2M591.0 105.2L605.2 100.1M600.7 99.5L605.2 100.1L602.1 103.4M605.2 105.2L619.4 98.6M614.8 98.4L619.4 98.6L616.6 102.2M619.3 105.2L633.5 98.6M628.9 98.4L633.5 98.6L630.7 102.2M633.5 105.2L649.2 105.2M645.1 103.2L649.2 105.2L645.1 107.3M647.6 105.2L663.9 105.2M659.8 103.2L663.9 105.2L659.8 107.3M661.7 105.2L678.0 105.2M673.9 103.2L678.0 105.2L673.9 107.3M308.1 122.2L329.2 127.9M325.8 124.8L329.2 127.9L324.7 128.8M322.2 122.2L345.7 120.2M341.4 118.4L345.7 120.2L341.8 122.6M336.4 122.2L369.4 118.5M365.1 116.8L369.4 118.5L365.6 121.0M350.5 122.2L387.8 117.0M383.5 115.5L387.8 117.0L384.0 119.6M364.7 122.2L402.3 120.6M398.1 118.7L402.3 120.6L398.3 122.8M378.8 122.2L413.9 124.1M409.9 121.8L413.9 124.1L409.7 125.9M393.0 122.2L423.2 117.7M418.8 116.2L423.2 117.7L419.5 120.4M407.1 122.2L429.2 114.2M424.6 113.6L429.2 114.2L426.0 117.6M421.3 122.2L438.1 114.4M433.5 114.2L438.1 114.4L435.3 118.0M435.4 122.2L451.5 112.9M446.9 113.2L451.5 112.9L449.0 116.8M449.6 122.2L465.0 114.2M460.4 114.2L465.0 114.2L462.4 117.9M463.7 122.2L477.9 115.6M473.3 115.4L477.9 115.6L475.1 119.2M477.9 122.2L491.0 119.3M486.5 118.2L491.0 119.3L487.4 122.2M492.0 122.2L501.8 122.2M497.7 120.1L501.8 122.2L497.7 124.3M506.1 122.2L514.0 122.6M510.0 120.3L514.0 122.6L509.8 124.5M520.3 122.2L528.1 122.9M524.2 120.5L528.1 122.9L523.8 124.6M534.4 122.2L542.3 122.6M538.3 120.3L542.3 122.6L538.1 124.5M548.6 122.2L560.9 122.2M556.8 120.1L560.9 122.2L556.8 124.3M562.7 122.2L578.4 120.9M574.1 119.1L578.4 120.9L574.5 123.3M576.9 122.2L590.1 119.9M585.7 118.5L590.1 119.9L586.4 122.7M591.0 122.2L602.4 119.7M598.0 118.5L602.4 119.7L598.9 122.6M605.2 122.2L618.2 118.7M613.7 117.8L618.2 118.7L614.7 121.8M619.3 122.2L634.3 120.2M630.0 118.7L634.3 120.2L630.5 122.8M633.5 122.2L649.2 122.2M645.1 120.1L649.2 122.2L645.1 124.3M647.6 122.2L663.9 122.9M659.9 120.7L663.9 122.9L659.7 124.8M661.7 122.2L678.0 123.6M674.1 121.2L678.0 123.6L673.7 125.4M308.1 139.2L293.1 131.2M295.8 135.0L293.1 131.2L297.7 131.3M322.2 139.2L344.9 134.4M340.4 133.2L344.9 134.4L341.3 137.3M336.4 139.2L370.3 132.9M365.9 131.6L370.3 132.9L366.7 135.7M350.5 139.2L387.2 133.4M382.8 132.0L387.2 133.4L383.4 136.1M364.7 139.2L400.5 137.6M396.3 135.7L400.5 137.6L396.5 139.9M378.8 139.2L412.6 141.6M408.6 139.2L412.6 141.6L408.3 143.4M393.0 139.2L424.7 136.2M420.5 134.5L424.7 136.2L420.9 138.6M407.1 139.2L430.7 132.9M426.2 131.9L430.7 132.9L427.3 136.0M421.3 139.2L437.7 133.6M433.2 133.0L437.7 133.6L434.5 136.9M435.4 139.2L451.0 132.8M446.4 132.4L451.0 132.8L448.0 136.3M449.6 139.2L464.5 134.5M460.0 133.7L464.5 134.5L461.3 137.7M463.7 139.2L476.8 136.3M472.4 135.1L476.8 136.3L473.3 139.2M477.9 139.2L487.6 138.4M483.4 136.6L487.6 138.4L483.7 140.8M492.0 139.2L499.8 139.5M495.8 137.3L499.8 139.5L495.6 141.4M506.1 139.2L514.0 139.9M510.1 137.4L514.0 139.9L509.7 141.6M520.3 139.2L528.1 140.2M524.3 137.6L528.1 140.2L523.7 141.8M534.4 139.2L542.3 139.5M538.3 137.3L542.3 139.5L538.1 141.4M548.6 139.2L560.3 138.7M556.1 136.8L560.3 138.7L556.3 141.0M562.7 139.2L577.8 137.9M573.5 136.2L577.8 137.9L573.9 140.3M576.9 139.2L590.2 137.4M585.9 135.9L590.2 137.4L586.4 140.0M591.0 139.2L600.7 137.7M596.4 136.3L600.7 137.7L597.0 140.4M605.2 139.2L614.8 137.5M610.4 136.1L614.8 137.5L611.2 140.3M619.3 139.2L631.0 138.2M626.7 136.5L631.0 138.2L627.1 140.6M633.5 139.2L646.9 139.2M642.8 137.1L646.9 139.2L642.8 141.3M647.6 139.2L662.7 139.5M658.7 137.4L662.7 139.5L658.6 141.5M661.7 139.2L676.9 139.9M672.9 137.6L676.9 139.9L672.7 141.8M308.1 156.2L322.9 144.0M318.4 145.0L322.9 144.0L321.1 148.2M322.2 156.2L355.4 144.8M350.8 144.1L355.4 144.8L352.2 148.1M336.4 156.2L375.5 146.1M371.1 145.1L375.5 146.1L372.1 149.1M350.5 156.2L388.3 149.5M383.9 148.2L388.3 149.5L384.7 152.3M364.7 156.2L399.8 154.6M395.6 152.7L399.8 154.6L395.7 156.9M378.8 156.2L411.8 159.1M407.9 156.6L411.8 159.1L407.5 160.8M393.0 156.2L424.9 154.8M420.7 152.9L424.9 154.8L420.9 157.1M407.1 156.2L431.1 151.9M426.7 150.6L431.1 151.9L427.5 154.7M421.3 156.2L437.7 152.5M433.2 151.4L437.7 152.5L434.1 155.5M435.4 156.2L450.6 152.1M446.1 151.2L450.6 152.1L447.2 155.2M449.6 156.2L462.9 154.4M458.6 152.9L462.9 154.4L459.1 157.0M463.7 156.2L473.5 156.2M469.4 154.1L473.5 156.2L469.4 158.3M477.9 156.2L485.7 156.5M481.7 154.3L485.7 156.5L481.5 158.4M492.0 156.2L499.8 156.9M495.9 154.4L499.8 156.9L495.5 158.6M506.1 156.2L513.9 157.2M510.1 154.6L513.9 157.2L509.6 158.7M520.3 156.2L528.0 157.5M524.3 154.8L528.0 157.5L523.6 158.9M534.4 156.2L542.3 156.5M538.3 154.3L542.3 156.5L538.1 158.4M548.6 156.2L558.1 158.7M554.7 155.6L558.1 158.7L553.6 159.7M562.7 156.2L575.7 159.7M572.3 156.6L575.7 159.7L571.2 160.6M576.9 156.2L591.5 160.1M588.1 157.0L591.5 160.1L587.0 161.1M591.0 156.2L604.3 158.5M600.6 155.7L604.3 158.5L599.9 159.9M605.2 156.2L616.8 155.2M612.5 153.4L616.8 155.2L612.9 157.6M619.3 156.2L631.6 155.6M627.4 153.7L631.6 155.6L627.6 157.9M633.5 156.2L647.5 156.2M643.4 154.1L647.5 156.2L643.4 158.3M647.6 156.2L662.7 156.2M658.6 154.1L662.7 156.2L658.6 158.3M661.7 156.2L676.9 156.2M672.8 154.1L676.9 156.2L672.8 158.3M294.0 173.2L303.8 161.2M299.6 163.0L303.8 161.2L302.8 165.7M308.1 173.2L331.3 155.4M326.8 156.2L331.3 155.4L329.4 159.5M322.2 173.2L360.5 155.7M355.9 155.5L360.5 155.7L357.7 159.3M336.4 173.2L375.1 160.2M370.6 159.5L375.1 160.2L371.9 163.5M350.5 173.2L386.1 165.3M381.7 164.1L386.1 165.3L382.6 168.2M364.7 173.2L397.2 172.4M393.0 170.4L397.2 172.4L393.1 174.6M378.8 173.2L408.2 178.3M404.5 175.6L408.2 178.3L403.8 179.7M393.0 173.2L420.7 176.8M416.9 174.2L420.7 176.8L416.4 178.4M407.1 173.2L429.3 175.1M425.4 172.7L429.3 175.1L425.0 176.8M421.3 173.2L437.1 176.8M433.6 173.8L437.1 176.8L432.7 177.9M435.4 173.2L447.8 178.3M444.9 174.8L447.8 178.3L443.3 178.7M449.6 173.2L458.2 177.9M455.6 174.1L458.2 177.9L453.6 177.8M463.7 173.2L470.1 177.7M468.0 173.6L470.1 177.7L465.6 177.0M477.9 173.2L485.7 173.8M481.8 171.4L485.7 173.8L481.4 175.6M492.0 173.2L498.8 177.1M496.3 173.2L498.8 177.1L494.2 176.8M506.1 173.2L512.9 177.1M510.4 173.2L512.9 177.1L508.3 176.8M520.3 173.2L527.1 177.1M524.6 173.2L527.1 177.1L522.5 176.8M534.4 173.2L541.2 177.1M538.7 173.2L541.2 177.1L536.6 176.8M548.6 173.2L557.1 178.1M554.6 174.2L557.1 178.1L552.5 177.8M562.7 173.2L574.9 178.8M572.1 175.2L574.9 178.8L570.3 179.0M576.9 173.2L592.0 169.1M587.5 168.1L592.0 169.1L588.6 172.2M591.0 173.2L606.3 167.6M601.7 167.0L606.3 167.6L603.2 171.0M605.2 173.2L620.5 167.6M615.9 167.0L620.5 167.6L617.3 171.0M619.3 173.2L634.6 167.6M630.0 167.0L634.6 167.6L631.5 171.0M633.5 173.2L648.9 175.9M645.3 173.1L648.9 175.9L644.5 177.2M647.6 173.2L662.5 175.8M658.8 173.0L662.5 175.8L658.1 177.1M661.7 173.2L675.0 175.5M671.3 172.7L675.0 175.5L670.6 176.8M294.0 190.1L318.7 168.6M314.2 169.7L318.7 168.6L317.0 172.9M308.1 190.1L340.7 166.9M336.1 167.6L340.7 166.9L338.6 171.0M322.2 190.1L360.4 168.1M355.8 168.4L360.4 168.1L357.9 172.0M336.4 190.1L371.3 175.7M366.7 175.3L371.3 175.7L368.3 179.2M350.5 190.1L380.1 182.2M375.6 181.3L380.1 182.2L376.6 185.3M364.7 190.1L392.5 190.1M388.4 188.1L392.5 190.1L388.4 192.2M378.8 190.1L403.1 196.7M399.7 193.6L403.1 196.7L398.6 197.6M393.0 190.1L414.5 196.9M411.2 193.7L414.5 196.9L409.9 197.7M407.1 190.1L424.8 196.6M421.6 193.2L424.8 196.6L420.2 197.1M421.3 190.1L432.0 199.2M430.2 194.9L432.0 199.2L427.5 198.1M435.4 190.1L440.3 198.7M440.1 194.1L440.3 198.7L436.5 196.2M449.6 190.1L452.9 197.2M453.0 192.6L452.9 197.2L449.2 194.4M463.7 190.1L466.4 197.5M466.9 192.9L466.4 197.5L463.0 194.4M477.9 190.1L485.6 191.5M481.9 188.7L485.6 191.5L481.2 192.8M492.0 190.1L497.0 184.1M492.8 185.9L497.0 184.1L496.0 188.6M506.1 190.1L513.4 183.5M509.0 184.7L513.4 183.5L511.8 187.8M520.3 190.1L529.9 183.4M525.3 184.1L529.9 183.4L527.7 187.5M534.4 190.1L544.0 183.4M539.5 184.1L544.0 183.4L541.9 187.5M548.6 190.1L559.6 182.4M555.0 183.1L559.6 182.4L557.4 186.5M562.7 190.1L575.5 182.0M570.9 182.4L575.5 182.0L573.2 186.0M576.9 190.1L590.5 182.3M585.9 182.5L590.5 182.3L588.0 186.1M591.0 190.1L605.1 182.0M600.5 182.2L605.1 182.0L602.6 185.9M605.2 190.1L619.3 182.0M614.7 182.2L619.3 182.0L616.8 185.9M619.3 190.1L634.9 192.2M631.1 189.6L634.9 192.2L630.5 193.7M633.5 190.1L644.2 200.8M642.7 196.5L644.2 200.8L639.8 199.4M647.6 190.1L655.7 202.9M655.3 198.3L655.7 202.9L651.8 200.6M661.7 190.1L666.3 202.8M666.9 198.2L666.3 202.8L663.0 199.6M294.0 207.1L331.9 184.8M327.3 185.1L331.9 184.8L329.4 188.7M308.1 207.1L347.1 186.6M342.5 186.7L347.1 186.6L344.4 190.4M322.2 207.1L358.9 190.0M354.3 189.9L358.9 190.0L356.0 193.7M336.4 207.1L369.2 207.1M365.1 205.0L369.2 207.1L365.1 209.2M350.5 207.1L376.3 216.0M373.1 212.7L376.3 216.0L371.7 216.6M364.7 207.1L386.8 220.4M384.4 216.5L386.8 220.4L382.2 220.1M378.8 207.1L400.1 218.0M397.4 214.2L400.1 218.0L395.5 218.0M393.0 207.1L408.8 220.4M407.0 216.1L408.8 220.4L404.3 219.3M407.1 207.1L413.7 222.7M414.0 218.1L413.7 222.7L410.2 219.7M421.3 207.1L424.3 220.2M425.4 215.8L424.3 220.2L421.3 216.7M435.4 207.1L436.4 216.9M438.1 212.6L436.4 216.9L433.9 213.0M449.6 207.1L450.2 214.9M452.0 210.7L450.2 214.9L447.8 211.0M463.7 207.1L463.7 215.0M465.8 210.9L463.7 215.0L461.6 210.9M477.9 207.1L477.9 199.3M475.8 203.4L477.9 199.3L479.9 203.4M492.0 207.1L495.9 200.3M492.1 202.8L495.9 200.3L495.7 204.9M506.1 207.1L511.1 198.6M507.2 201.1L511.1 198.6L510.8 203.2M520.3 207.1L526.1 197.0M522.3 199.5L526.1 197.0L525.9 201.6M534.4 207.1L540.3 197.0M536.4 199.5L540.3 197.0L540.0 201.6M548.6 207.1L544.6 196.1M544.0 200.7L544.6 196.1L547.9 199.3M562.7 207.1L558.7 196.1M558.2 200.7L558.7 196.1L562.1 199.3M576.9 207.1L572.9 196.1M572.3 200.7L572.9 196.1L576.2 199.3M591.0 207.1L587.0 196.1M586.5 200.7L587.0 196.1L590.4 199.3M605.2 207.1L596.9 215.4M601.3 214.0L596.9 215.4L598.3 211.0M619.3 207.1L611.0 215.4M615.4 214.0L611.0 215.4L612.5 211.0M633.5 207.1L625.2 215.4M629.6 214.0L625.2 215.4L626.6 211.0M647.6 207.1L638.1 216.6M642.5 215.2L638.1 216.6L639.5 212.3M661.7 207.1L661.7 191.4M659.7 195.5L661.7 191.4L663.8 195.5M251.5 224.1L279.9 213.8M275.4 213.2L279.9 213.8L276.8 217.1M265.7 224.1L298.4 210.9M293.8 210.5L298.4 210.9L295.4 214.4M279.8 224.1L315.1 207.6M310.5 207.5L315.1 207.6L312.3 211.3M294.0 224.1L329.4 211.2M324.9 210.6L329.4 211.2L326.3 214.6M308.1 224.1L339.9 212.5M335.4 212.0L339.9 212.5L336.8 215.9M322.2 224.1L348.5 214.5M344.0 214.0L348.5 214.5L345.4 217.9M336.4 224.1L360.1 227.0M356.3 224.4L360.1 227.0L355.7 228.6M350.5 224.1L370.3 237.4M368.1 233.4L370.3 237.4L365.7 236.9M364.7 224.1L384.2 237.8M382.1 233.7L384.2 237.8L379.7 237.1M378.8 224.1L398.1 237.1M395.8 233.1L398.1 237.1L393.5 236.5M393.0 224.1L406.9 238.5M405.5 234.1L406.9 238.5L402.5 237.0M407.1 224.1L412.1 237.9M412.7 233.3L412.1 237.9L408.8 234.7M421.3 224.1L424.3 237.2M425.4 232.7L424.3 237.2L421.3 233.7M435.4 224.1L437.0 235.7M438.5 231.3L437.0 235.7L434.4 231.9M449.6 224.1L450.0 231.9M451.8 227.7L450.0 231.9L447.7 227.9M463.7 224.1L458.2 229.6M462.5 228.2L458.2 229.6L459.6 225.3M477.9 224.1L470.0 224.1M474.1 226.2L470.0 224.1L474.1 222.0M492.0 224.1L484.6 221.4M487.8 224.8L484.6 221.4L489.2 220.9M506.1 224.1L498.8 221.4M501.9 224.8L498.8 221.4L503.3 220.9M520.3 224.1L512.9 221.4M516.1 224.8L512.9 221.4L517.5 220.9M534.4 224.1L526.7 222.7M530.4 225.5L526.7 222.7L531.1 221.4M548.6 224.1L538.7 224.1M542.8 226.2L538.7 224.1L542.8 222.0M562.7 224.1L550.4 223.6M554.4 225.8L550.4 223.6L554.6 221.7M576.9 224.1L564.0 223.0M567.9 225.4L564.0 223.0L568.3 221.2M591.0 224.1L578.1 223.0M582.0 225.4L578.1 223.0L582.4 221.2M605.2 224.1L592.3 223.0M596.2 225.4L592.3 223.0L596.5 221.2M619.3 224.1L607.6 220.4M610.8 223.6L607.6 220.4L612.1 219.6M633.5 224.1L623.3 218.3M625.8 222.1L623.3 218.3L627.9 218.5M647.6 224.1L639.5 212.6M640.2 217.1L639.5 212.6L643.6 214.8M661.7 224.1L658.7 206.9M657.4 211.3L658.7 206.9L661.5 210.6M209.1 241.1L229.0 224.4M224.5 225.4L229.0 224.4L227.2 228.6M223.2 241.1L246.8 230.6M242.2 230.3L246.8 230.6L243.9 234.2M237.4 241.1L262.2 234.0M257.6 233.1L262.2 234.0L258.8 237.1M251.5 241.1L275.6 231.4M271.0 231.0L275.6 231.4L272.6 234.8M265.7 241.1L292.9 230.1M288.3 229.7L292.9 230.1L289.9 233.6M279.8 241.1L306.4 226.9M301.8 227.0L306.4 226.9L303.8 230.7M294.0 241.1L316.7 229.5M312.1 229.5L316.7 229.5L314.0 233.2M308.1 241.1L327.8 232.7M323.2 232.4L327.8 232.7L324.8 236.2M322.2 241.1L339.9 233.2M335.3 233.0L339.9 233.2L337.0 236.8M336.4 241.1L356.3 246.4M352.9 243.3L356.3 246.4L351.8 247.4M350.5 241.1L370.1 252.3M367.5 248.5L370.1 252.3L365.5 252.1M364.7 241.1L382.7 254.6M380.7 250.5L382.7 254.6L378.2 253.8M378.8 241.1L395.8 255.9M394.1 251.6L395.8 255.9L391.4 254.8M393.0 241.1L404.7 256.6M403.9 252.1L404.7 256.6L400.6 254.6M407.1 241.1L410.1 253.0M411.1 248.5L410.1 253.0L407.1 249.6M421.3 241.1L424.5 252.3M425.4 247.8L424.5 252.3L421.4 249.0M435.4 241.1L438.2 252.4M439.3 247.9L438.2 252.4L435.2 249.0M449.6 241.1L450.2 248.9M452.0 244.6L450.2 248.9L447.8 245.0M463.7 241.1L456.3 243.8M460.9 244.3L456.3 243.8L459.5 240.4M477.9 241.1L470.1 242.4M474.5 243.8L470.1 242.4L473.8 239.7M492.0 241.1L487.8 247.7M491.7 245.4L487.8 247.7L488.2 243.1M506.1 241.1L498.3 241.2M502.4 243.2L498.3 241.2L502.4 239.0M520.3 241.1L512.6 239.7M516.2 242.5L512.6 239.7L517.0 238.4M534.4 241.1L526.7 242.1M531.0 243.7L526.7 242.1L530.4 239.5M548.6 241.1L537.7 246.8M542.3 246.7L537.7 246.8L540.3 243.0M562.7 241.1L547.3 247.8M551.9 248.1L547.3 247.8L550.2 244.3M576.9 241.1L560.5 247.0M565.1 247.6L560.5 247.0L563.7 243.7M591.0 241.1L573.5 245.3M578.0 246.4L573.5 245.3L577.0 242.3M605.2 241.1L587.3 243.4M591.7 245.0L587.3 243.4L591.1 240.8M619.3 241.1L604.3 234.9M607.3 238.4L604.3 234.9L608.9 234.5M633.5 241.1L624.4 228.2M625.1 232.8L624.4 228.2L628.5 230.4M647.6 241.1L642.4 225.1M641.7 229.6L642.4 225.1L645.7 228.3M661.7 241.1L660.9 222.5M659.0 226.7L660.9 222.5L663.2 226.5M194.9 258.1L215.0 241.8M210.5 242.8L215.0 241.8L213.1 246.0M209.1 258.1L230.4 244.7M225.8 245.1L230.4 244.7L228.0 248.7M223.2 258.1L244.3 246.9M239.7 246.9L244.3 246.9L241.6 250.6M237.4 258.1L258.4 250.0M253.8 249.5L258.4 250.0L255.3 253.4M251.5 258.1L271.4 250.8M266.9 250.3L271.4 250.8L268.3 254.2M265.7 258.1L286.1 250.2M281.5 249.7L286.1 250.2L283.0 253.6M279.8 258.1L299.0 250.7M294.5 250.2L299.0 250.7L296.0 254.1M294.0 258.1L312.0 258.1M307.9 256.0L312.0 258.1L307.9 260.1M308.1 258.1L325.5 258.1M321.4 256.0L325.5 258.1L321.4 260.1M322.2 258.1L339.6 259.0M335.6 256.7L339.6 259.0L335.4 260.8M336.4 258.1L353.9 263.1M350.5 259.9L353.9 263.1L349.4 263.9M350.5 258.1L367.3 267.0M364.6 263.2L367.3 267.0L362.7 266.9M364.7 258.1L381.9 267.2M379.3 263.4L381.9 267.2L377.3 267.1M378.8 258.1L394.2 270.9M392.4 266.7L394.2 270.9L389.7 269.9M393.0 258.1L403.1 272.5M402.5 268.0L403.1 272.5L399.0 270.3M407.1 258.1L410.7 269.2M411.5 264.6L410.7 269.2L407.5 265.9M421.3 258.1L424.1 267.5M424.9 262.9L424.1 267.5L420.9 264.2M435.4 258.1L442.4 265.0M440.9 260.6L442.4 265.0L438.0 263.6M449.6 258.1L456.9 260.7M453.8 257.4L456.9 260.7L452.4 261.3M463.7 258.1L471.4 259.4M467.8 256.7L471.4 259.4L467.0 260.8M477.9 258.1L485.7 258.1M481.6 256.0L485.7 258.1L481.6 260.1M492.0 258.1L497.5 263.6M496.1 259.2L497.5 263.6L493.2 262.2M506.1 258.1L503.1 265.3M506.6 262.3L503.1 265.3L502.8 260.7M520.3 258.1L512.4 258.1M516.5 260.1L512.4 258.1L516.5 256.0M534.4 258.1L527.5 261.7M532.1 261.6L527.5 261.7L530.2 257.9M548.6 258.1L541.2 268.7M545.2 266.5L541.2 268.7L541.8 264.1M562.7 258.1L551.6 271.4M555.8 269.6L551.6 271.4L552.6 266.9M576.9 258.1L564.6 270.4M569.0 268.9L564.6 270.4L566.0 266.0M591.0 258.1L576.3 267.4M580.9 267.0L576.3 267.4L578.6 263.5M605.2 258.1L590.8 263.3M595.4 263.9L590.8 263.3L593.9 259.9M619.3 258.1L607.1 251.0M609.6 254.9L607.1 251.0L611.7 251.3M633.5 258.1L630.6 242.0M629.3 246.4L630.6 242.0L633.4 245.7M647.6 258.1L646.8 240.1M644.9 244.3L646.8 240.1L649.1 244.1M661.7 258.1L663.5 237.5M661.1 241.4L663.5 237.5L665.3 241.8M180.8 275.0L198.6 260.1M194.1 261.2L198.6 260.1L196.8 264.4M194.9 275.0L213.2 259.7M208.7 260.7L213.2 259.7L211.4 263.9M209.1 275.0L226.8 260.1M222.4 261.2L226.8 260.1L225.1 264.4M223.2 275.0L240.0 261.0M235.5 262.0L240.0 261.0L238.2 265.2M237.4 275.0L253.1 261.9M248.6 262.9L253.1 261.9L251.3 266.1M251.5 275.0L266.8 263.3M262.2 264.2L266.8 263.3L264.8 267.5M265.7 275.0L280.7 264.1M276.2 264.8L280.7 264.1L278.6 268.2M279.8 275.0L297.2 270.4M292.7 269.4L297.2 270.4L293.8 273.5M294.0 275.0L310.4 278.5M306.8 275.6L310.4 278.5L306.0 279.7M308.1 275.0L324.4 279.1M321.0 276.1L324.4 279.1L319.9 280.1M322.2 275.0L338.7 278.5M335.1 275.6L338.7 278.5L334.3 279.7M336.4 275.0L351.6 279.1M348.1 276.0L351.6 279.1L347.1 280.1M350.5 275.0L365.4 277.7M361.8 274.9L365.4 277.7L361.0 279.0M364.7 275.0L380.2 277.8M376.5 275.0L380.2 277.8L375.8 279.1M378.8 275.0L393.2 277.6M389.6 274.8L393.2 277.6L388.8 278.9M393.0 275.0L401.7 283.7M400.3 279.4L401.7 283.7L397.3 282.3M407.1 275.0L412.6 283.2M412.1 278.6L412.6 283.2L408.6 281.0M421.3 275.0L424.8 282.0M424.8 277.4L424.8 282.0L421.1 279.3M435.4 275.0L443.3 275.0M439.2 273.0L443.3 275.0L439.2 277.1M449.6 275.0L457.3 273.7M452.9 272.3L457.3 273.7L453.6 276.4M463.7 275.0L471.5 274.4M467.2 272.6L471.5 274.4L467.6 276.8M477.9 275.0L485.6 276.4M481.9 273.6L485.6 276.4L481.2 277.7M492.0 275.0L498.2 279.8M496.2 275.7L498.2 279.8L493.7 279.0M506.1 275.0L510.5 281.6M510.0 277.0L510.5 281.6L506.5 279.3M520.3 275.0L517.3 282.3M520.8 279.3L517.3 282.3L516.9 277.7M534.4 275.0L532.8 282.7M535.7 279.1L532.8 282.7L531.6 278.3M548.6 275.0L546.9 287.9M549.5 284.1L546.9 287.9L545.4 283.5M562.7 275.0L559.2 292.7M562.1 289.1L559.2 292.7L558.0 288.3M576.9 275.0L572.2 292.4M575.3 289.0L572.2 292.4L571.3 287.9M591.0 275.0L587.7 291.0M590.6 287.4L587.7 291.0L586.5 286.5M605.2 275.0L604.1 286.7M606.6 282.8L604.1 286.7L602.4 282.4M619.3 275.0L622.2 263.7M619.1 267.2L622.2 263.7L623.2 268.2M633.5 275.0L636.4 258.4M633.6 262.1L636.4 258.4L637.7 262.8M647.6 275.0L651.6 254.8M648.8 258.4L651.6 254.8L652.9 259.3M661.7 275.0L667.1 251.1M664.1 254.7L667.1 251.1L668.2 255.6M166.6 292.0L181.4 279.6M177.0 280.6L181.4 279.6L179.6 283.8M180.8 292.0L198.0 277.5M193.6 278.6L198.0 277.5L196.3 281.8M194.9 292.0L212.7 277.1M208.2 278.1L212.7 277.1L210.9 281.3M209.1 292.0L226.3 277.5M221.9 278.6L226.3 277.5L224.5 281.8M223.2 292.0L239.5 278.4M235.0 279.4L239.5 278.4L237.7 282.6M237.4 292.0L254.0 281.2M249.4 281.7L254.0 281.2L251.7 285.2M251.5 292.0L267.9 283.3M263.3 283.4L267.9 283.3L265.3 287.1M265.7 292.0L278.9 281.7M274.4 282.5L278.9 281.7L277.0 285.8M279.8 292.0L295.2 286.7M290.6 286.1L295.2 286.7L292.0 290.0M294.0 292.0L309.7 296.0M306.3 292.9L309.7 296.0L305.3 297.0M308.1 292.0L324.1 297.2M320.9 294.0L324.1 297.2L319.6 297.9M322.2 292.0L338.3 297.2M335.0 294.0L338.3 297.2L333.7 297.9M336.4 292.0L352.0 290.7M347.8 288.9L352.0 290.7L348.1 293.1M350.5 292.0L363.2 287.4M358.6 286.9L363.2 287.4L360.0 290.8M364.7 292.0L376.4 292.0M372.3 289.9L376.4 292.0L372.3 294.1M378.8 292.0L387.7 296.2M384.9 292.6L387.7 296.2L383.1 296.3M393.0 292.0L397.4 298.5M396.8 294.0L397.4 298.5L393.3 296.3M407.1 292.0L412.2 298.0M411.1 293.5L412.2 298.0L407.9 296.2M421.3 292.0L429.1 292.7M425.2 290.3L429.1 292.7L424.8 294.4M435.4 292.0L442.8 289.3M438.2 288.8L442.8 289.3L439.6 292.7M449.6 292.0L457.1 289.7M452.5 288.9L457.1 289.7L453.7 292.9M463.7 292.0L471.5 292.0M467.4 289.9L471.5 292.0L467.4 294.1M477.9 292.0L485.6 293.1M481.8 290.5L485.6 293.1L481.3 294.6M492.0 292.0L498.8 295.9M496.3 292.1L498.8 295.9L494.2 295.7M506.1 292.0L512.4 296.8M510.4 292.6L512.4 296.8L507.8 296.0M520.3 292.0L527.2 299.0M525.8 294.6L527.2 299.0L522.9 297.6M534.4 292.0L540.7 301.9M540.3 297.3L540.7 301.9L536.8 299.5M548.6 292.0L553.6 305.8M554.1 301.2L553.6 305.8L550.2 302.6M562.7 292.0L568.3 309.8M569.1 305.2L568.3 309.8L565.1 306.5M576.9 292.0L581.8 310.6M582.8 306.1L581.8 310.6L578.8 307.2M591.0 292.0L601.6 305.9M600.8 301.3L601.6 305.9L597.5 303.9M605.2 292.0L617.3 299.0M614.8 295.2L617.3 299.0L612.7 298.8M619.3 292.0L632.9 288.4M628.4 287.4L632.9 288.4L629.5 291.5M633.5 292.0L642.8 275.7M639.0 278.3L642.8 275.7L642.6 280.3M647.6 292.0L657.7 270.4M654.1 273.2L657.7 270.4L657.8 275.0M661.7 292.0L671.3 265.9M667.9 269.0L671.3 265.9L671.8 270.4M152.5 309.0L157.7 293.1M154.4 296.4L157.7 293.1L158.4 297.7M166.6 309.0L179.5 295.6M175.2 297.1L179.5 295.6L178.2 300.0M180.8 309.0L196.2 293.5M191.9 295.0L196.2 293.5L194.8 297.9M194.9 309.0L211.7 293.0M207.3 294.3L211.7 293.0L210.2 297.3M209.1 309.0L225.7 293.8M221.3 295.0L225.7 293.8L224.1 298.1M223.2 309.0L238.5 294.3M234.1 295.7L238.5 294.3L237.0 298.7M237.4 309.0L253.8 297.9M249.2 298.5L253.8 297.9L251.6 301.9M251.5 309.0L265.3 296.5M260.9 297.7L265.3 296.5L263.7 300.8M265.7 309.0L277.2 297.5M272.8 298.9L277.2 297.5L275.7 301.9M279.8 309.0L293.5 302.6M288.9 302.4L293.5 302.6L290.7 306.2M294.0 309.0L309.5 313.8M306.2 310.6L309.5 313.8L305.0 314.6M308.1 309.0L323.6 316.9M320.9 313.2L323.6 316.9L319.0 316.9M322.2 309.0L337.6 315.8M334.7 312.3L337.6 315.8L333.0 316.1M336.4 309.0L352.0 307.1M347.7 305.5L352.0 307.1L348.2 309.7M350.5 309.0L361.8 306.0M357.3 305.0L361.8 306.0L358.4 309.1M364.7 309.0L372.5 309.0M368.4 306.9L372.5 309.0L368.4 311.1M378.8 309.0L386.5 310.4M382.9 307.6L386.5 310.4L382.1 311.7M393.0 309.0L400.7 310.4M397.0 307.6L400.7 310.4L396.3 311.7M407.1 309.0L414.8 307.6M410.4 306.3L414.8 307.6L411.2 310.4M421.3 309.0L428.8 307.0M424.3 306.0L428.8 307.0L425.4 310.0M435.4 309.0L442.9 306.6M438.3 305.9L442.9 306.6L439.6 309.8M449.6 309.0L457.3 307.9M453.0 306.4L457.3 307.9L453.6 310.5M463.7 309.0L471.5 309.4M467.5 307.1L471.5 309.4L467.3 311.3M477.9 309.0L485.7 309.7M481.8 307.2L485.7 309.7L481.4 311.4M492.0 309.0L499.4 311.6M496.2 308.2L499.4 311.6L494.9 312.2M506.1 309.0L513.2 312.4M510.4 308.7L513.2 312.4L508.6 312.5M520.3 309.0L530.1 315.3M527.8 311.3L530.1 315.3L525.6 314.8M534.4 309.0L545.8 319.1M544.1 314.8L545.8 319.1L541.3 317.9M548.6 309.0L558.8 321.6M557.9 317.1L558.8 321.6L554.6 319.8M562.7 309.0L573.9 323.1M573.0 318.6L573.9 323.1L569.7 321.2M576.9 309.0L588.6 324.2M587.7 319.7L588.6 324.2L584.4 322.3M591.0 309.0L605.6 320.5M603.7 316.3L605.6 320.5L601.1 319.6M605.2 309.0L620.4 316.1M617.6 312.5L620.4 316.1L615.8 316.3M619.3 309.0L636.6 306.6M632.3 305.1L636.6 306.6L632.8 309.2M633.5 309.0L648.6 295.1M644.2 296.3L648.6 295.1L647.0 299.4M647.6 309.0L663.3 289.3M659.1 291.2L663.3 289.3L662.4 293.9M661.7 309.0L676.4 283.7M672.5 286.2L676.4 283.7L676.1 288.3M152.5 326.0L157.5 310.5M154.3 313.8L157.5 310.5L158.2 315.0M166.6 326.0L177.6 311.7M173.4 313.7L177.6 311.7L176.8 316.2M180.8 326.0L193.6 310.7M189.4 312.5L193.6 310.7L192.5 315.2M194.9 326.0L209.7 309.9M205.4 311.5L209.7 309.9L208.5 314.3M209.1 326.0L225.0 310.0M220.6 311.5L225.0 310.0L223.6 314.4M223.2 326.0L237.5 310.4M233.2 312.0L237.5 310.4L236.3 314.8M237.4 326.0L251.2 312.6M246.8 314.0L251.2 312.6L249.7 317.0M251.5 326.0L264.1 313.9M259.7 315.2L264.1 313.9L262.6 318.2M265.7 326.0L273.5 312.4M269.7 314.9L273.5 312.4L273.3 317.0M279.8 326.0L291.1 315.9M286.6 317.0L291.1 315.9L289.4 320.1M294.0 326.0L308.4 332.1M305.5 328.6L308.4 332.1L303.8 332.4M308.1 326.0L322.5 333.6M319.8 329.9L322.5 333.6L317.9 333.5M322.2 326.0L335.5 330.6M332.3 327.2L335.5 330.6L331.0 331.2M336.4 326.0L347.9 327.8M344.2 325.1L347.9 327.8L343.6 329.2M350.5 326.0L360.4 326.0M356.3 323.9L360.4 326.0L356.3 328.1M364.7 326.0L364.7 318.1M362.6 322.2L364.7 318.1L366.8 322.2M378.8 326.0L378.8 318.1M376.7 322.2L378.8 318.1L380.9 322.2M393.0 326.0L400.8 326.0M396.7 323.9L400.8 326.0L396.7 328.1M407.1 326.0L414.8 324.6M410.4 323.3L414.8 324.6L411.2 327.4M421.3 326.0L429.0 324.6M424.6 323.3L429.0 324.6L425.3 327.4M435.4 326.0L443.0 324.0M438.5 323.0L443.0 324.0L439.6 327.0M449.6 326.0L457.1 324.0M452.6 323.0L457.1 324.0L453.7 327.0M463.7 326.0L471.5 325.3M467.2 323.6L471.5 325.3L467.6 327.7M477.9 326.0L485.7 326.0M481.6 323.9L485.7 326.0L481.6 328.1M492.0 326.0L499.8 327.1M496.0 324.4L499.8 327.1L495.4 328.6M506.1 326.0L515.7 328.4M512.2 325.3L515.7 328.4L511.2 329.4M520.3 326.0L532.9 330.6M529.8 327.2L532.9 330.6L528.4 331.1M534.4 326.0L548.6 332.9M545.8 329.2L548.6 332.9L544.0 332.9M548.6 326.0L562.9 334.9M560.5 331.0L562.9 334.9L558.3 334.5M562.7 326.0L577.6 334.9M575.2 331.0L577.6 334.9L573.0 334.6M576.9 326.0L592.5 335.0M590.0 331.1L592.5 335.0L587.9 334.7M591.0 326.0L607.3 333.6M604.5 330.0L607.3 333.6L602.7 333.7M605.2 326.0L622.1 332.1M618.9 328.8L622.1 332.1L617.5 332.7M619.3 326.0L638.5 325.1M634.3 323.2L638.5 325.1L634.5 327.4M633.5 326.0L652.7 317.0M648.1 316.9L652.7 317.0L649.8 320.7M647.6 326.0L666.5 311.5M662.0 312.3L666.5 311.5L664.5 315.6M661.7 326.0L678.4 306.1M674.2 307.9L678.4 306.1L677.4 310.6M152.5 343.0L157.3 328.0M154.1 331.3L157.3 328.0L158.1 332.6M166.6 343.0L176.3 329.2M172.2 331.3L176.3 329.2L175.7 333.7M180.8 343.0L192.1 328.2M188.0 330.2L192.1 328.2L191.3 332.7M194.9 343.0L208.2 326.4M204.0 328.3L208.2 326.4L207.3 330.9M209.1 343.0L223.6 325.7M219.3 327.5L223.6 325.7L222.5 330.2M223.2 343.0L236.8 326.7M232.6 328.5L236.8 326.7L235.8 331.2M237.4 343.0L249.0 329.1M244.8 330.9L249.0 329.1L247.9 333.6M251.5 343.0L260.5 332.2M256.3 334.0L260.5 332.2L259.5 336.7M265.7 343.0L273.2 334.0M268.9 335.8L273.2 334.0L272.1 338.5M279.8 343.0L291.5 342.3M287.3 340.5L291.5 342.3L287.5 344.6M294.0 343.0L300.3 352.8M299.8 348.2L300.3 352.8L296.3 350.5M308.1 343.0L314.8 352.5M314.2 348.0L314.8 352.5L310.8 350.4M322.2 343.0L328.2 350.8M327.4 346.2L328.2 350.8L324.1 348.8M336.4 343.0L341.2 349.2M340.3 344.7L341.2 349.2L337.0 347.2M350.5 343.0L355.3 349.2M354.5 344.7L355.3 349.2L351.2 347.2M364.7 343.0L357.4 345.9M362.0 346.3L357.4 345.9L360.4 342.4M378.8 343.0L373.3 337.4M374.7 341.8L373.3 337.4L377.7 338.8M393.0 343.0L389.1 336.2M389.3 340.8L389.1 336.2L392.9 338.7M407.1 343.0L401.6 337.4M403.0 341.8L401.6 337.4L406.0 338.8M421.3 343.0L415.7 337.4M417.1 341.8L415.7 337.4L420.1 338.8M435.4 343.0L440.5 337.0M436.2 338.8L440.5 337.0L439.4 341.4M449.6 343.0L454.1 336.5M450.0 338.7L454.1 336.5L453.4 341.1M463.7 343.0L467.6 336.2M463.8 338.7L467.6 336.2L467.4 340.8M477.9 343.0L485.6 344.3M481.9 341.6L485.6 344.3L481.2 345.7M492.0 343.0L499.7 344.3M496.0 341.6L499.7 344.3L495.3 345.7M506.1 343.0L517.6 345.4M514.0 342.5L517.6 345.4L513.1 346.6M520.3 343.0L534.9 346.9M531.5 343.8L534.9 346.9L530.4 347.8M534.4 343.0L549.6 347.0M546.2 343.9L549.6 347.0L545.1 348.0M548.6 343.0L564.4 348.7M561.3 345.4L564.4 348.7L559.8 349.3M562.7 343.0L579.1 348.7M576.0 345.4L579.1 348.7L574.6 349.3M576.9 343.0L593.7 347.5M590.2 344.4L593.7 347.5L589.2 348.4M591.0 343.0L608.1 346.0M604.5 343.2L608.1 346.0L603.7 347.3M605.2 343.0L623.1 344.5M619.2 342.1L623.1 344.5L618.8 346.3M619.3 343.0L637.5 339.2M633.1 338.0L637.5 339.2L633.9 342.1M633.5 343.0L651.1 333.8M646.5 333.8L651.1 333.8L648.4 337.5M647.6 343.0L664.4 330.1M659.9 330.9L664.4 330.1L662.4 334.2M661.7 343.0L676.1 327.3M671.8 328.9L676.1 327.3L674.8 331.8M152.5 359.9L157.2 345.5M153.9 348.8L157.2 345.5L157.9 350.1M166.6 359.9L175.4 346.2M171.4 348.5L175.4 346.2L174.9 350.8M180.8 359.9L191.5 344.7M187.4 346.9L191.5 344.7L190.8 349.3M194.9 359.9L207.1 342.6M203.0 344.7L207.1 342.6L206.4 347.1M209.1 359.9L221.6 342.0M217.6 344.2L221.6 342.0L221.0 346.6M223.2 359.9L235.0 344.6M230.9 346.5L235.0 344.6L234.2 349.1M237.4 359.9L246.8 348.7M242.6 350.5L246.8 348.7L245.8 353.2M251.5 359.9L258.2 352.7M253.8 354.3L258.2 352.7L256.9 357.1M265.7 359.9L271.2 354.4M266.8 355.8L271.2 354.4L269.8 358.8M279.8 359.9L287.0 362.9M284.1 359.4L287.0 362.9L282.5 363.3M294.0 359.9L294.0 367.8M296.0 363.7L294.0 367.8L291.9 363.7M308.1 359.9L308.1 367.8M310.2 363.7L308.1 367.8L306.0 363.7M322.2 359.9L322.2 367.8M324.3 363.7L322.2 367.8L320.2 363.7M336.4 359.9L335.7 367.7M338.1 363.8L335.7 367.7L334.0 363.5M350.5 359.9L349.2 367.7M351.9 364.0L349.2 367.7L347.8 363.3M364.7 359.9L358.7 365.0M363.2 363.9L358.7 365.0L360.5 360.7M378.8 359.9L371.0 359.9M375.1 362.0L371.0 359.9L375.1 357.9M393.0 359.9L385.4 357.9M388.8 361.0L385.4 357.9L389.9 357.0M407.1 359.9L399.4 358.6M403.1 361.3L399.4 358.6L403.8 357.2M421.3 359.9L411.6 358.2M415.3 361.0L411.6 358.2L416.0 356.9M435.4 359.9L440.4 349.3M436.7 352.2L440.4 349.3L440.5 353.9M449.6 359.9L454.5 349.3M450.9 352.2L454.5 349.3L454.7 353.9M463.7 359.9L468.6 351.4M464.8 353.9L468.6 351.4L468.4 356.0M477.9 359.9L485.2 357.3M480.7 356.7L485.2 357.3L482.1 360.6M492.0 359.9L499.6 357.9M495.1 357.0L499.6 357.9L496.1 361.0M506.1 359.9L515.8 358.2M511.4 356.9L515.8 358.2L512.2 361.0M520.3 359.9L531.9 358.9M527.7 357.2L531.9 358.9L528.0 361.4M534.4 359.9L546.1 359.9M542.0 357.9L546.1 359.9L542.0 362.0M548.6 359.9L562.6 361.2M558.7 358.7L562.6 361.2L558.3 362.9M562.7 359.9L578.9 362.1M575.1 359.5L578.9 362.1L574.5 363.6M576.9 359.9L593.1 359.9M589.0 357.9L593.1 359.9L589.0 362.0M591.0 359.9L607.2 358.5M603.0 356.8L607.2 358.5L603.3 361.0M605.2 359.9L621.2 357.1M616.8 355.8L621.2 357.1L617.5 359.9M619.3 359.9L634.6 354.4M630.0 353.8L634.6 354.4L631.5 357.7M633.5 359.9L648.1 351.5M643.5 351.7L648.1 351.5L645.6 355.3M647.6 359.9L661.9 348.9M657.4 349.8L661.9 348.9L660.0 353.1M661.7 359.9L674.9 346.8M670.5 348.2L674.9 346.8L673.5 351.2M152.5 376.9L160.9 363.7M157.0 366.0L160.9 363.7L160.5 368.3M166.6 376.9L176.7 361.8M172.7 364.1L176.7 361.8L176.2 366.4M180.8 376.9L192.6 360.0M188.5 362.2L192.6 360.0L192.0 364.6M194.9 376.9L207.1 359.6M203.0 361.7L207.1 359.6L206.4 364.1M209.1 376.9L220.5 360.6M216.4 362.8L220.5 360.6L219.9 365.2M223.2 376.9L233.5 363.5M229.4 365.5L233.5 363.5L232.7 368.0M237.4 376.9L244.9 368.0M240.6 369.8L244.9 368.0L243.8 372.4M251.5 376.9L256.8 371.1M252.5 372.8L256.8 371.1L255.6 375.6M265.7 376.9L271.2 371.4M266.8 372.8L271.2 371.4L269.8 375.8M279.8 376.9L287.3 379.3M284.0 376.1L287.3 379.3L282.7 380.1M294.0 376.9L289.6 385.8M293.3 383.0L289.6 385.8L289.6 381.2M308.1 376.9L302.8 388.0M306.4 385.2L302.8 388.0L302.7 383.4M322.2 376.9L317.0 388.1M320.7 385.3L317.0 388.1L316.9 383.5M336.4 376.9L331.7 385.6M335.5 383.0L331.7 385.6L331.8 381.0M350.5 376.9L346.4 383.6M350.4 381.2L346.4 383.6L346.8 379.0M364.7 376.9L358.5 381.7M363.0 380.9L358.5 381.7L360.4 377.5M378.8 376.9L371.3 379.2M375.9 380.0L371.3 379.2L374.6 376.0M393.0 376.9L385.3 375.5M388.9 378.3L385.3 375.5L389.7 374.2M407.1 376.9L405.4 367.2M404.1 371.6L405.4 367.2L408.2 370.9M421.3 376.9L420.0 362.9M418.3 367.2L420.0 362.9L422.5 366.8M435.4 376.9L435.4 360.6M433.3 364.7L435.4 360.6L437.5 364.7M449.6 376.9L448.2 361.3M446.5 365.5L448.2 361.3L450.6 365.2M463.7 376.9L469.6 366.8M465.7 369.3L469.6 366.8L469.3 371.4M477.9 376.9L484.6 380.8M482.1 377.0L484.6 380.8L480.0 380.6M492.0 376.9L498.8 380.8M496.3 377.0L498.8 380.8L494.2 380.6M506.1 376.9L512.9 380.8M510.4 377.0L512.9 380.8L508.3 380.6M520.3 376.9L527.1 380.8M524.6 377.0L527.1 380.8L522.5 380.6M534.4 376.9L541.2 380.8M538.7 377.0L541.2 380.8L536.6 380.6M548.6 376.9L557.5 381.1M554.7 377.5L557.5 381.1L552.9 381.2M562.7 376.9L573.7 380.9M570.6 377.6L573.7 380.9L569.1 381.5M576.9 376.9L588.4 379.0M584.7 376.2L588.4 379.0L584.0 380.3M591.0 376.9L602.7 376.9M598.6 374.8L602.7 376.9L598.6 379.0M605.2 376.9L612.7 368.0M608.4 369.8L612.7 368.0L611.6 372.4M619.3 376.9L627.3 368.3M622.9 369.9L627.3 368.3L626.0 372.8M633.5 376.9L641.7 368.7M637.3 370.1L641.7 368.7L640.3 373.0M647.6 376.9L656.4 366.0M652.2 367.8L656.4 366.0L655.5 370.5M661.7 376.9L670.5 363.2M666.5 365.5L670.5 363.2L670.1 367.8M138.3 393.9L139.7 378.6M137.2 382.5L139.7 378.6L141.4 382.9M152.5 393.9L162.2 380.1M158.1 382.2L162.2 380.1L161.5 384.6M166.6 393.9L178.5 377.0M174.4 379.2L178.5 377.0L177.8 381.6M180.8 393.9L193.7 375.4M189.6 377.6L193.7 375.4L193.1 380.0M194.9 393.9L206.7 377.0M202.7 379.2L206.7 377.0L206.1 381.6M209.1 393.9L219.1 379.6M215.0 381.8L219.1 379.6L218.4 384.2M223.2 393.9L231.8 382.8M227.6 384.7L231.8 382.8L230.9 387.3M237.4 393.9L243.7 386.4M239.5 388.2L243.7 386.4L242.7 390.8M251.5 393.9L256.8 388.1M252.5 389.7L256.8 388.1L255.6 392.6M265.7 393.9L271.2 388.4M266.8 389.8L271.2 388.4L269.8 392.7M279.8 393.9L274.6 388.0M275.8 392.5L274.6 388.0L278.9 389.7M294.0 393.9L284.2 401.5M288.8 400.6L284.2 401.5L286.2 397.3M308.1 393.9L295.0 404.5M299.5 403.5L295.0 404.5L296.9 400.3M322.2 393.9L309.8 404.4M314.3 403.3L309.8 404.4L311.6 400.1M336.4 393.9L327.2 401.2M331.7 400.3L327.2 401.2L329.1 397.0M350.5 393.9L344.3 398.6M348.8 397.8L344.3 398.6L346.3 394.5M364.7 393.9L358.3 398.5M362.8 397.8L358.3 398.5L360.4 394.4M378.8 393.9L372.3 398.3M376.9 397.7L372.3 398.3L374.6 394.3M393.0 393.9L383.2 393.0M387.1 395.4L383.2 393.0L387.5 391.3M407.1 393.9L400.1 381.7M400.3 386.3L400.1 381.7L404.0 384.2M421.3 393.9L415.5 378.1M414.9 382.6L415.5 378.1L418.9 381.2M435.4 393.9L433.9 377.1M432.2 381.4L433.9 377.1L436.4 381.0M449.6 393.9L446.8 378.4M445.5 382.8L446.8 378.4L449.6 382.1M463.7 393.9L457.9 383.8M458.1 388.4L457.9 383.8L461.7 386.3M477.9 393.9L470.5 396.6M475.0 397.1L470.5 396.6L473.6 393.2M492.0 393.9L484.6 396.6M489.2 397.1L484.6 396.6L487.8 393.2M506.1 393.9L499.4 397.8M503.9 397.6L499.4 397.8L501.9 394.0M520.3 393.9L513.9 398.4M518.4 397.8L513.9 398.4L516.0 394.3M534.4 393.9L528.0 398.4M532.6 397.8L528.0 398.4L530.2 394.3M548.6 393.9L542.6 398.9M547.1 397.9L542.6 398.9L544.4 394.7M562.7 393.9L554.9 393.9M559.0 396.0L554.9 393.9L559.0 391.8M576.9 393.9L569.0 393.9M573.1 396.0L569.0 393.9L573.1 391.8M591.0 393.9L590.3 386.1M588.6 390.4L590.3 386.1L592.8 390.0M605.2 393.9L605.2 386.1M603.1 390.2L605.2 386.1L607.3 390.2M619.3 393.9L621.3 386.3M618.3 389.7L621.3 386.3L622.3 390.8M633.5 393.9L637.4 387.1M633.5 389.6L637.4 387.1L637.1 391.7M647.6 393.9L651.8 385.0M648.1 387.8L651.8 385.0L651.9 389.6M661.7 393.9L665.7 382.9M662.4 386.0L665.7 382.9L666.3 387.5M138.3 410.9L139.8 394.2M137.4 398.1L139.8 394.2L141.5 398.5M152.5 410.9L164.2 396.2M160.0 398.1L164.2 396.2L163.3 400.7M166.6 410.9L180.5 393.9M176.3 395.8L180.5 393.9L179.5 398.4M180.8 410.9L194.5 394.6M190.2 396.4L194.5 394.6L193.4 399.1M194.9 410.9L208.3 398.5M203.9 399.8L208.3 398.5L206.7 402.9M209.1 410.9L220.1 403.1M215.6 403.8L220.1 403.1L218.0 407.2M223.2 410.9L228.4 404.1M224.3 406.1L228.4 404.1L227.6 408.6M237.4 410.9L239.6 404.8M236.2 408.0L239.6 404.8L240.1 409.4M251.5 410.9L255.9 406.1M251.6 407.7L255.9 406.1L254.6 410.6M265.7 410.9L272.3 413.6M269.3 410.1L272.3 413.6L267.7 414.0M279.8 410.9L275.6 417.5M279.6 415.2L275.6 417.5L276.0 412.9M294.0 410.9L285.4 417.0M290.0 416.3L285.4 417.0L287.5 412.9M308.1 410.9L298.3 419.4M302.8 418.2L298.3 419.4L300.1 415.1M322.2 410.9L312.6 421.1M316.9 419.5L312.6 421.1L313.9 416.7M336.4 410.9L327.1 420.6M331.5 419.1L327.1 420.6L328.4 416.2M350.5 410.9L342.5 419.4M346.8 417.8L342.5 419.4L343.8 415.0M364.7 410.9L356.0 418.7M360.4 417.5L356.0 418.7L357.6 414.4M378.8 410.9L369.5 417.9M374.0 417.1L369.5 417.9L371.5 413.8M393.0 410.9L379.5 410.2M383.5 412.5L379.5 410.2L383.7 408.3M407.1 410.9L396.0 399.8M397.4 404.1L396.0 399.8L400.4 401.2M421.3 410.9L410.8 398.4M411.8 402.9L410.8 398.4L415.0 400.2M435.4 410.9L423.4 400.8M425.2 405.0L423.4 400.8L427.9 401.8M449.6 410.9L436.4 403.3M439.0 407.2L436.4 403.3L441.0 403.6M463.7 410.9L451.1 406.3M454.2 409.6L451.1 406.3L455.6 405.7M477.9 410.9L466.3 408.8M470.0 411.6L466.3 408.8L470.7 407.5M492.0 410.9L480.3 409.9M484.2 412.3L480.3 409.9L484.6 408.1M506.1 410.9L494.5 409.9M498.4 412.3L494.5 409.9L498.8 408.1M520.3 410.9L508.6 409.9M512.5 412.3L508.6 409.9L512.9 408.1M534.4 410.9L522.8 409.9M526.7 412.3L522.8 409.9L527.1 408.1M548.6 410.9L536.4 408.7M540.1 411.5L536.4 408.7L540.8 407.4M562.7 410.9L556.0 399.8M556.4 404.4L556.0 399.8L559.9 402.2M576.9 410.9L573.5 398.4M572.6 402.9L573.5 398.4L576.6 401.8M591.0 410.9L588.8 398.1M587.4 402.5L588.8 398.1L591.5 401.8M605.2 410.9L604.1 398.6M602.4 402.9L604.1 398.6L606.5 402.5M619.3 410.9L622.1 401.4M618.9 404.8L622.1 401.4L622.9 406.0M633.5 410.9L638.2 404.7M634.1 406.6L638.2 404.7L637.4 409.2M647.6 410.9L650.8 403.7M647.2 406.6L650.8 403.7L651.0 408.3M661.7 410.9L663.5 401.2M660.7 404.9L663.5 401.2L664.8 405.6M138.3 427.9L140.1 407.5M137.7 411.4L140.1 407.5L141.9 411.7M152.5 427.9L167.2 411.5M162.9 413.2L167.2 411.5L166.0 416.0M166.6 427.9L182.6 411.0M178.3 412.6L182.6 411.0L181.3 415.4M180.8 427.9L194.9 413.7M190.6 415.1L194.9 413.7L193.5 418.1M194.9 427.9L209.0 419.7M204.4 420.0L209.0 419.7L206.5 423.6M209.1 427.9L219.2 425.1M214.7 424.2L219.2 425.1L215.8 428.2M223.2 427.9L226.2 424.0M222.1 425.9L226.2 424.0L225.4 428.5M237.4 427.9L237.4 422.9M235.3 427.0L237.4 422.9L239.5 427.0M251.5 427.9L251.5 422.9M249.4 427.0L251.5 422.9L253.6 427.0M265.7 427.9L265.7 434.3M267.7 430.2L265.7 434.3L263.6 430.2M279.8 427.9L276.1 434.7M279.9 432.1L276.1 434.7L276.2 430.2M294.0 427.9L287.4 432.1M292.0 431.6L287.4 432.1L289.7 428.1M308.1 427.9L300.9 434.6M305.3 433.3L300.9 434.6L302.5 430.2M322.2 427.9L313.8 439.1M317.9 437.1L313.8 439.1L314.6 434.6M336.4 427.9L326.6 441.6M330.7 439.5L326.6 441.6L327.3 437.1M350.5 427.9L340.7 442.4M344.8 440.2L340.7 442.4L341.3 437.8M364.7 427.9L353.4 440.4M357.7 438.8L353.4 440.4L354.6 436.0M378.8 427.9L366.8 438.0M371.3 436.9L366.8 438.0L368.6 433.7M393.0 427.9L377.8 427.9M381.9 429.9L377.8 427.9L381.9 425.8M407.1 427.9L395.1 417.8M396.9 422.0L395.1 417.8L399.6 418.8M421.3 427.9L407.2 419.7M409.7 423.6L407.2 419.7L411.8 420.0M435.4 427.9L420.1 422.3M423.3 425.7L420.1 422.3L424.7 421.7M449.6 427.9L433.8 423.6M437.3 426.7L433.8 423.6L438.3 422.7M463.7 427.9L447.7 425.0M451.4 427.8L447.7 425.0L452.1 423.7M477.9 427.9L461.7 425.7M465.5 428.3L461.7 425.7L466.1 424.2M492.0 427.9L475.8 426.4M479.7 428.9L475.8 426.4L480.0 424.7M506.1 427.9L489.9 426.4M493.8 428.9L489.9 426.4L494.2 424.7M520.3 427.9L504.1 426.4M508.0 428.9L504.1 426.4L508.3 424.7M534.4 427.9L519.4 421.6M522.4 425.1L519.4 421.6L524.0 421.3M548.6 427.9L535.7 417.0M537.5 421.3L535.7 417.0L540.2 418.1M562.7 427.9L552.8 413.6M553.4 418.2L552.8 413.6L556.8 415.8M576.9 427.9L570.9 411.5M570.4 416.1L570.9 411.5L574.3 414.7M591.0 427.9L586.7 411.6M585.7 416.1L586.7 411.6L589.7 415.0M605.2 427.9L602.4 412.4M601.1 416.8L602.4 412.4L605.2 416.1M619.3 427.9L622.8 416.7M619.6 420.0L622.8 416.7L623.6 421.2M633.5 427.9L639.0 422.3M634.6 423.7L639.0 422.3L637.6 426.7M647.6 427.9L651.4 418.8M647.9 421.8L651.4 418.8L651.7 423.4M661.7 427.9L661.7 413.8M659.7 417.9L661.7 413.8L663.8 417.9M152.5 444.8L171.3 429.1M166.8 430.1L171.3 429.1L169.5 433.3M166.6 444.8L184.0 430.4M179.5 431.4L184.0 430.4L182.1 434.7M180.8 444.8L195.3 432.9M190.8 433.9L195.3 432.9L193.4 437.1M194.9 444.8L207.2 439.2M202.6 439.0L207.2 439.2L204.3 442.8M209.1 444.8L216.8 443.5M212.4 442.1L216.8 443.5L213.2 446.2M223.2 444.8L227.6 442.6M223.0 442.6L227.6 442.6L224.9 446.3M237.4 444.8L240.5 441.1M236.3 442.9L240.5 441.1L239.5 445.6M251.5 444.8L251.1 439.9M249.4 444.2L251.1 439.9L253.5 443.8M265.7 444.8L261.1 449.4M265.5 448.0L261.1 449.4L262.5 445.0M279.8 444.8L274.3 450.5M278.7 449.0L274.3 450.5L275.7 446.1M294.0 444.8L288.6 450.5M292.9 449.0L288.6 450.5L289.9 446.1M308.1 444.8L300.7 454.7M304.8 452.7L300.7 454.7L301.5 450.2M322.2 444.8L313.4 459.9M317.3 457.4L313.4 459.9L313.7 455.3M336.4 444.8L326.7 462.2M330.5 459.7L326.7 462.2L326.8 457.6M350.5 444.8L340.3 464.1M344.0 461.5L340.3 464.1L340.4 459.5M364.7 444.8L351.0 461.1M355.2 459.3L351.0 461.1L352.0 456.7M378.8 444.8L364.5 456.0M369.0 455.2L364.5 456.0L366.4 451.9M393.0 444.8L377.3 446.0M381.6 447.8L377.3 446.0L381.2 443.6M407.1 444.8L393.0 436.7M395.5 440.6L393.0 436.7L397.6 436.9M421.3 444.8L405.1 438.5M408.1 442.0L405.1 438.5L409.6 438.1M435.4 444.8L417.8 440.9M421.4 443.9L417.8 440.9L422.3 439.8M449.6 444.8L431.2 441.9M434.9 444.6L431.2 441.9L435.6 440.4M463.7 444.8L445.2 442.9M449.1 445.4L445.2 442.9L449.5 441.2M477.9 444.8L458.6 443.4M462.5 445.8L458.6 443.4L462.8 441.6M492.0 444.8L472.0 444.0M476.0 446.2L472.0 444.0L476.2 442.1M506.1 444.8L486.9 443.6M490.8 445.9L486.9 443.6L491.1 441.8M520.3 444.8L501.7 443.2M505.7 445.7L501.7 443.2L506.0 441.5M534.4 444.8L518.0 437.6M520.9 441.2L518.0 437.6L522.6 437.3M548.6 444.8L535.8 433.1M537.4 437.4L535.8 433.1L540.2 434.3M562.7 444.8L551.4 430.8M552.4 435.3L551.4 430.8L555.6 432.7M576.9 444.8L567.6 428.7M567.8 433.3L567.6 428.7L571.4 431.2M591.0 444.8L582.0 429.9M582.3 434.5L582.0 429.9L585.9 432.3M605.2 444.8L596.7 431.6M597.2 436.2L596.7 431.6L600.7 433.9M619.3 444.8L613.0 435.0M613.4 439.6L613.0 435.0L616.9 437.3M633.5 444.8L628.2 439.1M629.4 443.5L628.2 439.1L632.5 440.7M647.6 444.8L636.5 441.1M639.7 444.4L636.5 441.1L641.1 440.4M661.7 444.8L645.5 443.4M649.4 445.9L645.5 443.4L649.8 441.7M138.3 461.8L161.3 448.8M156.8 449.0L161.3 448.8L158.8 452.6M152.5 461.8L173.3 448.8M168.7 449.2L173.3 448.8L170.9 452.8M166.6 461.8L183.9 450.6M179.3 451.1L183.9 450.6L181.6 454.6M180.8 461.8L194.8 452.4M190.2 452.9L194.8 452.4L192.6 456.4M194.9 461.8L204.8 458.3M200.3 457.7L204.8 458.3L201.7 461.7M209.1 461.8L214.0 461.4M209.7 459.7L214.0 461.4L210.1 463.8M223.2 461.8L228.1 461.2M223.8 459.6L228.1 461.2L224.3 463.8M237.4 461.8L242.2 461.0M237.8 459.6L242.2 461.0L238.5 463.7M251.5 461.8L251.1 456.9M249.4 461.2L251.1 456.9L253.5 460.8M265.7 461.8L259.2 461.8M263.3 463.9L259.2 461.8L263.3 459.7M279.8 461.8L273.0 465.7M277.6 465.5L273.0 465.7L275.5 461.9M294.0 461.8L289.0 470.3M292.9 467.8L289.0 470.3L289.3 465.7M308.1 461.8L301.5 474.9M305.2 472.2L301.5 474.9L301.5 470.3M322.2 461.8L314.4 479.5M318.0 476.6L314.4 479.5L314.1 474.9M336.4 461.8L327.6 482.6M331.1 479.6L327.6 482.6L327.3 478.0M350.5 461.8L341.4 484.5M344.8 481.5L341.4 484.5L341.0 480.0M364.7 461.8L350.0 480.6M354.2 478.7L350.0 480.6L350.9 476.1M378.8 461.8L363.1 473.3M367.6 472.6L363.1 473.3L365.1 469.2M393.0 461.8L379.1 463.8M383.4 465.3L379.1 463.8L382.8 461.1M407.1 461.8L393.4 456.8M396.5 460.2L393.4 456.8L397.9 456.3M421.3 461.8L403.7 457.9M407.2 460.9L403.7 457.9L408.1 456.8M435.4 461.8L416.3 460.1M420.2 462.6L416.3 460.1L420.5 458.4M449.6 461.8L429.1 460.6M433.1 462.9L429.1 460.6L433.3 458.7M463.7 461.8L442.5 461.1M446.6 463.3L442.5 461.1L446.7 459.1M477.9 461.8L456.7 461.5M460.7 463.6L456.7 461.5L460.8 459.4M492.0 461.8L470.8 461.8M474.9 463.9L470.8 461.8L474.9 459.7M506.1 461.8L485.7 460.9M489.7 463.2L485.7 460.9L489.8 459.0M520.3 461.8L501.1 460.1M505.0 462.6L501.1 460.1L505.4 458.4M534.4 461.8L518.1 454.2M521.0 457.8L518.1 454.2L522.7 454.1M548.6 461.8L536.3 449.5M537.7 453.9L536.3 449.5L540.7 451.0M562.7 461.8L550.2 448.1M551.4 452.5L550.2 448.1L554.5 449.7M576.9 461.8L563.7 446.1M564.7 450.6L563.7 446.1L567.9 447.9M591.0 461.8L575.8 447.9M577.4 452.2L575.8 447.9L580.3 449.1M605.2 461.8L589.8 451.0M591.9 455.1L589.8 451.0L594.3 451.7M619.3 461.8L608.9 451.4M610.3 455.8L608.9 451.4L613.3 452.8M633.5 461.8L623.6 461.8M627.7 463.9L623.6 461.8L627.7 459.7M647.6 461.8L641.8 471.9M645.6 469.4L641.8 471.9L642.0 467.4M661.7 461.8L658.9 477.8M661.7 474.2L658.9 477.8L657.6 473.4M124.2 478.8L145.2 467.4M140.6 467.5L145.2 467.4L142.6 471.2M138.3 478.8L157.7 468.1M153.1 468.2L157.7 468.1L155.1 471.9M152.5 478.8L168.3 469.9M163.7 470.1L168.3 469.9L165.7 473.7M166.6 478.8L179.4 472.1M174.8 472.2L179.4 472.1L176.7 475.9M180.8 478.8L191.9 473.5M187.3 473.4L191.9 473.5L189.1 477.1M194.9 478.8L203.3 477.1M198.9 475.9L203.3 477.1L199.7 480.0M209.1 478.8L214.0 479.0M210.0 476.7L214.0 479.0L209.8 480.9M223.2 478.8L227.9 477.2M223.3 476.6L227.9 477.2L224.7 480.5M237.4 478.8L240.8 475.3M236.5 476.7L240.8 475.3L239.4 479.7M251.5 478.8L251.9 473.9M249.5 477.8L251.9 473.9L253.7 478.1M265.7 478.8L261.1 474.2M262.5 478.6L261.1 474.2L265.5 475.7M279.8 478.8L272.6 481.9M277.2 482.2L272.6 481.9L275.5 478.4M294.0 478.8L289.0 489.4M292.6 486.6L289.0 489.4L288.8 484.8M308.1 478.8L301.6 493.7M305.2 490.8L301.6 493.7L301.3 489.1M322.2 478.8L314.7 497.4M318.2 494.3L314.7 497.4L314.3 492.8M336.4 478.8L328.2 501.2M331.6 498.1L328.2 501.2L327.7 496.7M350.5 478.8L342.8 502.7M346.0 499.5L342.8 502.7L342.0 498.2M364.7 478.8L351.9 498.9M355.8 496.6L351.9 498.9L352.3 494.4M378.8 478.8L365.0 491.7M369.4 490.5L365.0 491.7L366.5 487.4M393.0 478.8L381.4 480.6M385.8 482.0L381.4 480.6L385.1 477.9M407.1 478.8L396.0 473.6M398.8 477.2L396.0 473.6L400.6 473.4M421.3 478.8L405.0 472.5M408.1 475.9L405.0 472.5L409.6 472.0M435.4 478.8L417.7 473.2M420.9 476.4L417.7 473.2L422.2 472.4M449.6 478.8L431.1 473.2M434.4 476.4L431.1 473.2L435.6 472.4M463.7 478.8L444.5 473.3M447.8 476.4L444.5 473.3L449.0 472.4M477.9 478.8L459.4 473.2M462.7 476.4L459.4 473.2L463.9 472.4M492.0 478.8L474.2 473.2M477.5 476.4L474.2 473.2L478.8 472.4M506.1 478.8L488.8 472.1M491.9 475.5L488.8 472.1L493.4 471.6M520.3 478.8L504.0 471.2M506.8 474.8L504.0 471.2L508.6 471.0M534.4 478.8L520.3 468.8M522.4 472.8L520.3 468.8L524.8 469.4M548.6 478.8L536.7 466.9M538.1 471.3L536.7 466.9L541.1 468.3M562.7 478.8L550.4 466.5M551.8 470.8L550.4 466.5L554.8 467.9M576.9 478.8L562.3 464.2M563.7 468.6L562.3 464.2L566.7 465.7M591.0 478.8L572.6 464.7M574.6 468.8L572.6 464.7L577.1 465.5M605.2 478.8L585.6 467.5M588.2 471.4L585.6 467.5L590.2 467.8M619.3 478.8L607.2 464.4M608.3 468.9L607.2 464.4L611.5 466.2M633.5 478.8L619.9 475.2M623.3 478.2L619.9 475.2L624.4 474.2M647.6 478.8L635.4 484.5M640.0 484.6L635.4 484.5L638.2 480.9M661.7 478.8L652.4 492.1M656.5 490.0L652.4 492.1L653.1 487.6M124.2 495.8L140.3 486.5M135.7 486.7L140.3 486.5L137.8 490.3M138.3 495.8L153.2 487.7M148.6 487.8L153.2 487.7L150.6 491.5M152.5 495.8L162.9 490.5M158.3 490.5L162.9 490.5L160.2 494.2M166.6 495.8L173.9 492.8M169.3 492.4L173.9 492.8L170.9 496.3M180.8 495.8L188.3 493.5M183.8 492.7L188.3 493.5L185.0 496.7M194.9 495.8L201.4 495.4M197.1 493.6L201.4 495.4L197.4 497.7M209.1 495.8L213.9 496.6M210.3 493.9L213.9 496.6L209.5 498.0M223.2 495.8L227.3 493.0M222.7 493.6L227.3 493.0L225.1 497.0M237.4 495.8L238.2 490.9M235.5 494.6L238.2 490.9L239.6 495.3M251.5 495.8L251.9 490.9M249.5 494.8L251.9 490.9L253.7 495.1M265.7 495.8L265.7 489.3M263.6 493.4L265.7 489.3L267.7 493.4M279.8 495.8L272.1 494.4M275.8 497.2L272.1 494.4L276.5 493.1M294.0 495.8L290.6 505.0M294.0 501.9L290.6 505.0L290.0 500.5M308.1 495.8L303.3 509.0M306.7 505.8L303.3 509.0L302.7 504.4M322.2 495.8L316.0 512.9M319.4 509.7L316.0 512.9L315.5 508.3M336.4 495.8L330.2 516.1M333.4 512.8L330.2 516.1L329.4 511.6M350.5 495.8L344.9 518.3M347.9 514.8L344.9 518.3L343.9 513.8M364.7 495.8L354.1 516.5M357.9 513.7L354.1 516.5L354.1 511.9M378.8 495.8L366.3 510.7M370.5 508.9L366.3 510.7L367.3 506.2M393.0 495.8L379.1 498.2M383.5 499.6L379.1 498.2L382.8 495.5M407.1 495.8L395.5 489.1M398.0 492.9L395.5 489.1L400.1 489.3M421.3 495.8L407.7 487.9M410.2 491.8L407.7 487.9L412.3 488.2M435.4 495.8L421.3 487.6M423.8 491.5L421.3 487.6L425.9 487.9M449.6 495.8L435.5 487.6M438.0 491.5L435.5 487.6L440.1 487.9M463.7 495.8L449.6 487.6M452.1 491.5L449.6 487.6L454.2 487.9M477.9 495.8L464.1 487.0M466.5 491.0L464.1 487.0L468.7 487.5M492.0 495.8L478.2 486.1M480.4 490.2L478.2 486.1L482.8 486.8M506.1 495.8L492.8 484.6M494.6 488.8L492.8 484.6L497.3 485.6M520.3 495.8L508.0 483.5M509.4 487.9L508.0 483.5L512.4 484.9M534.4 495.8L522.1 483.5M523.6 487.9L522.1 483.5L526.5 484.9M548.6 495.8L537.1 484.3M538.5 488.6L537.1 484.3L541.4 485.7M562.7 495.8L551.1 485.2M552.8 489.5L551.1 485.2L555.6 486.4M576.9 495.8L562.9 484.1M564.7 488.3L562.9 484.1L567.4 485.1M591.0 495.8L571.9 483.6M574.3 487.6L571.9 483.6L576.5 484.1M605.2 495.8L583.5 485.7M586.4 489.3L583.5 485.7L588.1 485.5M619.3 495.8L601.9 483.6M604.0 487.6L601.9 483.6L606.4 484.2M633.5 495.8L615.8 489.4M618.9 492.7L615.8 489.4L620.4 488.8M647.6 495.8L630.1 495.8M634.2 497.9L630.1 495.8L634.2 493.7M661.7 495.8L646.1 504.8M650.7 504.6L646.1 504.8L648.6 501.0M124.2 512.8L142.5 509.5M138.1 508.2L142.5 509.5L138.9 512.3M138.3 512.8L155.7 511.1M151.4 509.4L155.7 511.1L151.8 513.5M152.5 512.8L166.5 512.5M162.4 510.5L166.5 512.5L162.5 514.7M166.6 512.8L176.2 514.9M172.7 512.0L176.2 514.9L171.8 516.1M180.8 512.8L187.5 516.9M185.1 512.9L187.5 516.9L182.9 516.5M194.9 512.8L199.7 517.1M198.1 512.8L199.7 517.1L195.2 515.9M209.1 512.8L209.1 517.7M211.2 513.6L209.1 517.7L207.0 513.6M223.2 512.8L219.3 509.8M221.3 513.9L219.3 509.8L223.8 510.6M237.4 512.8L234.2 509.0M235.2 513.5L234.2 509.0L238.4 510.8M251.5 512.8L247.7 509.6M249.5 513.8L247.7 509.6L252.2 510.6M265.7 512.8L259.7 510.3M262.7 513.8L259.7 510.3L264.3 509.9M279.8 512.8L275.8 519.5M279.7 517.0L275.8 519.5L276.1 514.9M294.0 512.8L292.9 520.5M295.5 516.7L292.9 520.5L291.4 516.2M308.1 512.8L306.8 522.5M309.4 518.7L306.8 522.5L305.3 518.2M322.2 512.8L320.4 526.7M323.0 522.9L320.4 526.7L318.9 522.4M336.4 512.8L334.9 530.2M337.4 526.2L334.9 530.2L333.2 525.9M350.5 512.8L349.8 532.7M352.1 528.6L349.8 532.7L347.9 528.5M364.7 512.8L362.6 533.8M365.0 530.0L362.6 533.8L360.9 529.6M378.8 512.8L375.5 531.8M378.2 528.1L375.5 531.8L374.1 527.4M393.0 512.8L376.9 515.4M381.3 516.8L376.9 515.4L380.6 512.7M407.1 512.8L399.4 501.7M400.0 506.3L399.4 501.7L403.5 503.9M421.3 512.8L413.5 501.7M414.2 506.3L413.5 501.7L417.6 503.9M435.4 512.8L426.7 500.4M427.4 504.9L426.7 500.4L430.8 502.5M449.6 512.8L441.1 500.2M441.7 504.7L441.1 500.2L445.2 502.4M463.7 512.8L455.6 500.0M456.0 504.6L455.6 500.0L459.5 502.3M477.9 512.8L469.7 500.0M470.2 504.6L469.7 500.0L473.7 502.3M492.0 512.8L483.6 499.5M484.0 504.1L483.6 499.5L487.5 501.8M506.1 512.8L498.0 498.7M498.3 503.3L498.0 498.7L501.9 501.2M520.3 512.8L512.8 498.3M512.8 502.9L512.8 498.3L516.5 501.0M534.4 512.8L525.7 498.4M526.0 503.0L525.7 498.4L529.6 500.8M548.6 512.8L539.2 499.4M539.9 504.0L539.2 499.4L543.3 501.6M562.7 512.8L553.0 501.2M554.0 505.7L553.0 501.2L557.2 503.0M576.9 512.8L565.8 501.7M567.2 506.0L565.8 501.7L570.1 503.1M591.0 512.8L575.8 501.6M577.8 505.7L575.8 501.6L580.3 502.3M605.2 512.8L586.3 502.9M588.9 506.7L586.3 502.9L590.9 503.0M619.3 512.8L600.4 501.8M602.9 505.7L600.4 501.8L605.0 502.1M633.5 512.8L613.6 503.5M616.5 507.1L613.6 503.5L618.2 503.4M647.6 512.8L626.7 509.1M630.4 511.8L626.7 509.1L631.1 507.7M661.7 512.8L641.6 516.3M646.0 517.7L641.6 516.3L645.2 513.6M124.2 529.7L146.4 533.7M142.7 530.9L146.4 533.7L142.0 535.0M138.3 529.7L158.7 536.1M155.4 532.9L158.7 536.1L154.1 536.9M152.5 529.7L169.0 537.4M166.1 533.8L169.0 537.4L164.4 537.6M166.6 529.7L175.2 540.9M174.4 536.4L175.2 540.9L171.0 538.9M180.8 529.7L182.5 539.4M183.8 535.0L182.5 539.4L179.7 535.7M194.9 529.7L190.8 535.6M194.9 533.4L190.8 535.6L191.5 531.0M209.1 529.7L202.7 530.9M207.1 532.2L202.7 530.9L206.4 528.1M223.2 529.7L216.8 530.3M221.1 532.0L216.8 530.3L220.7 527.9M237.4 529.7L230.9 529.7M235.0 531.8L230.9 529.7L235.0 527.7M251.5 529.7L245.6 532.2M250.2 532.6L245.6 532.2L248.6 528.7M265.7 529.7L260.6 534.8M265.0 533.4L260.6 534.8L262.0 530.4M279.8 529.7L277.1 537.1M280.5 534.0L277.1 537.1L276.6 532.5M294.0 529.7L294.6 537.5M296.4 533.3L294.6 537.5L292.2 533.6M308.1 529.7L308.8 537.5M310.5 533.3L308.8 537.5L306.3 533.6M322.2 529.7L323.1 539.5M324.8 535.3L323.1 539.5L320.7 535.6M336.4 529.7L338.2 543.7M339.8 539.3L338.2 543.7L335.6 539.9M350.5 529.7L353.6 546.9M354.9 542.5L353.6 546.9L350.8 543.3M364.7 529.7L369.5 547.7M370.5 543.2L369.5 547.7L366.4 544.3M378.8 529.7L385.0 546.7M385.5 542.1L385.0 546.7L381.6 543.5M393.0 529.7L408.7 525.5M404.2 524.6L408.7 525.5L405.3 528.6M407.1 529.7L405.1 518.2M403.7 522.6L405.1 518.2L407.9 521.9M421.3 529.7L419.6 520.1M418.2 524.5L419.6 520.1L422.3 523.7M435.4 529.7L433.1 516.5M431.7 520.9L433.1 516.5L435.8 520.2M449.6 529.7L447.6 514.7M446.0 519.1L447.6 514.7L450.2 518.5M463.7 529.7L462.4 514.7M460.7 518.9L462.4 514.7L464.8 518.6M477.9 529.7L475.9 514.7M474.3 519.1L475.9 514.7L478.5 518.5M492.0 529.7L489.4 514.8M488.0 519.2L489.4 514.8L492.1 518.5M506.1 529.7L503.5 514.8M502.2 519.2L503.5 514.8L506.3 518.5M520.3 529.7L517.7 514.8M516.3 519.2L517.7 514.8L520.4 518.5M534.4 529.7L529.5 514.2M528.8 518.8L529.5 514.2L532.8 517.5M548.6 529.7L541.7 515.0M541.5 519.6L541.7 515.0L545.3 517.8M562.7 529.7L554.6 517.0M555.0 521.6L554.6 517.0L558.6 519.3M576.9 529.7L567.1 518.1M568.2 522.6L567.1 518.1L571.4 519.9M591.0 529.7L579.0 519.6M580.8 523.9L579.0 519.6L583.5 520.7M605.2 529.7L590.5 521.3M593.0 525.1L590.5 521.3L595.1 521.5M619.3 529.7L603.0 520.3M605.5 524.2L603.0 520.3L607.6 520.6M633.5 529.7L614.6 522.9M617.8 526.3L614.6 522.9L619.2 522.3M647.6 529.7L627.7 528.0M631.6 530.4L627.7 528.0L631.9 526.3M661.7 529.7L642.5 528.1M646.4 530.5L642.5 528.1L646.8 526.3M124.2 546.7L153.0 541.6M148.6 540.3L153.0 541.6L149.3 544.4M138.3 546.7L165.2 554.6M161.8 551.5L165.2 554.6L160.7 555.5M152.5 546.7L169.8 562.6M168.2 558.3L169.8 562.6L165.4 561.3M166.6 546.7L174.3 562.6M174.4 558.0L174.3 562.6L170.6 559.8M180.8 546.7L181.8 558.4M183.5 554.1L181.8 558.4L179.4 554.5M194.9 546.7L193.0 554.3M196.0 550.9L193.0 554.3L192.0 549.8M209.1 546.7L204.0 552.7M208.3 550.9L204.0 552.7L205.1 548.2M223.2 546.7L217.9 552.5M222.2 550.9L217.9 552.5L219.2 548.1M237.4 546.7L231.8 552.3M236.2 550.8L231.8 552.3L233.2 547.9M251.5 546.7L247.3 553.4M251.3 551.0L247.3 553.4L247.8 548.8M265.7 546.7L262.7 554.0M266.2 551.0L262.7 554.0L262.3 549.4M279.8 546.7L278.5 554.5M281.2 550.8L278.5 554.5L277.1 550.1M294.0 546.7L294.3 554.6M296.2 550.4L294.3 554.6L292.0 550.5M308.1 546.7L308.4 554.6M310.3 550.4L308.4 554.6L306.2 550.5M322.2 546.7L322.6 554.6M324.5 550.4L322.6 554.6L320.3 550.5M336.4 546.7L337.7 558.3M339.3 554.0L337.7 558.3L335.1 554.5M350.5 546.7L353.3 562.2M354.6 557.8L353.3 562.2L350.5 558.5M364.7 546.7L369.0 563.0M370.0 558.5L369.0 563.0L366.0 559.6M378.8 546.7L384.6 562.5M385.1 558.0L384.6 562.5L381.2 559.4M393.0 546.7L408.7 547.2M404.6 545.0L408.7 547.2L404.5 549.1M407.1 546.7L409.2 535.2M406.4 538.9L409.2 535.2L410.5 539.6M421.3 546.7L422.6 539.0M419.9 542.7L422.6 539.0L424.0 543.4M435.4 546.7L437.4 535.2M434.7 538.9L437.4 535.2L438.8 539.6M449.6 546.7L452.5 531.9M449.7 535.5L452.5 531.9L453.8 536.3M463.7 546.7L467.1 531.4M464.2 534.9L467.1 531.4L468.3 535.8M477.9 546.7L481.0 530.8M478.2 534.4L481.0 530.8L482.3 535.2M492.0 546.7L494.8 530.7M492.1 534.4L494.8 530.7L496.2 535.1M506.1 546.7L509.0 530.7M506.2 534.4L509.0 530.7L510.3 535.1M520.3 546.7L523.1 530.7M520.3 534.4L523.1 530.7L524.5 535.1M534.4 546.7L534.8 529.9M532.6 533.9L534.8 529.9L536.8 534.0M548.6 546.7L546.5 530.6M544.9 534.9L546.5 530.6L549.1 534.4M562.7 546.7L558.5 532.2M557.6 536.7L558.5 532.2L561.6 535.5M576.9 546.7L570.5 533.0M570.3 537.6L570.5 533.0L574.1 535.8M591.0 546.7L582.3 534.3M583.0 538.9L582.3 534.3L586.4 536.5M605.2 546.7L594.9 538.1M596.7 542.3L594.9 538.1L599.3 539.1M619.3 546.7L609.9 538.8M611.7 543.0L609.9 538.8L614.4 539.8M633.5 546.7L622.3 540.3M624.8 544.1L622.3 540.3L626.9 540.5M647.6 546.7L635.5 542.3M638.6 545.7L635.5 542.3L640.0 541.7M661.7 546.7L649.3 543.4M652.7 546.5L649.3 543.4L653.8 542.4M124.2 563.7L152.9 547.2M148.3 547.4L152.9 547.2L150.3 551.0M138.3 563.7L169.2 572.0M165.8 568.9L169.2 572.0L164.7 572.9M152.5 563.7L165.9 586.9M165.6 582.3L165.9 586.9L162.0 584.4M166.6 563.7L171.5 582.0M172.5 577.5L171.5 582.0L168.5 578.6M180.8 563.7L180.8 575.4M182.9 571.3L180.8 575.4L178.7 571.3M194.9 563.7L194.9 571.5M197.0 567.4L194.9 571.5L192.8 567.4M209.1 563.7L209.1 571.5M211.2 567.4L209.1 571.5L207.0 567.4M223.2 563.7L223.2 571.5M225.3 567.4L223.2 571.5L221.1 567.4M237.4 563.7L237.4 571.5M239.5 567.4L237.4 571.5L235.3 567.4M251.5 563.7L251.5 571.5M253.6 567.4L251.5 571.5L249.4 567.4M265.7 563.7L265.7 571.5M267.7 567.4L265.7 571.5L263.6 567.4M279.8 563.7L279.8 571.5M281.9 567.4L279.8 571.5L277.7 567.4M294.0 563.7L294.0 571.5M296.0 567.4L294.0 571.5L291.9 567.4M308.1 563.7L308.1 571.5M310.2 567.4L308.1 571.5L306.0 567.4M322.2 563.7L322.2 571.5M324.3 567.4L322.2 571.5L320.2 567.4M336.4 563.7L337.4 575.3M339.1 571.1L337.4 575.3L335.0 571.4M350.5 563.7L353.2 578.6M354.5 574.2L353.2 578.6L350.4 574.9M364.7 563.7L368.9 579.4M369.9 574.9L368.9 579.4L365.8 576.0M378.8 563.7L384.4 579.0M385.0 574.4L384.4 579.0L381.0 575.9M393.0 563.7L408.1 565.0M404.2 562.6L408.1 565.0L403.8 566.7M407.1 563.7L413.0 553.6M409.1 556.1L413.0 553.6L412.7 558.2M421.3 563.7L425.2 556.9M421.3 559.4L425.2 556.9L424.9 561.5M435.4 563.7L441.3 553.6M437.4 556.1L441.3 553.6L441.0 558.2M449.6 563.7L457.1 550.6M453.3 553.1L457.1 550.6L456.9 555.2M463.7 563.7L471.8 549.6M468.0 552.1L471.8 549.6L471.6 554.2M477.9 563.7L486.5 548.6M482.7 551.2L486.5 548.6L486.3 553.2M492.0 563.7L500.7 548.6M496.8 551.2L500.7 548.6L500.4 553.2M506.1 563.7L514.8 548.6M511.0 551.2L514.8 548.6L514.6 553.2M520.3 563.7L529.0 548.6M525.1 551.2L529.0 548.6L528.7 553.2M534.4 563.7L540.4 547.4M537.0 550.5L540.4 547.4L540.9 551.9M548.6 563.7L551.4 547.7M548.6 551.3L551.4 547.7L552.8 552.1M562.7 563.7L562.7 548.6M560.6 552.7L562.7 548.6L564.8 552.7M576.9 563.7L574.2 548.8M572.9 553.2L574.2 548.8L577.0 552.5M591.0 563.7L585.8 549.5M585.3 554.0L585.8 549.5L589.2 552.6M605.2 563.7L599.3 553.6M599.6 558.2L599.3 553.6L603.2 556.1M619.3 563.7L612.9 559.2M615.0 563.3L612.9 559.2L617.4 559.8M633.5 563.7L625.7 562.3M629.4 565.1L625.7 562.3L630.1 561.0M647.6 563.7L639.9 562.3M643.6 565.1L639.9 562.3L644.3 561.0M661.7 563.7L654.0 562.3M657.7 565.1L654.0 562.3L658.4 561.0" stroke="#000" stroke-width="1.45" fill="none" stroke-linecap="round" stroke-linejoin="round"/>
<path d="M194.9 54.3V563.7M265.7 54.3V563.7M336.4 54.3V563.7M407.1 54.3V563.7M477.9 54.3V563.7M548.6 54.3V563.7M619.3 54.3V563.7M124.2 529.7H676.0M124.2 444.8H676.0M124.2 359.9H676.0M124.2 275.0H676.0M124.2 190.1H676.0M124.2 105.2H676.0" stroke="#ababab" stroke-width="1.5" stroke-dasharray="1.5 5.1" fill="none"/>
</g>
<g fill="#666" stroke="#fff" stroke-width="0.3"><text x="147.00" y="109.40" font-size="20.6" textLength="11.40" lengthAdjust="spacingAndGlyphs">Z</text><text x="175.90" y="109.40" font-size="20.6" textLength="14.00" lengthAdjust="spacingAndGlyphs">=</text><text x="207.40" y="109.40" font-size="20.6" textLength="11.40" lengthAdjust="spacingAndGlyphs">2</text><text x="221.80" y="109.40" font-size="20.6" textLength="3.60" lengthAdjust="spacingAndGlyphs">.</text><text x="227.50" y="109.40" font-size="20.6" textLength="11.40" lengthAdjust="spacingAndGlyphs">5</text><text x="256.40" y="109.40" font-size="20.6" textLength="20.10" lengthAdjust="spacingAndGlyphs">m</text></g>
<rect x="124.2" y="54.3" width="551.8" height="509.4" fill="none" stroke="#000" stroke-width="1.7"/>
<path d="M124.2 54.3V563.7" stroke="#b0b0b0" stroke-width="1.5" stroke-dasharray="1.5 5.1" fill="none"/>
<path d="M124.2 563.7V567.7M194.9 563.7V567.7M265.7 563.7V567.7M336.4 563.7V567.7M407.1 563.7V567.7M477.9 563.7V567.7M548.6 563.7V567.7M619.3 563.7V567.7M124.2 529.7H120.0M124.2 444.8H120.0M124.2 359.9H120.0M124.2 275.0H120.0M124.2 190.1H120.0M124.2 105.2H120.0" stroke="#000" stroke-width="1.3" fill="none"/>
<g font-size="13" font-weight="bold" fill="#000"><text x="124.2" y="578.4" text-anchor="middle">28.5</text><text x="194.9" y="578.4" text-anchor="middle">29</text><text x="265.7" y="578.4" text-anchor="middle">29.5</text><text x="336.4" y="578.4" text-anchor="middle">30</text><text x="407.1" y="578.4" text-anchor="middle">30.5</text><text x="477.9" y="578.4" text-anchor="middle">31</text><text x="548.6" y="578.4" text-anchor="middle">31.5</text><text x="619.3" y="578.4" text-anchor="middle">32</text><text x="117.4" y="534.5" text-anchor="end">43</text><text x="117.4" y="449.6" text-anchor="end">43.5</text><text x="117.4" y="364.7" text-anchor="end">44</text><text x="117.4" y="279.8" text-anchor="end">44.5</text><text x="117.4" y="194.9" text-anchor="end">45</text><text x="117.4" y="110.0" text-anchor="end">45.5</text></g>
<g fill="#000" stroke="#fff" stroke-width="0.3"><text x="323.75" y="606.00" font-size="20.6" textLength="86.25" lengthAdjust="spacingAndGlyphs">Longitude</text><text x="422.50" y="606.00" font-size="20.6" textLength="52.50" lengthAdjust="spacingAndGlyphs">(East)</text></g><g fill="#000" stroke="#fff" stroke-width="0.3" transform="translate(80.7,0) rotate(-90)"><text x="-381.50" y="0" font-size="20.6" textLength="69.90" lengthAdjust="spacingAndGlyphs">Latitude</text><text x="-299.40" y="0" font-size="20.6" textLength="62.20" lengthAdjust="spacingAndGlyphs">(North)</text></g>
<rect x="709" y="549.98" width="14" height="6.42" fill="rgb(12,58,255)"/><rect x="709" y="543.95" width="14" height="6.42" fill="rgb(12,58,255)"/><rect x="709" y="537.93" width="14" height="6.42" fill="rgb(12,58,255)"/><rect x="709" y="531.90" width="14" height="6.42" fill="rgb(12,58,255)"/><rect x="709" y="525.88" width="14" height="6.42" fill="rgb(12,58,255)"/><rect x="709" y="519.85" width="14" height="6.42" fill="rgb(12,58,255)"/><rect x="709" y="513.83" width="14" height="6.42" fill="rgb(12,58,255)"/><rect x="709" y="507.80" width="14" height="6.42" fill="rgb(12,58,255)"/><rect x="709" y="501.78" width="14" height="6.42" fill="rgb(12,58,255)"/><rect x="709" y="495.76" width="14" height="6.42" fill="rgb(12,58,255)"/><rect x="709" y="489.73" width="14" height="6.42" fill="rgb(12,58,255)"/><rect x="709" y="483.71" width="14" height="6.42" fill="rgb(12,58,255)"/><rect x="709" y="477.68" width="14" height="6.42" fill="rgb(12,58,255)"/><rect x="709" y="471.66" width="14" height="6.42" fill="rgb(12,58,255)"/><rect x="709" y="465.63" width="14" height="6.42" fill="rgb(12,58,255)"/><rect x="709" y="459.61" width="14" height="6.42" fill="rgb(12,58,255)"/><rect x="709" y="453.59" width="14" height="6.42" fill="rgb(11,63,255)"/><rect x="709" y="447.56" width="14" height="6.42" fill="rgb(10,79,255)"/><rect x="709" y="441.54" width="14" height="6.42" fill="rgb(10,95,255)"/><rect x="709" y="435.51" width="14" height="6.42" fill="rgb(7,110,255)"/><rect x="709" y="429.49" width="14" height="6.42" fill="rgb(4,126,255)"/><rect x="709" y="423.46" width="14" height="6.42" fill="rgb(0,141,255)"/><rect x="709" y="417.44" width="14" height="6.42" fill="rgb(0,154,255)"/><rect x="709" y="411.41" width="14" height="6.42" fill="rgb(0,167,255)"/><rect x="709" y="405.39" width="14" height="6.42" fill="rgb(0,179,255)"/><rect x="709" y="399.37" width="14" height="6.42" fill="rgb(0,192,255)"/><rect x="709" y="393.34" width="14" height="6.42" fill="rgb(0,204,255)"/><rect x="709" y="387.32" width="14" height="6.42" fill="rgb(0,216,255)"/><rect x="709" y="381.29" width="14" height="6.42" fill="rgb(0,228,255)"/><rect x="709" y="375.27" width="14" height="6.42" fill="rgb(0,241,255)"/><rect x="709" y="369.24" width="14" height="6.42" fill="rgb(0,253,255)"/><rect x="709" y="363.22" width="14" height="6.42" fill="rgb(10,255,245)"/><rect x="709" y="357.20" width="14" height="6.42" fill="rgb(21,255,233)"/><rect x="709" y="351.17" width="14" height="6.42" fill="rgb(33,255,222)"/><rect x="709" y="345.15" width="14" height="6.42" fill="rgb(44,255,211)"/><rect x="709" y="339.12" width="14" height="6.42" fill="rgb(56,255,199)"/><rect x="709" y="333.10" width="14" height="6.42" fill="rgb(67,255,188)"/><rect x="709" y="327.07" width="14" height="6.42" fill="rgb(79,255,176)"/><rect x="709" y="321.05" width="14" height="6.42" fill="rgb(92,255,163)"/><rect x="709" y="315.02" width="14" height="6.42" fill="rgb(104,255,151)"/><rect x="709" y="309.00" width="14" height="6.42" fill="rgb(116,255,139)"/><rect x="709" y="302.98" width="14" height="6.42" fill="rgb(128,255,127)"/><rect x="709" y="296.95" width="14" height="6.42" fill="rgb(141,255,114)"/><rect x="709" y="290.93" width="14" height="6.42" fill="rgb(154,255,101)"/><rect x="709" y="284.90" width="14" height="6.42" fill="rgb(168,255,87)"/><rect x="709" y="278.88" width="14" height="6.42" fill="rgb(181,255,74)"/><rect x="709" y="272.85" width="14" height="6.42" fill="rgb(194,255,61)"/><rect x="709" y="266.83" width="14" height="6.42" fill="rgb(209,255,46)"/><rect x="709" y="260.80" width="14" height="6.42" fill="rgb(223,255,31)"/><rect x="709" y="254.78" width="14" height="6.42" fill="rgb(238,255,16)"/><rect x="709" y="248.76" width="14" height="6.42" fill="rgb(252,255,2)"/><rect x="709" y="242.73" width="14" height="6.42" fill="rgb(255,245,0)"/><rect x="709" y="236.71" width="14" height="6.42" fill="rgb(255,233,0)"/><rect x="709" y="230.68" width="14" height="6.42" fill="rgb(255,221,0)"/><rect x="709" y="224.66" width="14" height="6.42" fill="rgb(255,209,0)"/><rect x="709" y="218.63" width="14" height="6.42" fill="rgb(255,198,0)"/><rect x="709" y="212.61" width="14" height="6.42" fill="rgb(255,186,0)"/><rect x="709" y="206.59" width="14" height="6.42" fill="rgb(255,174,0)"/><rect x="709" y="200.56" width="14" height="6.42" fill="rgb(255,163,0)"/><rect x="709" y="194.54" width="14" height="6.42" fill="rgb(255,151,0)"/><rect x="709" y="188.51" width="14" height="6.42" fill="rgb(255,139,0)"/><rect x="709" y="182.49" width="14" height="6.42" fill="rgb(255,128,0)"/><rect x="709" y="176.46" width="14" height="6.42" fill="rgb(255,114,0)"/><rect x="709" y="170.44" width="14" height="6.42" fill="rgb(255,101,0)"/><rect x="709" y="164.41" width="14" height="6.42" fill="rgb(255,88,0)"/><rect x="709" y="158.39" width="14" height="6.42" fill="rgb(255,74,0)"/><rect x="709" y="152.37" width="14" height="6.42" fill="rgb(255,61,0)"/><rect x="709" y="146.34" width="14" height="6.42" fill="rgb(255,48,0)"/><rect x="709" y="140.32" width="14" height="6.42" fill="rgb(255,35,0)"/><rect x="709" y="134.29" width="14" height="6.42" fill="rgb(255,21,0)"/><rect x="709" y="128.27" width="14" height="6.42" fill="rgb(255,8,0)"/><rect x="709" y="122.24" width="14" height="6.42" fill="rgb(250,0,0)"/><rect x="709" y="116.22" width="14" height="6.42" fill="rgb(239,0,0)"/><rect x="709" y="110.20" width="14" height="6.42" fill="rgb(227,0,0)"/><rect x="709" y="104.17" width="14" height="6.42" fill="rgb(215,0,0)"/><rect x="709" y="98.15" width="14" height="6.42" fill="rgb(203,0,0)"/><rect x="709" y="92.12" width="14" height="6.42" fill="rgb(192,0,0)"/><rect x="709" y="86.10" width="14" height="6.42" fill="rgb(180,0,0)"/><rect x="709" y="80.07" width="14" height="6.42" fill="rgb(167,0,0)"/><rect x="709" y="74.05" width="14" height="6.42" fill="rgb(155,0,0)"/><rect x="709" y="68.02" width="14" height="6.42" fill="rgb(143,0,0)"/><rect x="709" y="62.00" width="14" height="6.42" fill="rgb(131,0,0)"/>
<g font-size="14.4" fill="#000"><text x="734.4" y="555.0">0.00</text><text x="734.4" y="433.1">0.08</text><text x="734.4" y="310.9">0.17</text><text x="734.4" y="188.8">0.25</text><text x="734.4" y="73.1">0.34</text></g>
</svg>
</body></html>
